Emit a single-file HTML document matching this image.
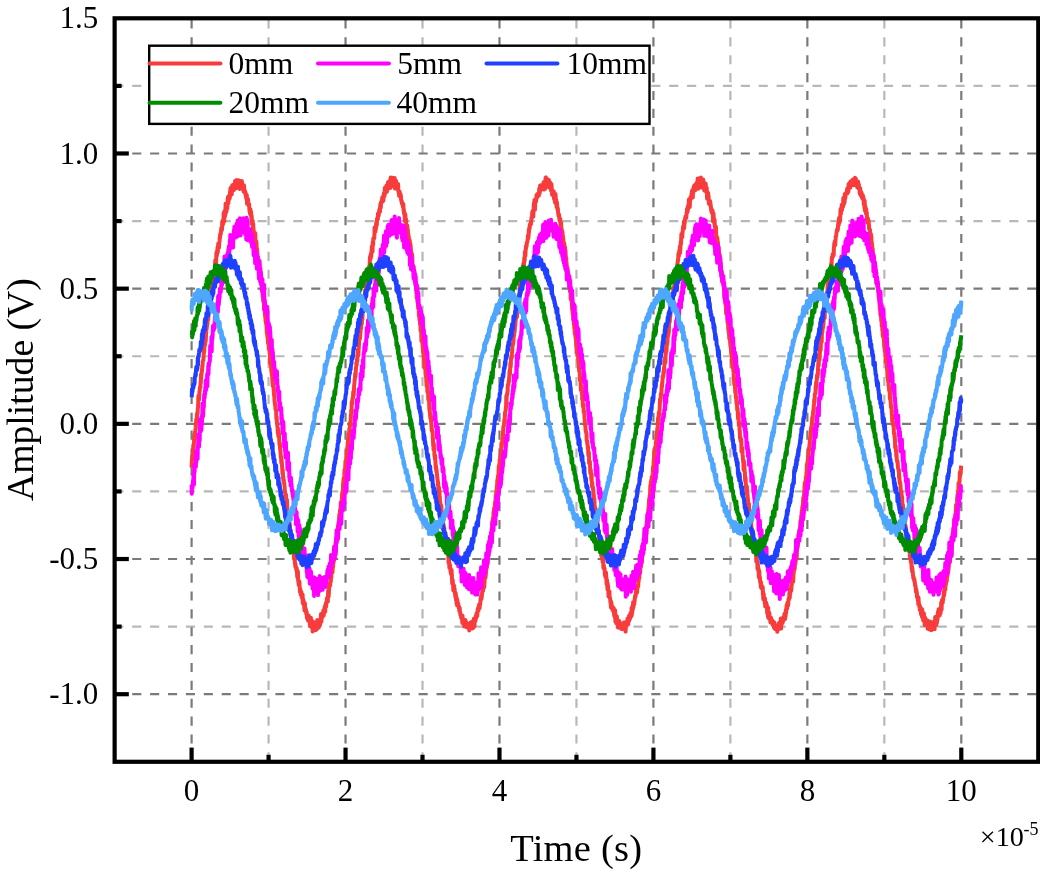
<!DOCTYPE html>
<html lang="en"><head><meta charset="utf-8"><title>Amplitude vs Time</title>
<style>html,body{margin:0;padding:0;background:#fff}body{width:1040px;height:874px;overflow:hidden}svg{display:block}text{font-family:"Liberation Serif",serif;fill:#000}</style>
</head><body>
<svg width="1040" height="874" viewBox="0 0 1040 874">
<rect width="1040" height="874" fill="#fff"/>
<g fill="none" stroke-width="2.2" stroke-dasharray="9.1 8.8">
<path d="M114.30 85.89H1038.27" stroke="#b8b8b8"/>
<path d="M114.30 221.07H1038.27" stroke="#b8b8b8"/>
<path d="M114.30 356.25H1038.27" stroke="#b8b8b8"/>
<path d="M114.30 491.43H1038.27" stroke="#b8b8b8"/>
<path d="M114.30 626.61H1038.27" stroke="#b8b8b8"/>
<path d="M268.57 19.50V761.79" stroke="#b8b8b8" stroke-dasharray="9.1 8.773"/>
<path d="M422.51 19.50V761.79" stroke="#b8b8b8" stroke-dasharray="9.1 8.773"/>
<path d="M576.45 19.50V761.79" stroke="#b8b8b8" stroke-dasharray="9.1 8.773"/>
<path d="M730.39 19.50V761.79" stroke="#b8b8b8" stroke-dasharray="9.1 8.773"/>
<path d="M884.33 19.50V761.79" stroke="#b8b8b8" stroke-dasharray="9.1 8.773"/>
<path d="M114.30 153.48H1038.27" stroke="#7a7a7a"/>
<path d="M114.30 288.66H1038.27" stroke="#7a7a7a"/>
<path d="M114.30 423.84H1038.27" stroke="#7a7a7a"/>
<path d="M114.30 559.02H1038.27" stroke="#7a7a7a"/>
<path d="M114.30 694.20H1038.27" stroke="#7a7a7a"/>
<path d="M191.60 19.50V761.79" stroke="#7a7a7a" stroke-dasharray="9.1 8.773"/>
<path d="M345.54 19.50V761.79" stroke="#7a7a7a" stroke-dasharray="9.1 8.773"/>
<path d="M499.48 19.50V761.79" stroke="#7a7a7a" stroke-dasharray="9.1 8.773"/>
<path d="M653.42 19.50V761.79" stroke="#7a7a7a" stroke-dasharray="9.1 8.773"/>
<path d="M807.36 19.50V761.79" stroke="#7a7a7a" stroke-dasharray="9.1 8.773"/>
<path d="M961.30 19.50V761.79" stroke="#7a7a7a" stroke-dasharray="9.1 8.773"/>
</g>
<g fill="none" stroke-width="4" stroke-linejoin="round" stroke-linecap="butt">
<path stroke="#f83c3c" d="M191.6 467.7L191.8 462.7L192.0 459.4L192.2 456.0L192.5 459.7L192.7 458.0L192.9 451.2L193.1 449.8L193.3 445.3L193.5 444.7L193.7 445.3L194.0 443.8L194.2 435.1L194.4 440.0L194.6 439.2L194.8 438.1L195.0 433.2L195.2 431.1L195.4 430.3L195.7 427.7L195.9 424.9L196.1 421.9L196.3 419.0L196.5 419.2L196.7 422.1L196.9 414.1L197.2 417.3L197.4 412.4L197.6 413.6L197.8 408.0L198.0 408.0L198.2 403.6L198.4 396.1L198.7 400.4L198.9 396.3L199.1 399.6L199.3 395.2L199.5 391.0L199.7 390.9L199.9 387.8L200.2 386.6L200.4 387.4L200.6 381.6L200.8 383.1L201.0 374.6L201.2 378.5L201.4 373.7L201.6 373.5L201.9 369.3L202.1 371.2L202.3 365.4L202.5 366.3L202.7 361.0L202.9 360.7L203.1 360.1L203.4 360.4L203.6 354.8L203.8 353.7L204.0 349.0L204.2 352.1L204.4 348.0L204.6 346.3L204.9 345.0L205.1 343.4L205.3 341.7L205.5 341.8L205.7 341.0L205.9 337.7L206.1 333.5L206.4 329.5L206.6 329.1L206.8 327.1L207.0 326.1L207.2 324.5L207.4 324.0L207.6 320.9L207.8 316.7L208.1 320.1L208.3 319.3L208.5 311.1L208.7 313.6L208.9 310.2L209.1 308.7L209.3 311.9L209.6 301.6L209.8 301.5L210.0 303.8L210.2 300.7L210.4 300.6L210.6 301.5L210.8 298.0L211.1 295.2L211.3 291.8L211.5 291.2L211.7 291.2L211.9 286.5L212.1 290.0L212.3 284.7L212.6 282.4L212.8 284.3L213.0 286.4L213.2 282.7L213.4 278.4L213.6 276.2L213.8 272.2L214.0 277.0L214.3 273.1L214.5 270.0L214.7 270.5L214.9 274.5L215.1 265.3L215.3 260.2L215.5 262.0L215.8 265.2L216.0 262.6L216.2 259.7L216.4 252.8L216.6 256.0L216.8 255.8L217.0 251.0L217.3 253.6L217.5 247.6L217.7 252.5L217.9 250.6L218.1 246.4L218.3 243.4L218.5 244.0L218.8 243.6L219.0 247.6L219.2 243.6L219.4 242.1L219.6 240.7L219.8 236.8L220.0 237.8L220.2 233.9L220.5 234.4L220.7 234.3L220.9 232.0L221.1 230.1L221.3 228.0L221.5 230.1L221.7 228.4L222.0 230.0L222.2 221.7L222.4 221.0L222.6 223.9L222.8 223.6L223.0 224.4L223.2 220.0L223.5 218.9L223.7 213.0L223.9 216.8L224.1 218.3L224.3 221.4L224.5 211.0L224.7 213.1L225.0 216.5L225.2 211.2L225.4 214.7L225.6 203.8L225.8 206.3L226.0 206.7L226.2 207.7L226.5 211.7L226.7 205.9L226.9 208.6L227.1 202.6L227.3 208.4L227.5 204.7L227.7 198.7L227.9 196.9L228.2 203.1L228.4 203.2L228.6 196.6L228.8 196.0L229.0 199.8L229.2 198.4L229.4 197.8L229.7 198.4L229.9 196.5L230.1 191.2L230.3 192.0L230.5 188.1L230.7 192.7L230.9 192.3L231.2 193.8L231.4 191.2L231.6 193.6L231.8 194.3L232.0 187.8L232.2 185.5L232.4 186.5L232.7 184.9L232.9 187.1L233.1 189.1L233.3 186.8L233.5 187.5L233.7 189.0L233.9 190.0L234.1 189.2L234.4 185.3L234.6 184.7L234.8 185.9L235.0 181.0L235.2 183.8L235.4 182.6L235.6 180.9L235.9 185.7L236.1 188.3L236.3 181.5L236.5 184.9L236.7 179.9L236.9 182.2L237.1 180.5L237.4 181.0L237.6 187.8L237.8 181.0L238.0 184.4L238.2 184.6L238.4 183.8L238.6 180.9L238.9 180.7L239.1 180.4L239.3 187.0L239.5 184.5L239.7 189.0L239.9 183.6L240.1 182.0L240.3 185.5L240.6 183.3L240.8 183.5L241.0 181.9L241.2 186.6L241.4 186.8L241.6 187.0L241.8 181.1L242.1 183.1L242.3 186.3L242.5 185.8L242.7 186.5L242.9 186.7L243.1 188.1L243.3 188.8L243.6 191.5L243.8 190.4L244.0 185.3L244.2 188.5L244.4 190.2L244.6 191.4L244.8 191.3L245.1 191.2L245.3 194.2L245.5 192.7L245.7 193.2L245.9 196.3L246.1 197.0L246.3 198.2L246.5 199.1L246.8 195.0L247.0 203.7L247.2 199.3L247.4 200.9L247.6 201.7L247.8 200.8L248.0 199.1L248.3 202.5L248.5 203.8L248.7 205.9L248.9 205.6L249.1 203.9L249.3 208.0L249.5 210.8L249.8 212.0L250.0 212.6L250.2 214.3L250.4 209.2L250.6 212.1L250.8 214.5L251.0 211.5L251.3 217.7L251.5 215.3L251.7 216.3L251.9 223.2L252.1 224.3L252.3 223.9L252.5 220.6L252.7 220.9L253.0 228.2L253.2 223.9L253.4 228.6L253.6 229.9L253.8 231.5L254.0 232.2L254.2 237.2L254.5 236.5L254.7 238.4L254.9 235.5L255.1 233.0L255.3 233.3L255.5 241.6L255.7 246.4L256.0 244.6L256.2 247.3L256.4 241.6L256.6 246.5L256.8 251.1L257.0 248.5L257.2 251.0L257.5 257.7L257.7 256.6L257.9 257.4L258.1 258.3L258.3 259.6L258.5 262.3L258.7 262.6L258.9 266.0L259.2 268.4L259.4 264.1L259.6 268.6L259.8 270.0L260.0 276.6L260.2 274.8L260.4 274.0L260.7 280.8L260.9 276.7L261.1 282.0L261.3 281.8L261.5 284.8L261.7 285.7L261.9 285.0L262.2 290.6L262.4 287.6L262.6 295.1L262.8 297.2L263.0 295.0L263.2 301.1L263.4 301.2L263.7 299.9L263.9 300.9L264.1 310.0L264.3 306.3L264.5 304.7L264.7 308.2L264.9 313.6L265.1 316.3L265.4 317.4L265.6 321.4L265.8 321.1L266.0 322.7L266.2 324.5L266.4 323.2L266.6 328.5L266.9 333.4L267.1 329.2L267.3 336.2L267.5 336.6L267.7 337.7L267.9 340.2L268.1 343.7L268.4 343.8L268.6 339.8L268.8 348.5L269.0 349.3L269.2 348.1L269.4 351.0L269.6 352.9L269.9 354.6L270.1 363.4L270.3 362.7L270.5 362.2L270.7 363.3L270.9 363.3L271.1 367.2L271.3 370.9L271.6 372.2L271.8 374.7L272.0 375.6L272.2 376.5L272.4 380.9L272.6 384.0L272.8 386.1L273.1 383.3L273.3 384.8L273.5 387.4L273.7 389.7L273.9 391.7L274.1 395.7L274.3 396.0L274.6 402.1L274.8 402.0L275.0 405.2L275.2 403.6L275.4 408.7L275.6 409.5L275.8 410.2L276.1 409.8L276.3 417.0L276.5 419.3L276.7 416.9L276.9 423.5L277.1 421.6L277.3 426.0L277.5 426.8L277.8 432.9L278.0 428.6L278.2 433.5L278.4 436.4L278.6 431.0L278.8 436.2L279.0 433.7L279.3 440.7L279.5 444.4L279.7 445.2L279.9 443.4L280.1 449.2L280.3 449.9L280.5 451.6L280.8 456.9L281.0 456.2L281.2 459.6L281.4 463.2L281.6 459.9L281.8 462.2L282.0 465.4L282.3 469.6L282.5 474.1L282.7 469.8L282.9 473.0L283.1 478.7L283.3 476.5L283.5 481.8L283.8 479.9L284.0 481.3L284.2 482.5L284.4 484.6L284.6 486.4L284.8 491.3L285.0 491.2L285.2 493.2L285.5 494.2L285.7 494.7L285.9 495.5L286.1 494.7L286.3 506.5L286.5 501.1L286.7 504.2L287.0 499.8L287.2 504.7L287.4 512.6L287.6 509.3L287.8 513.1L288.0 511.0L288.2 517.6L288.5 516.9L288.7 518.5L288.9 520.0L289.1 522.8L289.3 527.4L289.5 523.3L289.7 523.6L290.0 527.7L290.2 531.5L290.4 530.1L290.6 530.7L290.8 534.0L291.0 535.1L291.2 533.1L291.4 540.7L291.7 540.8L291.9 545.5L292.1 544.0L292.3 545.5L292.5 547.5L292.7 548.2L292.9 543.6L293.2 549.8L293.4 551.0L293.6 546.7L293.8 553.6L294.0 559.0L294.2 555.1L294.4 559.7L294.7 554.8L294.9 563.1L295.1 562.8L295.3 566.6L295.5 563.7L295.7 567.7L295.9 566.6L296.2 568.6L296.4 570.4L296.6 567.8L296.8 569.1L297.0 572.4L297.2 575.9L297.4 577.5L297.6 575.4L297.9 571.4L298.1 579.5L298.3 581.4L298.5 582.3L298.7 584.4L298.9 585.2L299.1 584.4L299.4 581.5L299.6 586.1L299.8 588.4L300.0 592.1L300.2 588.7L300.4 590.3L300.6 594.2L300.9 594.8L301.1 593.3L301.3 591.7L301.5 593.6L301.7 595.5L301.9 597.8L302.1 597.1L302.4 598.8L302.6 594.4L302.8 603.3L303.0 602.3L303.2 599.2L303.4 603.8L303.6 600.5L303.8 604.9L304.1 605.2L304.3 607.2L304.5 610.5L304.7 610.2L304.9 603.2L305.1 607.8L305.3 608.6L305.6 608.5L305.8 610.1L306.0 609.7L306.2 613.4L306.4 614.0L306.6 611.7L306.8 615.6L307.1 618.5L307.3 616.4L307.5 617.8L307.7 615.5L307.9 619.3L308.1 620.7L308.3 619.4L308.6 615.4L308.8 619.7L309.0 619.7L309.2 620.5L309.4 620.3L309.6 619.2L309.8 618.4L310.0 626.2L310.3 619.3L310.5 623.0L310.7 624.1L310.9 617.8L311.1 624.4L311.3 619.5L311.5 622.2L311.8 627.3L312.0 623.9L312.2 623.5L312.4 625.8L312.6 631.4L312.8 626.7L313.0 626.5L313.3 628.9L313.5 621.9L313.7 627.1L313.9 627.5L314.1 627.4L314.3 628.6L314.5 628.7L314.8 626.6L315.0 626.1L315.2 628.1L315.4 627.0L315.6 630.2L315.8 625.5L316.0 628.5L316.2 626.1L316.5 628.7L316.7 627.6L316.9 625.7L317.1 629.0L317.3 619.9L317.5 625.8L317.7 625.7L318.0 627.0L318.2 621.1L318.4 621.4L318.6 623.7L318.8 627.5L319.0 625.1L319.2 622.0L319.5 624.4L319.7 625.7L319.9 625.3L320.1 623.9L320.3 621.5L320.5 622.7L320.7 620.6L321.0 614.1L321.2 615.4L321.4 621.7L321.6 617.8L321.8 617.9L322.0 617.9L322.2 614.4L322.4 617.2L322.7 616.5L322.9 616.0L323.1 614.7L323.3 610.6L323.5 611.2L323.7 615.6L323.9 612.7L324.2 612.8L324.4 608.2L324.6 608.8L324.8 606.4L325.0 607.9L325.2 611.6L325.4 605.0L325.7 604.6L325.9 603.1L326.1 606.6L326.3 602.3L326.5 603.2L326.7 602.3L326.9 598.8L327.2 597.8L327.4 599.8L327.6 600.8L327.8 601.6L328.0 595.9L328.2 590.7L328.4 592.5L328.6 596.8L328.9 592.3L329.1 588.0L329.3 583.8L329.5 583.9L329.7 584.6L329.9 583.8L330.1 585.7L330.4 583.0L330.6 581.5L330.8 581.3L331.0 578.0L331.2 577.8L331.4 574.7L331.6 570.7L331.9 571.1L332.1 570.5L332.3 570.7L332.5 572.5L332.7 567.7L332.9 564.7L333.1 567.0L333.4 560.1L333.6 562.5L333.8 559.3L334.0 559.6L334.2 560.3L334.4 550.7L334.6 557.1L334.8 550.5L335.1 552.6L335.3 549.0L335.5 550.1L335.7 547.5L335.9 542.7L336.1 538.6L336.3 543.8L336.6 540.1L336.8 536.2L337.0 538.4L337.2 533.5L337.4 535.5L337.6 530.4L337.8 529.1L338.1 525.6L338.3 525.9L338.5 528.0L338.7 521.8L338.9 524.3L339.1 518.1L339.3 514.5L339.6 514.9L339.8 516.0L340.0 510.0L340.2 510.7L340.4 512.3L340.6 508.4L340.8 502.2L341.1 504.6L341.3 501.8L341.5 501.1L341.7 502.5L341.9 497.8L342.1 493.9L342.3 492.4L342.5 491.4L342.8 494.3L343.0 484.3L343.2 483.6L343.4 481.0L343.6 478.5L343.8 480.8L344.0 479.3L344.3 475.2L344.5 470.0L344.7 476.2L344.9 470.8L345.1 470.1L345.3 465.0L345.5 460.9L345.8 463.3L346.0 463.6L346.2 458.6L346.4 457.4L346.6 458.6L346.8 450.7L347.0 452.2L347.3 447.3L347.5 450.2L347.7 442.4L347.9 446.7L348.1 438.6L348.3 443.7L348.5 433.9L348.7 436.3L349.0 437.2L349.2 432.0L349.4 428.7L349.6 429.9L349.8 426.8L350.0 423.0L350.2 422.1L350.5 425.8L350.7 418.8L350.9 414.8L351.1 413.2L351.3 409.5L351.5 411.7L351.7 402.0L352.0 404.2L352.2 403.4L352.4 399.6L352.6 398.0L352.8 398.1L353.0 397.9L353.2 392.0L353.5 391.5L353.7 395.3L353.9 391.4L354.1 385.7L354.3 384.6L354.5 382.3L354.7 379.5L354.9 378.8L355.2 373.4L355.4 376.8L355.6 374.5L355.8 370.8L356.0 367.9L356.2 365.9L356.4 362.4L356.7 365.3L356.9 359.4L357.1 359.3L357.3 361.1L357.5 357.0L357.7 349.8L357.9 351.1L358.2 352.3L358.4 355.2L358.6 349.3L358.8 347.4L359.0 343.7L359.2 336.5L359.4 338.5L359.7 337.8L359.9 339.0L360.1 337.9L360.3 333.7L360.5 332.6L360.7 323.6L360.9 328.9L361.1 327.7L361.4 321.7L361.6 322.5L361.8 324.0L362.0 316.2L362.2 318.4L362.4 319.1L362.6 313.4L362.9 311.3L363.1 311.7L363.3 307.5L363.5 305.5L363.7 308.0L363.9 309.2L364.1 308.4L364.4 301.3L364.6 296.3L364.8 295.3L365.0 292.7L365.2 290.0L365.4 292.9L365.6 288.8L365.9 293.5L366.1 286.5L366.3 285.7L366.5 285.3L366.7 284.6L366.9 284.7L367.1 280.2L367.3 275.9L367.6 278.4L367.8 274.7L368.0 276.1L368.2 272.4L368.4 274.0L368.6 269.2L368.8 269.2L369.1 266.5L369.3 267.3L369.5 267.3L369.7 263.8L369.9 259.1L370.1 256.4L370.3 259.6L370.6 255.5L370.8 254.3L371.0 253.8L371.2 257.2L371.4 251.3L371.6 253.2L371.8 246.6L372.1 246.3L372.3 245.4L372.5 251.7L372.7 242.9L372.9 241.4L373.1 245.0L373.3 238.3L373.5 239.2L373.8 238.7L374.0 238.7L374.2 238.3L374.4 235.7L374.6 227.4L374.8 231.8L375.0 230.7L375.3 231.6L375.5 230.4L375.7 229.2L375.9 228.9L376.1 223.5L376.3 225.2L376.5 221.4L376.8 225.3L377.0 219.1L377.2 220.4L377.4 217.7L377.6 218.6L377.8 219.5L378.0 213.4L378.3 216.5L378.5 214.8L378.7 215.7L378.9 212.1L379.1 212.6L379.3 210.1L379.5 209.0L379.7 210.7L380.0 211.6L380.2 206.2L380.4 204.2L380.6 203.9L380.8 207.6L381.0 202.5L381.2 202.3L381.5 201.8L381.7 200.6L381.9 201.7L382.1 199.7L382.3 197.2L382.5 200.0L382.7 201.6L383.0 197.7L383.2 196.3L383.4 200.6L383.6 197.1L383.8 193.4L384.0 194.6L384.2 193.4L384.5 196.2L384.7 190.3L384.9 187.7L385.1 191.9L385.3 192.7L385.5 193.2L385.7 187.8L385.9 189.2L386.2 190.9L386.4 185.6L386.6 186.3L386.8 186.3L387.0 191.6L387.2 187.2L387.4 185.1L387.7 189.2L387.9 183.7L388.1 182.1L388.3 182.8L388.5 186.8L388.7 186.5L388.9 182.2L389.2 181.9L389.4 181.1L389.6 180.9L389.8 183.9L390.0 184.5L390.2 187.9L390.4 181.3L390.7 177.5L390.9 184.1L391.1 184.1L391.3 181.3L391.5 181.9L391.7 186.1L391.9 184.5L392.1 185.4L392.4 177.8L392.6 184.5L392.8 180.8L393.0 178.2L393.2 178.4L393.4 179.6L393.6 179.2L393.9 186.4L394.1 184.3L394.3 185.5L394.5 184.6L394.7 178.0L394.9 188.4L395.1 183.2L395.4 187.8L395.6 181.8L395.8 182.2L396.0 187.0L396.2 181.0L396.4 186.2L396.6 183.6L396.9 186.4L397.1 188.9L397.3 188.9L397.5 188.7L397.7 187.4L397.9 189.1L398.1 184.1L398.3 190.8L398.6 192.0L398.8 193.2L399.0 193.9L399.2 196.1L399.4 195.6L399.6 191.6L399.8 194.3L400.1 195.5L400.3 194.9L400.5 193.9L400.7 195.7L400.9 196.0L401.1 200.0L401.3 200.1L401.6 202.1L401.8 201.2L402.0 203.8L402.2 203.6L402.4 203.9L402.6 204.9L402.8 205.9L403.1 207.3L403.3 203.9L403.5 208.8L403.7 211.4L403.9 209.5L404.1 213.6L404.3 214.5L404.6 212.7L404.8 218.0L405.0 221.1L405.2 215.4L405.4 214.7L405.6 222.3L405.8 221.6L406.0 219.1L406.3 226.5L406.5 225.0L406.7 227.0L406.9 225.7L407.1 231.2L407.3 225.5L407.5 229.3L407.8 229.4L408.0 232.3L408.2 237.9L408.4 234.4L408.6 238.6L408.8 236.7L409.0 240.1L409.3 240.2L409.5 241.3L409.7 240.3L409.9 241.7L410.1 247.4L410.3 246.5L410.5 244.3L410.8 248.1L411.0 252.6L411.2 252.6L411.4 254.6L411.6 253.0L411.8 256.7L412.0 257.4L412.2 254.5L412.5 264.8L412.7 265.5L412.9 268.8L413.1 270.1L413.3 265.7L413.5 268.7L413.7 267.1L414.0 277.5L414.2 276.5L414.4 272.5L414.6 275.2L414.8 277.2L415.0 278.9L415.2 282.7L415.5 284.5L415.7 286.1L415.9 285.9L416.1 290.1L416.3 290.6L416.5 289.6L416.7 297.7L417.0 298.5L417.2 297.1L417.4 300.9L417.6 302.4L417.8 298.8L418.0 304.7L418.2 308.5L418.4 306.7L418.7 305.1L418.9 315.7L419.1 316.5L419.3 316.4L419.5 320.1L419.7 315.1L419.9 321.0L420.2 325.1L420.4 324.8L420.6 329.9L420.8 331.3L421.0 331.5L421.2 327.8L421.4 341.0L421.7 336.4L421.9 336.0L422.1 339.4L422.3 338.5L422.5 344.0L422.7 346.7L422.9 349.3L423.2 353.0L423.4 348.8L423.6 357.6L423.8 357.0L424.0 359.9L424.2 362.5L424.4 367.9L424.6 365.4L424.9 366.1L425.1 368.0L425.3 368.3L425.5 372.7L425.7 375.8L425.9 375.4L426.1 376.5L426.4 382.3L426.6 385.7L426.8 386.5L427.0 383.4L427.2 385.5L427.4 392.0L427.6 391.5L427.9 391.7L428.1 392.4L428.3 399.2L428.5 400.2L428.7 398.1L428.9 397.6L429.1 401.7L429.4 410.1L429.6 408.2L429.8 411.9L430.0 413.3L430.2 416.7L430.4 418.2L430.6 418.9L430.8 416.4L431.1 421.0L431.3 423.6L431.5 426.5L431.7 430.3L431.9 430.9L432.1 429.3L432.3 432.1L432.6 431.3L432.8 437.3L433.0 439.9L433.2 445.6L433.4 442.6L433.6 449.6L433.8 443.6L434.1 450.7L434.3 451.0L434.5 456.1L434.7 455.9L434.9 458.8L435.1 455.6L435.3 459.6L435.6 464.9L435.8 468.5L436.0 465.8L436.2 468.6L436.4 471.9L436.6 469.6L436.8 473.3L437.0 474.3L437.3 477.8L437.5 479.5L437.7 481.0L437.9 485.5L438.1 481.8L438.3 484.1L438.5 491.0L438.8 488.3L439.0 487.5L439.2 491.4L439.4 490.5L439.6 496.0L439.8 497.0L440.0 501.9L440.3 502.6L440.5 506.5L440.7 505.9L440.9 504.8L441.1 505.7L441.3 505.8L441.5 509.9L441.8 514.3L442.0 512.4L442.2 515.4L442.4 512.3L442.6 513.5L442.8 517.5L443.0 524.1L443.2 524.2L443.5 524.0L443.7 527.7L443.9 526.3L444.1 527.4L444.3 528.5L444.5 531.5L444.7 535.7L445.0 537.1L445.2 536.8L445.4 534.7L445.6 535.6L445.8 538.5L446.0 541.4L446.2 542.1L446.5 543.1L446.7 543.4L446.9 545.9L447.1 553.1L447.3 548.4L447.5 551.1L447.7 554.6L448.0 553.5L448.2 555.4L448.4 557.6L448.6 562.9L448.8 559.8L449.0 560.0L449.2 562.8L449.4 567.8L449.7 564.1L449.9 564.7L450.1 567.2L450.3 567.9L450.5 571.0L450.7 572.9L450.9 571.3L451.2 574.6L451.4 574.5L451.6 570.0L451.8 575.5L452.0 578.1L452.2 583.5L452.4 580.4L452.7 579.9L452.9 584.6L453.1 584.5L453.3 590.5L453.5 584.7L453.7 588.6L453.9 586.5L454.2 585.9L454.4 590.6L454.6 588.8L454.8 591.6L455.0 593.7L455.2 594.8L455.4 597.2L455.6 592.9L455.9 594.8L456.1 600.3L456.3 596.7L456.5 601.5L456.7 604.2L456.9 598.5L457.1 605.4L457.4 600.2L457.6 603.5L457.8 602.6L458.0 604.3L458.2 603.5L458.4 606.3L458.6 606.5L458.9 608.0L459.1 606.7L459.3 611.0L459.5 608.3L459.7 607.8L459.9 612.3L460.1 611.7L460.4 614.7L460.6 614.8L460.8 614.1L461.0 616.1L461.2 618.1L461.4 616.5L461.6 616.6L461.9 616.8L462.1 616.4L462.3 622.9L462.5 615.7L462.7 620.0L462.9 622.0L463.1 621.4L463.3 619.9L463.6 619.3L463.8 622.7L464.0 621.8L464.2 626.5L464.4 622.5L464.6 623.6L464.8 624.7L465.1 621.8L465.3 619.9L465.5 622.0L465.7 626.7L465.9 621.3L466.1 626.1L466.3 625.6L466.6 627.1L466.8 624.8L467.0 624.7L467.2 625.9L467.4 626.9L467.6 626.8L467.8 627.5L468.1 624.3L468.3 628.0L468.5 627.1L468.7 627.3L468.9 628.7L469.1 627.4L469.3 630.4L469.5 625.8L469.8 625.4L470.0 627.4L470.2 622.8L470.4 628.5L470.6 625.0L470.8 625.0L471.0 627.4L471.3 626.5L471.5 623.5L471.7 625.3L471.9 624.6L472.1 621.6L472.3 624.2L472.5 628.5L472.8 625.9L473.0 621.8L473.2 623.8L473.4 625.8L473.6 627.6L473.8 621.6L474.0 618.4L474.3 624.6L474.5 626.4L474.7 619.5L474.9 621.5L475.1 620.4L475.3 620.0L475.5 620.8L475.7 617.0L476.0 615.3L476.2 616.1L476.4 617.7L476.6 613.2L476.8 615.4L477.0 613.0L477.2 616.0L477.5 611.5L477.7 610.6L477.9 608.5L478.1 610.8L478.3 609.1L478.5 610.7L478.7 606.4L479.0 605.9L479.2 604.3L479.4 607.0L479.6 608.1L479.8 604.5L480.0 603.9L480.2 604.3L480.5 600.1L480.7 598.3L480.9 598.7L481.1 596.0L481.3 596.7L481.5 599.0L481.7 597.0L481.9 595.4L482.2 591.8L482.4 590.2L482.6 590.9L482.8 587.7L483.0 591.0L483.2 588.1L483.4 583.1L483.7 584.5L483.9 581.8L484.1 587.6L484.3 585.9L484.5 582.7L484.7 577.0L484.9 574.2L485.2 578.3L485.4 577.9L485.6 576.6L485.8 575.0L486.0 570.2L486.2 570.9L486.4 564.3L486.7 565.6L486.9 567.6L487.1 564.0L487.3 563.5L487.5 559.8L487.7 558.0L487.9 559.6L488.1 555.1L488.4 554.4L488.6 554.5L488.8 552.1L489.0 549.6L489.2 550.4L489.4 549.7L489.6 543.5L489.9 544.9L490.1 544.8L490.3 540.6L490.5 543.6L490.7 538.4L490.9 540.1L491.1 536.2L491.4 537.8L491.6 533.6L491.8 528.0L492.0 528.9L492.2 529.7L492.4 520.9L492.6 524.9L492.9 518.1L493.1 521.1L493.3 521.6L493.5 512.0L493.7 515.7L493.9 511.0L494.1 508.2L494.3 512.4L494.6 507.3L494.8 507.1L495.0 502.4L495.2 502.1L495.4 503.2L495.6 498.3L495.8 494.7L496.1 495.4L496.3 491.5L496.5 492.3L496.7 489.3L496.9 486.4L497.1 485.0L497.3 480.5L497.6 479.4L497.8 477.7L498.0 476.1L498.2 475.6L498.4 476.8L498.6 469.6L498.8 466.1L499.1 467.8L499.3 467.0L499.5 464.5L499.7 459.6L499.9 459.9L500.1 461.0L500.3 457.1L500.5 456.6L500.8 453.3L501.0 453.0L501.2 451.1L501.4 443.5L501.6 442.6L501.8 447.0L502.0 443.5L502.3 440.3L502.5 438.2L502.7 438.6L502.9 431.3L503.1 435.3L503.3 427.8L503.5 425.9L503.8 426.4L504.0 425.2L504.2 421.5L504.4 419.4L504.6 422.8L504.8 418.8L505.0 412.6L505.3 412.2L505.5 411.0L505.7 410.4L505.9 407.8L506.1 406.0L506.3 396.1L506.5 403.3L506.7 394.7L507.0 395.3L507.2 394.0L507.4 392.1L507.6 391.5L507.8 384.9L508.0 385.6L508.2 385.0L508.5 383.3L508.7 380.6L508.9 381.9L509.1 378.0L509.3 376.9L509.5 372.0L509.7 370.2L510.0 374.2L510.2 368.4L510.4 363.6L510.6 367.2L510.8 365.1L511.0 358.0L511.2 358.8L511.5 357.8L511.7 357.7L511.9 352.6L512.1 352.5L512.3 348.8L512.5 346.5L512.7 344.0L512.9 344.7L513.2 343.4L513.4 340.2L513.6 338.8L513.8 336.3L514.0 336.2L514.2 333.8L514.4 332.8L514.7 331.1L514.9 327.6L515.1 323.4L515.3 325.7L515.5 321.3L515.7 320.2L515.9 319.0L516.2 316.0L516.4 317.2L516.6 312.8L516.8 311.8L517.0 316.9L517.2 308.3L517.4 306.1L517.7 301.2L517.9 306.7L518.1 302.3L518.3 300.1L518.5 301.6L518.7 294.8L518.9 295.0L519.2 296.4L519.4 295.7L519.6 292.3L519.8 284.1L520.0 283.0L520.2 292.5L520.4 289.4L520.6 282.0L520.9 282.3L521.1 282.0L521.3 277.5L521.5 277.3L521.7 275.3L521.9 273.9L522.1 275.6L522.4 268.4L522.6 271.2L522.8 266.0L523.0 265.6L523.2 265.7L523.4 264.1L523.6 263.1L523.9 266.0L524.1 261.0L524.3 257.8L524.5 261.3L524.7 259.7L524.9 252.2L525.1 251.5L525.4 255.8L525.6 249.7L525.8 249.6L526.0 245.8L526.2 247.7L526.4 246.1L526.6 246.1L526.8 242.7L527.1 242.2L527.3 242.2L527.5 240.2L527.7 240.0L527.9 235.5L528.1 238.3L528.3 238.3L528.6 235.8L528.8 229.7L529.0 232.4L529.2 228.5L529.4 227.2L529.6 229.0L529.8 224.9L530.1 224.4L530.3 224.6L530.5 225.2L530.7 222.6L530.9 224.5L531.1 221.0L531.3 220.7L531.6 217.3L531.8 216.5L532.0 217.9L532.2 213.3L532.4 211.6L532.6 213.4L532.8 214.4L533.0 210.5L533.3 216.6L533.5 211.3L533.7 207.6L533.9 203.3L534.1 209.0L534.3 202.8L534.5 200.0L534.8 200.3L535.0 209.7L535.2 200.6L535.4 202.0L535.6 199.2L535.8 201.4L536.0 201.7L536.3 200.0L536.5 195.2L536.7 196.1L536.9 198.1L537.1 195.8L537.3 194.0L537.5 194.1L537.8 194.9L538.0 195.8L538.2 195.4L538.4 194.1L538.6 193.8L538.8 195.8L539.0 194.8L539.2 188.8L539.5 193.1L539.7 193.1L539.9 189.6L540.1 185.5L540.3 185.5L540.5 189.1L540.7 190.2L541.0 188.6L541.2 189.2L541.4 187.9L541.6 185.1L541.8 188.5L542.0 187.5L542.2 185.9L542.5 185.1L542.7 186.6L542.9 186.4L543.1 187.0L543.3 185.9L543.5 182.6L543.7 184.2L544.0 189.6L544.2 181.8L544.4 183.4L544.6 185.2L544.8 183.6L545.0 189.0L545.2 186.8L545.4 180.0L545.7 177.6L545.9 177.4L546.1 184.5L546.3 182.6L546.5 180.9L546.7 185.8L546.9 178.7L547.2 184.7L547.4 182.2L547.6 186.0L547.8 182.5L548.0 183.5L548.2 181.1L548.4 186.7L548.7 184.1L548.9 179.9L549.1 187.4L549.3 184.0L549.5 184.0L549.7 186.6L549.9 186.4L550.2 182.6L550.4 183.6L550.6 185.4L550.8 186.5L551.0 190.3L551.2 187.8L551.4 184.1L551.6 186.3L551.9 192.7L552.1 194.9L552.3 192.0L552.5 190.5L552.7 192.8L552.9 192.8L553.1 191.8L553.4 191.0L553.6 193.3L553.8 191.4L554.0 198.6L554.2 194.6L554.4 195.4L554.6 200.8L554.9 194.9L555.1 202.5L555.3 202.9L555.5 194.1L555.7 197.8L555.9 200.9L556.1 199.3L556.4 200.7L556.6 207.1L556.8 204.1L557.0 202.7L557.2 207.5L557.4 207.8L557.6 210.1L557.8 208.1L558.1 212.3L558.3 213.3L558.5 215.9L558.7 216.2L558.9 214.5L559.1 214.9L559.3 218.1L559.6 220.8L559.8 218.6L560.0 219.7L560.2 218.6L560.4 224.1L560.6 225.0L560.8 224.0L561.1 222.7L561.3 227.8L561.5 229.1L561.7 232.5L561.9 232.4L562.1 230.4L562.3 232.0L562.6 232.6L562.8 240.7L563.0 236.0L563.2 241.7L563.4 239.3L563.6 248.0L563.8 243.8L564.0 247.2L564.3 243.3L564.5 247.6L564.7 246.1L564.9 251.9L565.1 247.5L565.3 254.9L565.5 250.6L565.8 258.0L566.0 260.8L566.2 257.7L566.4 262.4L566.6 263.2L566.8 267.9L567.0 267.1L567.3 267.5L567.5 271.2L567.7 270.1L567.9 278.3L568.1 272.2L568.3 277.0L568.5 274.1L568.8 280.2L569.0 282.7L569.2 283.9L569.4 283.8L569.6 284.7L569.8 289.1L570.0 291.6L570.2 290.3L570.5 291.1L570.7 299.2L570.9 299.3L571.1 300.1L571.3 296.1L571.5 299.0L571.7 301.9L572.0 304.5L572.2 310.2L572.4 306.6L572.6 312.2L572.8 314.9L573.0 310.1L573.2 320.3L573.5 315.1L573.7 319.9L573.9 324.5L574.1 323.7L574.3 328.1L574.5 327.5L574.7 331.4L575.0 334.6L575.2 327.5L575.4 336.7L575.6 335.0L575.8 339.4L576.0 339.6L576.2 346.3L576.5 347.7L576.7 353.1L576.9 346.5L577.1 349.8L577.3 355.7L577.5 352.7L577.7 355.2L577.9 352.5L578.2 360.0L578.4 360.3L578.6 362.9L578.8 364.5L579.0 368.4L579.2 371.3L579.4 370.5L579.7 371.2L579.9 379.0L580.1 380.9L580.3 380.2L580.5 377.6L580.7 384.5L580.9 390.1L581.2 385.9L581.4 388.0L581.6 387.0L581.8 393.3L582.0 390.8L582.2 399.4L582.4 397.3L582.7 401.2L582.9 406.4L583.1 406.1L583.3 404.0L583.5 406.5L583.7 412.1L583.9 410.4L584.1 412.8L584.4 414.8L584.6 418.2L584.8 420.1L585.0 424.8L585.2 424.8L585.4 426.3L585.6 430.3L585.9 431.1L586.1 431.9L586.3 433.6L586.5 433.4L586.7 440.5L586.9 440.8L587.1 441.0L587.4 444.5L587.6 444.6L587.8 448.4L588.0 446.2L588.2 451.6L588.4 455.6L588.6 452.8L588.9 452.4L589.1 463.1L589.3 460.5L589.5 461.8L589.7 461.3L589.9 461.9L590.1 467.8L590.3 473.1L590.6 469.4L590.8 470.3L591.0 473.4L591.2 476.1L591.4 480.1L591.6 473.9L591.8 484.6L592.1 487.1L592.3 482.7L592.5 486.1L592.7 486.9L592.9 489.4L593.1 487.8L593.3 490.1L593.6 496.7L593.8 494.6L594.0 501.6L594.2 504.6L594.4 499.1L594.6 504.7L594.8 510.6L595.1 507.0L595.3 510.2L595.5 509.0L595.7 512.0L595.9 515.3L596.1 516.8L596.3 514.7L596.5 520.5L596.8 519.5L597.0 523.8L597.2 521.8L597.4 520.1L597.6 524.6L597.8 524.8L598.0 527.9L598.3 532.9L598.5 532.8L598.7 533.4L598.9 533.9L599.1 538.0L599.3 536.4L599.5 541.2L599.8 540.7L600.0 542.3L600.2 546.5L600.4 542.7L600.6 546.4L600.8 547.7L601.0 549.4L601.3 555.9L601.5 555.5L601.7 555.6L601.9 552.3L602.1 557.5L602.3 555.9L602.5 561.3L602.7 562.1L603.0 562.5L603.2 560.0L603.4 568.0L603.6 565.6L603.8 565.4L604.0 567.3L604.2 568.9L604.5 568.2L604.7 570.6L604.9 575.0L605.1 572.2L605.3 576.8L605.5 576.9L605.7 573.7L606.0 572.4L606.2 575.9L606.4 579.6L606.6 583.6L606.8 584.7L607.0 579.8L607.2 584.2L607.5 589.5L607.7 583.2L607.9 586.7L608.1 585.9L608.3 589.2L608.5 596.5L608.7 594.0L608.9 593.5L609.2 594.5L609.4 591.4L609.6 597.7L609.8 597.2L610.0 598.0L610.2 599.0L610.4 602.2L610.7 603.5L610.9 607.5L611.1 601.4L611.3 603.6L611.5 603.4L611.7 607.3L611.9 605.5L612.2 608.7L612.4 609.6L612.6 607.0L612.8 607.0L613.0 607.9L613.2 610.2L613.4 611.7L613.7 608.0L613.9 609.1L614.1 614.3L614.3 616.1L614.5 613.2L614.7 613.9L614.9 617.5L615.1 610.3L615.4 621.6L615.6 619.1L615.8 617.0L616.0 615.7L616.2 623.2L616.4 620.2L616.6 616.1L616.9 616.6L617.1 621.1L617.3 620.9L617.5 623.6L617.7 620.8L617.9 624.8L618.1 627.6L618.4 626.7L618.6 623.2L618.8 626.9L619.0 621.2L619.2 621.1L619.4 622.1L619.6 623.2L619.9 622.3L620.1 624.6L620.3 623.4L620.5 624.5L620.7 624.0L620.9 628.5L621.1 627.8L621.3 628.8L621.6 624.4L621.8 625.3L622.0 628.6L622.2 629.1L622.4 628.2L622.6 624.7L622.8 627.1L623.1 627.4L623.3 628.5L623.5 627.1L623.7 622.8L623.9 628.3L624.1 627.4L624.3 622.3L624.6 624.6L624.8 629.0L625.0 623.4L625.2 629.0L625.4 624.3L625.6 631.6L625.8 627.7L626.1 622.7L626.3 626.2L626.5 626.2L626.7 624.0L626.9 623.8L627.1 624.6L627.3 624.8L627.5 618.4L627.8 618.7L628.0 621.2L628.2 624.4L628.4 622.4L628.6 621.4L628.8 619.0L629.0 615.8L629.3 620.5L629.5 618.3L629.7 619.1L629.9 617.2L630.1 618.6L630.3 615.4L630.5 612.9L630.8 616.1L631.0 615.2L631.2 613.5L631.4 616.3L631.6 607.9L631.8 614.9L632.0 611.8L632.3 612.3L632.5 605.7L632.7 609.7L632.9 609.0L633.1 602.3L633.3 606.3L633.5 607.1L633.7 604.3L634.0 602.9L634.2 604.3L634.4 602.0L634.6 601.1L634.8 597.8L635.0 596.7L635.2 595.6L635.5 596.9L635.7 593.6L635.9 595.0L636.1 590.6L636.3 591.4L636.5 592.3L636.7 587.1L637.0 592.7L637.2 590.2L637.4 588.6L637.6 585.8L637.8 587.3L638.0 586.0L638.2 586.5L638.5 580.3L638.7 581.2L638.9 572.7L639.1 574.9L639.3 578.3L639.5 570.9L639.7 572.6L640.0 568.9L640.2 572.9L640.4 565.9L640.6 564.7L640.8 567.0L641.0 566.6L641.2 564.0L641.4 561.0L641.7 554.3L641.9 554.3L642.1 553.6L642.3 556.3L642.5 555.0L642.7 551.8L642.9 551.9L643.2 550.8L643.4 548.6L643.6 544.4L643.8 545.1L644.0 542.7L644.2 542.4L644.4 540.6L644.7 539.3L644.9 533.7L645.1 534.6L645.3 529.9L645.5 532.3L645.7 527.6L645.9 531.9L646.2 527.8L646.4 525.2L646.6 524.9L646.8 521.9L647.0 522.1L647.2 518.5L647.4 518.0L647.6 514.6L647.9 513.6L648.1 513.5L648.3 510.3L648.5 507.4L648.7 508.8L648.9 503.6L649.1 499.0L649.4 500.8L649.6 497.0L649.8 495.0L650.0 496.7L650.2 489.6L650.4 484.9L650.6 491.6L650.9 482.0L651.1 487.1L651.3 479.9L651.5 486.0L651.7 476.9L651.9 477.5L652.1 479.1L652.4 476.0L652.6 474.7L652.8 472.4L653.0 467.4L653.2 466.8L653.4 470.6L653.6 463.3L653.8 459.5L654.1 458.4L654.3 452.6L654.5 459.3L654.7 452.3L654.9 450.8L655.1 447.2L655.3 450.3L655.6 448.3L655.8 443.5L656.0 441.0L656.2 443.7L656.4 436.4L656.6 435.3L656.8 431.6L657.1 437.5L657.3 428.2L657.5 429.7L657.7 426.7L657.9 421.7L658.1 417.5L658.3 419.3L658.6 418.0L658.8 412.6L659.0 416.1L659.2 412.3L659.4 411.2L659.6 410.4L659.8 405.6L660.0 399.2L660.3 401.6L660.5 399.1L660.7 398.4L660.9 393.6L661.1 394.0L661.3 394.7L661.5 390.4L661.8 385.2L662.0 387.0L662.2 382.0L662.4 383.1L662.6 376.1L662.8 378.5L663.0 375.7L663.3 376.1L663.5 371.4L663.7 372.2L663.9 373.3L664.1 367.1L664.3 368.9L664.5 360.5L664.8 360.3L665.0 360.3L665.2 356.8L665.4 362.8L665.6 351.1L665.8 354.6L666.0 349.5L666.2 343.3L666.5 351.5L666.7 346.7L666.9 343.1L667.1 341.1L667.3 344.4L667.5 340.8L667.7 333.1L668.0 336.4L668.2 331.8L668.4 334.8L668.6 331.9L668.8 332.4L669.0 325.5L669.2 321.6L669.5 322.5L669.7 321.7L669.9 318.7L670.1 316.4L670.3 316.6L670.5 312.8L670.7 307.7L671.0 305.4L671.2 310.6L671.4 310.6L671.6 301.1L671.8 301.8L672.0 299.6L672.2 299.4L672.4 299.9L672.7 295.3L672.9 293.3L673.1 291.6L673.3 295.5L673.5 288.8L673.7 290.6L673.9 289.1L674.2 285.8L674.4 285.9L674.6 277.9L674.8 280.6L675.0 279.8L675.2 279.5L675.4 276.9L675.7 276.6L675.9 273.1L676.1 270.9L676.3 269.5L676.5 273.2L676.7 269.5L676.9 267.0L677.2 268.8L677.4 263.5L677.6 263.3L677.8 261.4L678.0 259.3L678.2 260.4L678.4 253.7L678.6 253.6L678.9 256.1L679.1 252.3L679.3 250.3L679.5 252.6L679.7 250.3L679.9 246.5L680.1 253.0L680.4 248.8L680.6 243.5L680.8 241.6L681.0 244.1L681.2 238.5L681.4 234.0L681.6 237.7L681.9 237.1L682.1 235.6L682.3 237.1L682.5 232.1L682.7 231.9L682.9 229.3L683.1 226.5L683.4 228.8L683.6 227.3L683.8 225.9L684.0 221.3L684.2 228.1L684.4 223.5L684.6 223.9L684.8 221.1L685.1 218.3L685.3 219.2L685.5 216.5L685.7 216.9L685.9 218.1L686.1 217.0L686.3 217.8L686.6 212.9L686.8 213.5L687.0 209.6L687.2 208.4L687.4 212.0L687.6 211.6L687.8 206.6L688.1 209.4L688.3 205.9L688.5 204.1L688.7 205.7L688.9 199.6L689.1 205.1L689.3 201.4L689.6 202.7L689.8 207.0L690.0 200.6L690.2 199.9L690.4 197.3L690.6 198.4L690.8 199.2L691.0 198.0L691.3 196.8L691.5 193.6L691.7 195.5L691.9 191.2L692.1 191.5L692.3 194.9L692.5 190.0L692.8 197.5L693.0 191.4L693.2 193.3L693.4 190.6L693.6 187.1L693.8 189.4L694.0 189.4L694.3 185.4L694.5 190.0L694.7 189.7L694.9 184.9L695.1 185.4L695.3 190.1L695.5 185.9L695.8 184.0L696.0 186.0L696.2 186.3L696.4 184.7L696.6 184.2L696.8 186.2L697.0 182.2L697.3 187.9L697.5 184.0L697.7 178.4L697.9 186.1L698.1 183.4L698.3 188.7L698.5 185.1L698.7 185.8L699.0 182.7L699.2 184.0L699.4 178.3L699.6 185.0L699.8 182.8L700.0 182.2L700.2 181.1L700.5 180.6L700.7 186.6L700.9 177.5L701.1 183.7L701.3 184.8L701.5 187.2L701.7 184.4L702.0 187.8L702.2 183.2L702.4 185.3L702.6 183.3L702.8 186.2L703.0 184.3L703.2 179.4L703.5 182.2L703.7 185.0L703.9 188.1L704.1 182.5L704.3 190.5L704.5 190.2L704.7 184.0L704.9 189.0L705.2 184.7L705.4 187.0L705.6 183.5L705.8 185.0L706.0 188.4L706.2 191.9L706.4 189.4L706.7 188.0L706.9 191.7L707.1 198.7L707.3 194.1L707.5 194.7L707.7 194.6L707.9 196.0L708.2 193.0L708.4 199.6L708.6 196.1L708.8 202.7L709.0 204.0L709.2 201.9L709.4 202.0L709.7 203.2L709.9 203.5L710.1 201.1L710.3 202.1L710.5 204.2L710.7 204.8L710.9 207.8L711.1 209.5L711.4 211.5L711.6 210.0L711.8 212.7L712.0 211.7L712.2 210.1L712.4 211.6L712.6 210.7L712.9 217.3L713.1 221.4L713.3 219.9L713.5 213.4L713.7 217.7L713.9 221.6L714.1 218.5L714.4 223.9L714.6 220.0L714.8 226.2L715.0 227.4L715.2 226.0L715.4 231.7L715.6 230.6L715.9 226.7L716.1 231.7L716.3 236.7L716.5 236.0L716.7 236.8L716.9 239.9L717.1 238.4L717.3 237.7L717.6 242.1L717.8 241.4L718.0 244.3L718.2 246.1L718.4 249.7L718.6 247.0L718.8 247.5L719.1 253.4L719.3 255.9L719.5 254.0L719.7 256.6L719.9 255.6L720.1 258.7L720.3 261.8L720.6 266.4L720.8 263.1L721.0 266.0L721.2 270.9L721.4 273.1L721.6 275.5L721.8 271.2L722.1 275.4L722.3 282.1L722.5 279.8L722.7 280.9L722.9 281.3L723.1 282.7L723.3 285.3L723.5 284.4L723.8 285.4L724.0 290.2L724.2 287.6L724.4 293.5L724.6 297.0L724.8 296.3L725.0 302.0L725.3 301.0L725.5 304.6L725.7 304.9L725.9 305.2L726.1 313.5L726.3 308.4L726.5 310.5L726.8 313.5L727.0 313.1L727.2 315.9L727.4 319.4L727.6 322.9L727.8 320.5L728.0 322.3L728.3 329.6L728.5 329.7L728.7 332.7L728.9 329.7L729.1 335.0L729.3 338.6L729.5 333.8L729.7 338.2L730.0 340.7L730.2 342.6L730.4 345.5L730.6 346.9L730.8 346.8L731.0 349.8L731.2 353.9L731.5 354.5L731.7 352.1L731.9 360.0L732.1 363.8L732.3 362.2L732.5 367.3L732.7 360.3L733.0 366.8L733.2 368.9L733.4 371.4L733.6 369.4L733.8 378.7L734.0 378.3L734.2 384.2L734.5 379.0L734.7 384.2L734.9 381.6L735.1 388.6L735.3 392.4L735.5 393.5L735.7 391.8L735.9 397.7L736.2 397.0L736.4 401.4L736.6 403.3L736.8 404.8L737.0 401.4L737.2 410.0L737.4 408.5L737.7 409.3L737.9 415.0L738.1 418.8L738.3 413.3L738.5 414.7L738.7 421.5L738.9 425.7L739.2 422.5L739.4 426.7L739.6 430.5L739.8 431.3L740.0 438.1L740.2 436.2L740.4 439.1L740.7 441.2L740.9 438.4L741.1 441.1L741.3 439.4L741.5 451.5L741.7 449.0L741.9 451.2L742.1 447.8L742.4 450.3L742.6 454.4L742.8 456.3L743.0 460.2L743.2 461.5L743.4 463.1L743.6 469.9L743.9 461.0L744.1 465.7L744.3 464.2L744.5 468.0L744.7 471.6L744.9 472.6L745.1 480.5L745.4 480.6L745.6 477.8L745.8 482.6L746.0 487.4L746.2 485.2L746.4 490.0L746.6 488.6L746.9 486.5L747.1 494.8L747.3 494.8L747.5 494.0L747.7 497.2L747.9 498.3L748.1 502.5L748.3 502.9L748.6 509.6L748.8 505.8L749.0 503.9L749.2 511.4L749.4 510.7L749.6 510.2L749.8 510.5L750.1 512.2L750.3 518.9L750.5 519.3L750.7 515.5L750.9 522.6L751.1 522.3L751.3 526.6L751.6 527.7L751.8 533.6L752.0 530.4L752.2 536.0L752.4 534.6L752.6 536.0L752.8 531.7L753.1 534.7L753.3 537.0L753.5 540.7L753.7 544.3L753.9 541.2L754.1 545.8L754.3 545.5L754.6 544.3L754.8 548.5L755.0 549.5L755.2 553.2L755.4 549.6L755.6 552.2L755.8 553.1L756.0 552.2L756.3 561.5L756.5 558.8L756.7 558.5L756.9 560.6L757.1 562.0L757.3 562.8L757.5 569.0L757.8 566.7L758.0 564.9L758.2 569.1L758.4 570.7L758.6 569.3L758.8 576.9L759.0 572.8L759.3 571.2L759.5 576.8L759.7 579.3L759.9 577.1L760.1 580.7L760.3 582.7L760.5 581.4L760.8 587.0L761.0 582.3L761.2 588.0L761.4 587.5L761.6 585.4L761.8 588.3L762.0 588.6L762.2 586.9L762.5 587.5L762.7 587.1L762.9 594.6L763.1 591.9L763.3 599.2L763.5 594.1L763.7 593.8L764.0 599.7L764.2 597.7L764.4 597.7L764.6 601.0L764.8 603.1L765.0 598.6L765.2 606.4L765.5 603.6L765.7 602.5L765.9 605.0L766.1 602.5L766.3 603.5L766.5 606.8L766.7 604.3L767.0 607.6L767.2 613.2L767.4 611.6L767.6 610.9L767.8 611.7L768.0 617.0L768.2 607.8L768.4 618.0L768.7 617.6L768.9 614.3L769.1 615.5L769.3 612.7L769.5 616.5L769.7 616.7L769.9 616.4L770.2 620.5L770.4 622.4L770.6 620.8L770.8 617.6L771.0 621.3L771.2 618.0L771.4 622.8L771.7 620.0L771.9 622.2L772.1 620.6L772.3 623.0L772.5 622.9L772.7 624.8L772.9 620.9L773.2 624.4L773.4 623.4L773.6 623.2L773.8 627.3L774.0 627.4L774.2 625.7L774.4 622.6L774.6 628.5L774.9 628.6L775.1 628.7L775.3 627.4L775.5 629.2L775.7 628.6L775.9 625.4L776.1 629.5L776.4 626.9L776.6 629.8L776.8 627.4L777.0 625.6L777.2 631.8L777.4 626.7L777.6 626.2L777.9 626.9L778.1 626.0L778.3 625.5L778.5 629.6L778.7 626.6L778.9 624.5L779.1 622.7L779.4 629.1L779.6 627.0L779.8 628.7L780.0 625.1L780.2 627.4L780.4 626.9L780.6 622.3L780.8 618.4L781.1 628.6L781.3 619.2L781.5 625.1L781.7 620.8L781.9 621.2L782.1 618.6L782.3 621.7L782.6 622.8L782.8 620.4L783.0 617.8L783.2 621.4L783.4 617.7L783.6 618.2L783.8 617.1L784.1 617.0L784.3 614.9L784.5 613.8L784.7 615.9L784.9 615.4L785.1 619.1L785.3 615.3L785.6 616.2L785.8 610.0L786.0 613.6L786.2 611.9L786.4 608.1L786.6 606.2L786.8 604.8L787.0 609.0L787.3 605.5L787.5 602.6L787.7 606.4L787.9 604.0L788.1 605.5L788.3 603.2L788.5 598.9L788.8 599.4L789.0 599.6L789.2 599.1L789.4 592.9L789.6 593.8L789.8 597.6L790.0 588.2L790.3 593.4L790.5 591.7L790.7 591.4L790.9 590.5L791.1 586.3L791.3 590.3L791.5 585.5L791.8 585.2L792.0 578.9L792.2 581.0L792.4 579.6L792.6 578.1L792.8 576.7L793.0 576.5L793.2 581.6L793.5 573.2L793.7 573.7L793.9 569.8L794.1 569.4L794.3 570.1L794.5 569.6L794.7 568.5L795.0 563.9L795.2 563.4L795.4 563.9L795.6 561.1L795.8 557.9L796.0 558.9L796.2 556.1L796.5 555.8L796.7 558.8L796.9 551.0L797.1 549.5L797.3 546.1L797.5 543.4L797.7 546.7L798.0 541.9L798.2 541.1L798.4 540.0L798.6 536.5L798.8 534.7L799.0 538.3L799.2 530.0L799.4 532.3L799.7 531.9L799.9 530.2L800.1 527.4L800.3 527.9L800.5 520.7L800.7 520.6L800.9 522.1L801.2 516.2L801.4 515.8L801.6 514.5L801.8 510.5L802.0 511.3L802.2 510.0L802.4 506.3L802.7 510.2L802.9 506.8L803.1 500.8L803.3 497.6L803.5 502.5L803.7 496.6L803.9 496.4L804.2 493.6L804.4 489.6L804.6 485.5L804.8 483.0L805.0 483.1L805.2 482.0L805.4 481.3L805.6 484.3L805.9 476.9L806.1 478.9L806.3 476.8L806.5 471.9L806.7 474.1L806.9 464.0L807.1 464.9L807.4 463.6L807.6 461.4L807.8 460.0L808.0 458.5L808.2 455.0L808.4 456.5L808.6 452.2L808.9 450.5L809.1 447.1L809.3 449.8L809.5 444.5L809.7 443.5L809.9 439.7L810.1 437.9L810.4 436.9L810.6 434.2L810.8 432.3L811.0 428.1L811.2 428.8L811.4 426.2L811.6 427.9L811.8 424.2L812.1 419.8L812.3 417.2L812.5 420.2L812.7 416.0L812.9 414.6L813.1 411.8L813.3 411.2L813.6 409.1L813.8 406.3L814.0 403.9L814.2 399.8L814.4 402.4L814.6 400.7L814.8 394.5L815.1 393.3L815.3 393.1L815.5 393.5L815.7 386.2L815.9 389.5L816.1 382.2L816.3 382.4L816.6 381.5L816.8 379.6L817.0 375.3L817.2 375.4L817.4 377.8L817.6 373.3L817.8 375.0L818.1 366.9L818.3 363.8L818.5 361.6L818.7 365.6L818.9 355.2L819.1 354.1L819.3 357.0L819.5 359.7L819.8 355.2L820.0 348.7L820.2 344.3L820.4 348.9L820.6 350.3L820.8 346.3L821.0 337.5L821.3 340.4L821.5 342.0L821.7 341.9L821.9 333.5L822.1 331.3L822.3 332.6L822.5 330.2L822.8 327.8L823.0 327.1L823.2 325.8L823.4 324.2L823.6 322.5L823.8 316.3L824.0 316.6L824.3 313.4L824.5 309.7L824.7 318.1L824.9 311.0L825.1 306.9L825.3 308.1L825.5 307.3L825.7 303.3L826.0 303.9L826.2 303.0L826.4 300.1L826.6 297.6L826.8 296.1L827.0 292.3L827.2 292.9L827.5 292.5L827.7 283.7L827.9 288.8L828.1 287.3L828.3 285.5L828.5 285.3L828.7 285.9L829.0 280.1L829.2 275.5L829.4 282.0L829.6 277.9L829.8 273.5L830.0 274.7L830.2 270.3L830.5 270.3L830.7 271.4L830.9 267.8L831.1 267.1L831.3 263.1L831.5 269.1L831.7 260.6L831.9 257.0L832.2 258.5L832.4 256.9L832.6 257.5L832.8 254.0L833.0 253.8L833.2 255.3L833.4 253.7L833.7 255.2L833.9 247.2L834.1 246.5L834.3 243.0L834.5 243.8L834.7 241.5L834.9 245.2L835.2 245.2L835.4 240.8L835.6 239.0L835.8 236.2L836.0 236.2L836.2 235.1L836.4 233.4L836.7 231.7L836.9 230.7L837.1 229.3L837.3 230.2L837.5 228.1L837.7 230.3L837.9 228.4L838.1 225.2L838.4 222.5L838.6 224.3L838.8 224.9L839.0 218.1L839.2 221.4L839.4 222.6L839.6 219.8L839.9 219.3L840.1 221.3L840.3 215.4L840.5 209.4L840.7 214.4L840.9 213.7L841.1 208.0L841.4 209.7L841.6 209.3L841.8 204.8L842.0 210.2L842.2 206.6L842.4 204.4L842.6 204.3L842.9 206.9L843.1 205.5L843.3 198.1L843.5 201.9L843.7 201.6L843.9 197.6L844.1 203.9L844.3 198.9L844.6 202.4L844.8 194.1L845.0 199.2L845.2 195.9L845.4 197.7L845.6 194.6L845.8 193.5L846.1 193.7L846.3 193.9L846.5 191.9L846.7 192.6L846.9 192.7L847.1 189.4L847.3 188.4L847.6 193.3L847.8 191.9L848.0 190.9L848.2 187.9L848.4 191.6L848.6 184.0L848.8 187.3L849.1 186.6L849.3 184.5L849.5 188.1L849.7 185.0L849.9 184.6L850.1 182.2L850.3 187.6L850.5 181.4L850.8 183.1L851.0 183.7L851.2 181.5L851.4 184.5L851.6 184.1L851.8 181.5L852.0 184.2L852.3 180.6L852.5 179.8L852.7 182.5L852.9 182.5L853.1 184.4L853.3 185.0L853.5 179.3L853.8 185.2L854.0 182.5L854.2 182.0L854.4 185.0L854.6 184.5L854.8 184.6L855.0 177.8L855.3 182.2L855.5 179.8L855.7 178.4L855.9 181.0L856.1 180.5L856.3 184.9L856.5 185.8L856.7 180.8L857.0 181.0L857.2 187.3L857.4 182.3L857.6 184.7L857.8 183.8L858.0 183.7L858.2 181.8L858.5 188.3L858.7 187.1L858.9 184.5L859.1 188.6L859.3 187.1L859.5 189.0L859.7 193.5L860.0 191.2L860.2 188.2L860.4 192.2L860.6 195.2L860.8 193.2L861.0 192.3L861.2 192.0L861.5 193.0L861.7 193.1L861.9 197.6L862.1 197.2L862.3 198.3L862.5 198.2L862.7 196.8L862.9 195.4L863.2 199.9L863.4 197.6L863.6 198.3L863.8 204.6L864.0 204.6L864.2 203.1L864.4 207.7L864.7 200.7L864.9 210.7L865.1 210.0L865.3 206.1L865.5 210.7L865.7 208.1L865.9 213.3L866.2 209.3L866.4 214.3L866.6 212.2L866.8 212.5L867.0 219.7L867.2 219.3L867.4 222.5L867.7 222.0L867.9 218.2L868.1 221.7L868.3 220.7L868.5 220.5L868.7 222.7L868.9 224.6L869.1 228.7L869.4 229.8L869.6 229.3L869.8 229.3L870.0 230.0L870.2 233.3L870.4 236.0L870.6 236.8L870.9 233.9L871.1 238.7L871.3 235.9L871.5 243.8L871.7 241.4L871.9 244.4L872.1 244.5L872.4 249.6L872.6 248.4L872.8 250.9L873.0 252.9L873.2 256.6L873.4 258.7L873.6 257.6L873.9 256.9L874.1 259.2L874.3 260.8L874.5 262.2L874.7 267.8L874.9 263.6L875.1 267.6L875.4 271.2L875.6 272.3L875.8 270.2L876.0 273.8L876.2 280.0L876.4 272.5L876.6 282.9L876.8 276.8L877.1 280.6L877.3 286.8L877.5 283.1L877.7 284.8L877.9 287.0L878.1 289.7L878.3 292.3L878.6 294.3L878.8 297.9L879.0 297.7L879.2 297.1L879.4 302.2L879.6 299.0L879.8 309.3L880.1 307.3L880.3 312.8L880.5 315.3L880.7 312.3L880.9 315.5L881.1 317.9L881.3 321.0L881.6 320.9L881.8 326.1L882.0 324.5L882.2 327.2L882.4 330.9L882.6 328.7L882.8 336.1L883.0 332.5L883.3 334.8L883.5 336.0L883.7 338.9L883.9 339.2L884.1 343.7L884.3 347.6L884.5 346.0L884.8 350.8L885.0 351.7L885.2 352.4L885.4 356.9L885.6 354.2L885.8 362.3L886.0 357.5L886.3 362.5L886.5 360.3L886.7 363.6L886.9 366.6L887.1 369.5L887.3 371.9L887.5 377.4L887.8 377.4L888.0 380.3L888.2 381.7L888.4 382.2L888.6 385.8L888.8 385.5L889.0 388.4L889.2 390.9L889.5 390.7L889.7 392.5L889.9 398.8L890.1 398.3L890.3 393.5L890.5 401.4L890.7 402.2L891.0 407.4L891.2 404.9L891.4 405.4L891.6 409.7L891.8 413.4L892.0 414.9L892.2 421.5L892.5 417.4L892.7 421.5L892.9 421.7L893.1 423.7L893.3 426.0L893.5 423.3L893.7 428.0L894.0 433.7L894.2 432.6L894.4 434.4L894.6 437.7L894.8 436.3L895.0 442.5L895.2 447.7L895.4 447.9L895.7 446.3L895.9 451.4L896.1 450.5L896.3 456.4L896.5 453.7L896.7 457.1L896.9 460.5L897.2 461.4L897.4 462.6L897.6 461.5L897.8 465.0L898.0 467.8L898.2 468.7L898.4 468.8L898.7 471.6L898.9 470.2L899.1 478.0L899.3 476.0L899.5 479.5L899.7 483.0L899.9 481.8L900.2 483.0L900.4 484.4L900.6 487.3L900.8 492.3L901.0 491.5L901.2 492.6L901.4 491.2L901.6 496.7L901.9 498.3L902.1 496.5L902.3 501.8L902.5 504.7L902.7 504.6L902.9 505.0L903.1 508.1L903.4 514.2L903.6 512.7L903.8 510.9L904.0 516.7L904.2 514.5L904.4 517.7L904.6 521.6L904.9 519.3L905.1 528.0L905.3 529.4L905.5 529.6L905.7 526.1L905.9 529.6L906.1 528.9L906.4 532.1L906.6 533.1L906.8 536.2L907.0 537.4L907.2 535.5L907.4 537.5L907.6 544.0L907.8 540.8L908.1 538.7L908.3 543.2L908.5 548.7L908.7 546.0L908.9 548.7L909.1 551.4L909.3 549.6L909.6 550.4L909.8 555.9L910.0 555.7L910.2 558.3L910.4 558.6L910.6 556.1L910.8 562.3L911.1 561.2L911.3 563.2L911.5 564.9L911.7 569.0L911.9 566.1L912.1 571.5L912.3 568.3L912.6 571.5L912.8 572.1L913.0 574.7L913.2 576.9L913.4 578.4L913.6 577.1L913.8 578.5L914.0 578.7L914.3 581.2L914.5 579.8L914.7 582.4L914.9 583.5L915.1 585.5L915.3 586.0L915.5 585.5L915.8 589.7L916.0 592.0L916.2 589.2L916.4 590.1L916.6 592.0L916.8 592.5L917.0 597.2L917.3 597.3L917.5 595.9L917.7 596.9L917.9 600.8L918.1 597.6L918.3 604.1L918.5 597.5L918.8 603.8L919.0 603.5L919.2 605.5L919.4 607.1L919.6 605.4L919.8 610.0L920.0 607.1L920.2 606.6L920.5 608.5L920.7 608.6L920.9 612.7L921.1 614.4L921.3 613.9L921.5 608.8L921.7 611.3L922.0 617.0L922.2 609.3L922.4 612.5L922.6 612.0L922.8 612.8L923.0 612.7L923.2 620.4L923.5 616.8L923.7 619.3L923.9 613.4L924.1 616.9L924.3 619.1L924.5 620.1L924.7 625.1L925.0 620.2L925.2 622.9L925.4 618.1L925.6 620.0L925.8 622.3L926.0 623.4L926.2 620.2L926.4 624.5L926.7 620.9L926.9 623.4L927.1 624.9L927.3 623.6L927.5 620.5L927.7 628.8L927.9 623.4L928.2 623.6L928.4 626.2L928.6 622.3L928.8 624.4L929.0 624.8L929.2 628.7L929.4 625.0L929.7 629.6L929.9 625.4L930.1 621.5L930.3 628.8L930.5 623.0L930.7 629.3L930.9 626.6L931.2 625.0L931.4 630.2L931.6 625.9L931.8 628.4L932.0 628.0L932.2 624.4L932.4 626.5L932.7 625.2L932.9 625.9L933.1 624.9L933.3 621.9L933.5 625.1L933.7 625.8L933.9 624.9L934.1 622.9L934.4 623.3L934.6 629.2L934.8 623.9L935.0 622.4L935.2 617.1L935.4 624.1L935.6 623.0L935.9 624.7L936.1 621.7L936.3 625.3L936.5 622.6L936.7 620.3L936.9 623.2L937.1 619.8L937.4 620.2L937.6 615.0L937.8 613.6L938.0 611.8L938.2 615.9L938.4 614.0L938.6 609.3L938.9 615.9L939.1 609.6L939.3 615.2L939.5 609.7L939.7 615.3L939.9 611.8L940.1 610.5L940.3 609.9L940.6 613.2L940.8 607.4L941.0 607.5L941.2 602.4L941.4 603.7L941.6 609.4L941.8 603.0L942.1 599.8L942.3 601.7L942.5 602.2L942.7 602.8L942.9 599.5L943.1 599.8L943.3 597.2L943.6 596.3L943.8 591.4L944.0 595.8L944.2 591.5L944.4 593.8L944.6 589.4L944.8 586.5L945.1 589.2L945.3 589.5L945.5 585.4L945.7 584.2L945.9 584.6L946.1 580.8L946.3 580.4L946.5 577.7L946.8 581.3L947.0 574.9L947.2 572.4L947.4 576.1L947.6 568.0L947.8 570.9L948.0 573.2L948.3 571.3L948.5 569.1L948.7 567.5L948.9 565.1L949.1 562.3L949.3 562.1L949.5 560.9L949.8 561.0L950.0 562.1L950.2 557.4L950.4 557.2L950.6 550.5L950.8 557.0L951.0 546.8L951.3 554.2L951.5 546.9L951.7 544.8L951.9 546.0L952.1 544.0L952.3 537.9L952.5 541.0L952.7 537.0L953.0 535.0L953.2 531.9L953.4 534.9L953.6 526.9L953.8 528.8L954.0 524.3L954.2 528.4L954.5 520.7L954.7 521.8L954.9 517.9L955.1 519.6L955.3 514.2L955.5 514.5L955.7 517.4L956.0 505.0L956.2 510.8L956.4 506.3L956.6 506.1L956.8 504.9L957.0 502.9L957.2 497.9L957.5 496.1L957.7 494.3L957.9 498.6L958.1 490.8L958.3 494.6L958.5 483.5L958.7 486.3L958.9 482.6L959.2 483.5L959.4 481.2L959.6 481.4L959.8 472.9L960.0 476.7L960.2 471.3L960.4 474.0L960.7 470.5L960.9 469.2L961.1 466.6L961.3 465.6"/>
<path stroke="#ff00ff" d="M191.6 484.6L191.8 493.8L192.0 487.7L192.2 487.8L192.5 487.9L192.7 485.4L192.9 482.4L193.1 479.9L193.3 481.4L193.5 473.7L193.7 476.8L194.0 484.6L194.2 465.6L194.4 471.6L194.6 471.8L194.8 465.6L195.0 464.2L195.2 463.6L195.4 466.4L195.7 459.9L195.9 466.6L196.1 451.0L196.3 462.3L196.5 455.8L196.7 453.2L196.9 450.7L197.2 451.4L197.4 446.4L197.6 459.0L197.8 446.7L198.0 445.5L198.2 445.2L198.4 434.4L198.7 444.7L198.9 438.9L199.1 446.6L199.3 434.1L199.5 441.6L199.7 439.8L199.9 419.5L200.2 425.8L200.4 427.6L200.6 425.2L200.8 431.3L201.0 427.9L201.2 419.3L201.4 429.9L201.6 416.9L201.9 424.9L202.1 414.5L202.3 418.8L202.5 403.5L202.7 405.4L202.9 411.2L203.1 416.2L203.4 409.4L203.6 404.3L203.8 407.2L204.0 399.5L204.2 394.5L204.4 398.0L204.6 398.2L204.9 390.8L205.1 394.4L205.3 387.3L205.5 391.4L205.7 380.5L205.9 388.1L206.1 390.2L206.4 383.1L206.6 385.1L206.8 385.0L207.0 379.5L207.2 373.7L207.4 386.2L207.6 374.4L207.8 373.4L208.1 371.8L208.3 365.7L208.5 374.3L208.7 363.3L208.9 366.1L209.1 362.9L209.3 363.0L209.6 362.0L209.8 361.4L210.0 355.3L210.2 345.7L210.4 349.2L210.6 348.7L210.8 348.6L211.1 352.0L211.3 345.3L211.5 336.8L211.7 351.4L211.9 339.8L212.1 337.4L212.3 339.5L212.6 335.5L212.8 331.2L213.0 325.8L213.2 328.7L213.4 325.5L213.6 330.4L213.8 326.6L214.0 328.3L214.3 326.3L214.5 328.5L214.7 321.6L214.9 316.5L215.1 322.8L215.3 319.4L215.5 316.3L215.8 317.8L216.0 312.0L216.2 313.9L216.4 319.4L216.6 317.3L216.8 307.6L217.0 306.7L217.3 303.1L217.5 305.9L217.7 304.8L217.9 312.0L218.1 296.5L218.3 306.2L218.5 295.6L218.8 304.7L219.0 301.2L219.2 296.0L219.4 297.5L219.6 297.6L219.8 288.7L220.0 288.6L220.2 288.7L220.5 291.0L220.7 292.1L220.9 289.3L221.1 288.3L221.3 284.8L221.5 279.8L221.7 283.1L222.0 285.0L222.2 283.0L222.4 272.8L222.6 277.0L222.8 275.6L223.0 274.3L223.2 271.7L223.5 272.8L223.7 266.8L223.9 267.5L224.1 282.1L224.3 269.9L224.5 256.4L224.7 273.3L225.0 265.6L225.2 260.1L225.4 264.3L225.6 256.9L225.8 268.3L226.0 267.3L226.2 261.3L226.5 263.0L226.7 263.7L226.9 255.0L227.1 255.5L227.3 255.9L227.5 257.0L227.7 253.0L227.9 254.0L228.2 256.0L228.4 249.3L228.6 249.2L228.8 249.7L229.0 246.1L229.2 253.8L229.4 248.5L229.7 249.6L229.9 240.0L230.1 243.2L230.3 234.9L230.5 236.8L230.7 245.3L230.9 248.0L231.2 239.9L231.4 242.9L231.6 241.7L231.8 245.3L232.0 236.8L232.2 238.2L232.4 236.6L232.7 236.5L232.9 241.6L233.1 247.4L233.3 237.6L233.5 238.8L233.7 237.8L233.9 230.2L234.1 234.8L234.4 226.7L234.6 232.5L234.8 229.7L235.0 230.1L235.2 228.3L235.4 237.6L235.6 226.1L235.9 230.4L236.1 235.2L236.3 227.3L236.5 228.2L236.7 223.5L236.9 225.8L237.1 227.2L237.4 236.4L237.6 220.5L237.8 221.1L238.0 224.2L238.2 225.5L238.4 221.7L238.6 231.4L238.9 223.8L239.1 226.8L239.3 231.5L239.5 224.9L239.7 224.8L239.9 218.3L240.1 221.8L240.3 233.8L240.6 235.4L240.8 226.4L241.0 227.0L241.2 230.4L241.4 232.8L241.6 226.9L241.8 231.4L242.1 229.2L242.3 221.9L242.5 224.9L242.7 229.7L242.9 231.5L243.1 227.2L243.3 218.2L243.6 228.9L243.8 218.4L244.0 230.5L244.2 227.9L244.4 223.8L244.6 230.9L244.8 227.2L245.1 234.1L245.3 224.8L245.5 222.7L245.7 231.5L245.9 227.8L246.1 230.9L246.3 239.5L246.5 217.7L246.8 226.9L247.0 226.3L247.2 228.7L247.4 230.1L247.6 220.1L247.8 240.3L248.0 233.6L248.3 234.5L248.5 233.9L248.7 230.1L248.9 237.2L249.1 240.6L249.3 240.1L249.5 233.1L249.8 231.3L250.0 232.5L250.2 229.3L250.4 239.8L250.6 233.2L250.8 235.3L251.0 239.9L251.3 243.2L251.5 236.1L251.7 244.1L251.9 242.9L252.1 246.8L252.3 234.6L252.5 243.8L252.7 246.6L253.0 246.1L253.2 246.7L253.4 245.9L253.6 255.2L253.8 253.3L254.0 246.2L254.2 244.2L254.5 254.9L254.7 250.4L254.9 254.5L255.1 263.3L255.3 254.9L255.5 259.4L255.7 251.0L256.0 256.9L256.2 257.0L256.4 264.6L256.6 257.9L256.8 268.7L257.0 259.4L257.2 254.8L257.5 268.0L257.7 259.2L257.9 257.6L258.1 266.2L258.3 260.9L258.5 266.8L258.7 270.5L258.9 278.7L259.2 275.3L259.4 278.3L259.6 261.1L259.8 272.2L260.0 275.3L260.2 281.9L260.4 268.5L260.7 283.2L260.9 271.8L261.1 274.8L261.3 280.7L261.5 285.4L261.7 283.6L261.9 290.8L262.2 282.6L262.4 278.9L262.6 283.8L262.8 284.3L263.0 293.8L263.2 290.2L263.4 297.7L263.7 296.3L263.9 291.9L264.1 284.8L264.3 297.5L264.5 298.9L264.7 309.4L264.9 300.8L265.1 307.3L265.4 310.9L265.6 312.6L265.8 306.2L266.0 310.1L266.2 306.3L266.4 312.0L266.6 312.2L266.9 306.6L267.1 311.1L267.3 312.6L267.5 310.6L267.7 317.9L267.9 325.1L268.1 325.5L268.4 330.6L268.6 322.9L268.8 327.9L269.0 324.9L269.2 324.8L269.4 334.1L269.6 330.8L269.9 327.1L270.1 334.1L270.3 331.5L270.5 338.4L270.7 343.4L270.9 341.4L271.1 350.8L271.3 339.9L271.6 347.2L271.8 339.9L272.0 353.6L272.2 348.6L272.4 349.1L272.6 353.2L272.8 351.9L273.1 358.8L273.3 361.9L273.5 365.0L273.7 362.5L273.9 365.2L274.1 361.7L274.3 366.1L274.6 369.1L274.8 370.9L275.0 378.1L275.2 372.3L275.4 370.1L275.6 380.0L275.8 376.4L276.1 373.5L276.3 381.6L276.5 378.9L276.7 383.4L276.9 371.2L277.1 377.9L277.3 380.4L277.5 390.9L277.8 386.1L278.0 391.6L278.2 390.6L278.4 396.7L278.6 394.8L278.8 400.8L279.0 397.3L279.3 391.8L279.5 408.4L279.7 409.7L279.9 402.6L280.1 402.7L280.3 409.9L280.5 406.9L280.8 409.2L281.0 410.2L281.2 407.8L281.4 419.1L281.6 414.4L281.8 418.2L282.0 424.0L282.3 419.9L282.5 430.1L282.7 432.6L282.9 421.8L283.1 433.9L283.3 422.0L283.5 426.7L283.8 435.7L284.0 439.0L284.2 447.1L284.4 438.3L284.6 447.3L284.8 433.4L285.0 450.7L285.2 443.8L285.5 457.5L285.7 448.9L285.9 442.3L286.1 452.4L286.3 455.7L286.5 455.6L286.7 453.0L287.0 452.0L287.2 459.0L287.4 469.2L287.6 459.4L287.8 457.7L288.0 452.8L288.2 464.5L288.5 466.0L288.7 470.9L288.9 466.2L289.1 462.7L289.3 477.6L289.5 473.8L289.7 480.7L290.0 480.5L290.2 479.5L290.4 477.6L290.6 485.5L290.8 484.3L291.0 477.7L291.2 483.3L291.4 483.8L291.7 486.6L291.9 490.9L292.1 489.3L292.3 490.2L292.5 494.1L292.7 490.5L292.9 496.8L293.2 493.9L293.4 499.5L293.6 497.4L293.8 505.5L294.0 506.3L294.2 510.5L294.4 500.4L294.7 505.1L294.9 507.8L295.1 507.2L295.3 515.5L295.5 512.2L295.7 516.4L295.9 524.3L296.2 517.8L296.4 522.0L296.6 512.1L296.8 523.8L297.0 524.4L297.2 517.9L297.4 523.9L297.6 531.5L297.9 525.1L298.1 531.1L298.3 520.3L298.5 534.9L298.7 534.5L298.9 543.8L299.1 536.4L299.4 525.2L299.6 536.0L299.8 541.1L300.0 536.2L300.2 540.1L300.4 539.9L300.6 528.9L300.9 532.1L301.1 535.1L301.3 535.8L301.5 549.4L301.7 555.4L301.9 543.3L302.1 546.0L302.4 548.7L302.6 550.4L302.8 547.3L303.0 549.0L303.2 551.4L303.4 551.2L303.6 555.5L303.8 557.2L304.1 549.5L304.3 558.4L304.5 548.4L304.7 555.7L304.9 559.4L305.1 555.1L305.3 563.8L305.6 563.1L305.8 564.6L306.0 563.7L306.2 561.2L306.4 555.2L306.6 563.5L306.8 571.9L307.1 571.5L307.3 576.9L307.5 565.3L307.7 565.3L307.9 568.6L308.1 569.1L308.3 569.0L308.6 570.1L308.8 569.7L309.0 572.3L309.2 578.8L309.4 570.0L309.6 568.7L309.8 583.7L310.0 577.4L310.3 582.3L310.5 574.9L310.7 579.2L310.9 571.4L311.1 573.4L311.3 581.5L311.5 582.0L311.8 583.0L312.0 577.8L312.2 585.5L312.4 579.3L312.6 588.6L312.8 577.1L313.0 580.2L313.3 588.5L313.5 587.0L313.7 582.9L313.9 582.5L314.1 595.9L314.3 583.4L314.5 577.4L314.8 587.1L315.0 591.7L315.2 579.5L315.4 584.4L315.6 584.9L315.8 583.0L316.0 592.1L316.2 589.6L316.5 591.9L316.7 592.1L316.9 588.3L317.1 591.9L317.3 579.1L317.5 584.6L317.7 583.0L318.0 595.1L318.2 588.2L318.4 587.9L318.6 586.4L318.8 585.0L319.0 591.0L319.2 591.5L319.5 582.4L319.7 576.1L319.9 576.8L320.1 588.2L320.3 590.5L320.5 585.7L320.7 584.2L321.0 577.8L321.2 587.3L321.4 589.6L321.6 580.8L321.8 589.1L322.0 589.6L322.2 582.6L322.4 585.9L322.7 589.8L322.9 585.7L323.1 586.1L323.3 584.9L323.5 587.1L323.7 580.4L323.9 584.6L324.2 585.4L324.4 577.1L324.6 586.3L324.8 577.8L325.0 578.2L325.2 582.0L325.4 579.1L325.7 586.9L325.9 578.1L326.1 583.8L326.3 582.5L326.5 576.6L326.7 580.9L326.9 576.2L327.2 574.3L327.4 570.7L327.6 573.2L327.8 569.6L328.0 577.6L328.2 575.2L328.4 569.7L328.6 566.5L328.9 569.4L329.1 573.5L329.3 575.4L329.5 574.2L329.7 563.5L329.9 572.9L330.1 568.6L330.4 563.7L330.6 563.9L330.8 568.7L331.0 555.0L331.2 563.0L331.4 561.6L331.6 558.3L331.9 562.9L332.1 557.2L332.3 560.4L332.5 563.1L332.7 562.6L332.9 555.3L333.1 555.8L333.4 556.2L333.6 556.7L333.8 554.8L334.0 548.9L334.2 546.5L334.4 552.0L334.6 548.6L334.8 557.8L335.1 553.4L335.3 550.3L335.5 550.3L335.7 541.6L335.9 553.9L336.1 540.5L336.3 538.6L336.6 530.2L336.8 542.1L337.0 536.5L337.2 530.5L337.4 532.0L337.6 539.8L337.8 535.9L338.1 538.6L338.3 531.7L338.5 527.6L338.7 523.2L338.9 525.9L339.1 523.1L339.3 521.2L339.6 528.9L339.8 520.6L340.0 518.0L340.2 522.3L340.4 524.8L340.6 518.2L340.8 517.0L341.1 513.2L341.3 523.8L341.5 515.7L341.7 503.1L341.9 505.3L342.1 510.8L342.3 510.2L342.5 508.8L342.8 510.8L343.0 507.1L343.2 503.8L343.4 508.0L343.6 501.3L343.8 498.3L344.0 504.3L344.3 499.0L344.5 502.9L344.7 493.9L344.9 491.7L345.1 493.8L345.3 489.6L345.5 485.9L345.8 483.9L346.0 492.1L346.2 485.8L346.4 489.7L346.6 490.4L346.8 475.1L347.0 474.9L347.3 471.1L347.5 472.0L347.7 476.6L347.9 471.7L348.1 473.8L348.3 463.3L348.5 479.5L348.7 464.9L349.0 468.0L349.2 460.4L349.4 456.6L349.6 463.9L349.8 452.9L350.0 452.7L350.2 463.8L350.5 446.1L350.7 458.9L350.9 458.2L351.1 445.7L351.3 452.1L351.5 446.1L351.7 445.8L352.0 448.9L352.2 434.9L352.4 433.9L352.6 439.1L352.8 430.4L353.0 436.4L353.2 433.6L353.5 434.7L353.7 438.0L353.9 431.7L354.1 433.1L354.3 425.0L354.5 424.7L354.7 426.6L354.9 416.2L355.2 418.9L355.4 410.5L355.6 419.4L355.8 417.8L356.0 417.9L356.2 411.7L356.4 412.0L356.7 409.5L356.9 399.8L357.1 402.7L357.3 407.9L357.5 401.5L357.7 403.0L357.9 401.7L358.2 399.7L358.4 396.8L358.6 392.5L358.8 389.1L359.0 392.2L359.2 394.6L359.4 389.2L359.7 388.6L359.9 387.4L360.1 390.3L360.3 383.6L360.5 390.0L360.7 373.8L360.9 374.8L361.1 373.2L361.4 379.6L361.6 372.5L361.8 366.0L362.0 371.5L362.2 374.1L362.4 368.0L362.6 376.6L362.9 359.9L363.1 360.8L363.3 367.8L363.5 356.5L363.7 352.9L363.9 353.7L364.1 352.1L364.4 346.4L364.6 351.2L364.8 344.1L365.0 350.2L365.2 351.0L365.4 347.8L365.6 349.7L365.9 341.4L366.1 345.1L366.3 338.6L366.5 337.4L366.7 329.7L366.9 327.6L367.1 337.1L367.3 333.9L367.6 332.4L367.8 333.1L368.0 320.2L368.2 321.5L368.4 327.0L368.6 331.1L368.8 326.2L369.1 321.6L369.3 312.9L369.5 325.0L369.7 310.7L369.9 323.0L370.1 313.2L370.3 319.0L370.6 314.2L370.8 322.2L371.0 306.7L371.2 308.0L371.4 311.8L371.6 315.6L371.8 304.6L372.1 303.1L372.3 308.5L372.5 298.1L372.7 299.7L372.9 303.3L373.1 300.4L373.3 307.0L373.5 290.7L373.8 288.3L374.0 292.6L374.2 296.5L374.4 294.6L374.6 289.5L374.8 291.1L375.0 284.4L375.3 288.7L375.5 279.1L375.7 276.6L375.9 283.9L376.1 283.9L376.3 290.7L376.5 277.6L376.8 274.9L377.0 280.1L377.2 269.2L377.4 276.6L377.6 278.0L377.8 267.4L378.0 268.1L378.3 279.1L378.5 271.6L378.7 273.3L378.9 267.3L379.1 264.4L379.3 266.5L379.5 262.6L379.7 258.1L380.0 263.0L380.2 266.5L380.4 264.2L380.6 254.7L380.8 249.6L381.0 257.7L381.2 254.2L381.5 259.0L381.7 257.0L381.9 248.9L382.1 255.0L382.3 251.0L382.5 250.4L382.7 244.7L383.0 248.3L383.2 248.9L383.4 249.3L383.6 249.7L383.8 241.6L384.0 235.6L384.2 252.5L384.5 239.4L384.7 248.3L384.9 245.9L385.1 243.7L385.3 243.7L385.5 242.8L385.7 243.2L385.9 231.3L386.2 246.0L386.4 241.7L386.6 241.7L386.8 236.5L387.0 243.0L387.2 236.4L387.4 235.3L387.7 226.1L387.9 231.8L388.1 234.6L388.3 233.4L388.5 224.7L388.7 233.5L388.9 235.8L389.2 235.1L389.4 233.5L389.6 227.2L389.8 235.7L390.0 233.4L390.2 230.4L390.4 234.3L390.7 226.6L390.9 231.2L391.1 226.7L391.3 226.3L391.5 221.5L391.7 220.0L391.9 232.1L392.1 234.0L392.4 233.0L392.6 225.1L392.8 224.7L393.0 227.0L393.2 227.0L393.4 219.5L393.6 222.4L393.9 225.4L394.1 223.4L394.3 233.3L394.5 220.6L394.7 216.4L394.9 225.4L395.1 228.0L395.4 220.1L395.6 228.3L395.8 225.5L396.0 223.1L396.2 226.8L396.4 222.8L396.6 235.3L396.9 237.7L397.1 222.8L397.3 223.9L397.5 225.5L397.7 228.5L397.9 226.6L398.1 224.9L398.3 232.5L398.6 226.1L398.8 231.2L399.0 217.9L399.2 226.2L399.4 226.9L399.6 223.7L399.8 224.3L400.1 224.5L400.3 232.3L400.5 228.9L400.7 225.7L400.9 229.2L401.1 230.0L401.3 233.6L401.6 230.4L401.8 225.2L402.0 237.7L402.2 238.9L402.4 238.6L402.6 240.7L402.8 227.8L403.1 225.4L403.3 232.4L403.5 234.8L403.7 229.3L403.9 231.3L404.1 247.5L404.3 237.7L404.6 226.4L404.8 240.3L405.0 242.4L405.2 242.6L405.4 232.9L405.6 243.0L405.8 239.6L406.0 236.5L406.3 242.0L406.5 243.4L406.7 249.1L406.9 250.7L407.1 240.5L407.3 252.4L407.5 242.0L407.8 242.0L408.0 241.5L408.2 250.2L408.4 254.1L408.6 250.4L408.8 245.6L409.0 250.0L409.3 251.1L409.5 254.8L409.7 250.7L409.9 265.1L410.1 262.3L410.3 250.4L410.5 256.4L410.8 256.2L411.0 269.3L411.2 265.3L411.4 264.3L411.6 263.7L411.8 258.6L412.0 267.8L412.2 265.6L412.5 270.5L412.7 269.2L412.9 267.4L413.1 268.3L413.3 266.6L413.5 278.2L413.7 269.7L414.0 272.3L414.2 279.2L414.4 270.5L414.6 280.8L414.8 280.5L415.0 277.4L415.2 274.4L415.5 284.1L415.7 276.4L415.9 282.6L416.1 289.3L416.3 283.4L416.5 287.7L416.7 292.6L417.0 291.1L417.2 285.8L417.4 291.2L417.6 295.2L417.8 291.5L418.0 303.1L418.2 294.8L418.4 292.9L418.7 305.8L418.9 306.8L419.1 306.9L419.3 305.2L419.5 309.0L419.7 306.9L419.9 312.8L420.2 308.2L420.4 308.1L420.6 310.0L420.8 316.2L421.0 311.0L421.2 323.5L421.4 320.6L421.7 319.3L421.9 314.4L422.1 323.5L422.3 320.3L422.5 316.9L422.7 316.7L422.9 319.2L423.2 332.5L423.4 328.9L423.6 329.3L423.8 329.9L424.0 332.1L424.2 336.5L424.4 337.2L424.6 345.3L424.9 336.9L425.1 340.3L425.3 345.9L425.5 336.3L425.7 346.2L425.9 350.7L426.1 346.4L426.4 348.6L426.6 349.1L426.8 354.1L427.0 351.6L427.2 356.1L427.4 352.6L427.6 358.2L427.9 365.1L428.1 367.6L428.3 361.6L428.5 361.5L428.7 374.2L428.9 366.1L429.1 370.8L429.4 370.7L429.6 377.3L429.8 380.3L430.0 379.4L430.2 382.0L430.4 381.7L430.6 380.9L430.8 382.7L431.1 375.7L431.3 390.4L431.5 389.6L431.7 388.7L431.9 387.9L432.1 397.1L432.3 400.6L432.6 394.3L432.8 395.3L433.0 395.9L433.2 397.2L433.4 408.9L433.6 398.4L433.8 405.5L434.1 396.8L434.3 409.9L434.5 419.7L434.7 411.7L434.9 411.9L435.1 412.9L435.3 415.0L435.6 420.0L435.8 426.8L436.0 421.5L436.2 423.7L436.4 426.9L436.6 425.1L436.8 428.3L437.0 437.9L437.3 433.9L437.5 435.5L437.7 434.4L437.9 427.2L438.1 436.5L438.3 435.3L438.5 449.2L438.8 435.3L439.0 445.0L439.2 441.6L439.4 450.6L439.6 447.3L439.8 444.9L440.0 450.3L440.3 450.7L440.5 456.8L440.7 458.1L440.9 455.0L441.1 458.6L441.3 458.7L441.5 463.9L441.8 464.1L442.0 460.3L442.2 458.8L442.4 468.6L442.6 471.3L442.8 469.2L443.0 466.9L443.2 471.4L443.5 469.1L443.7 476.5L443.9 481.5L444.1 487.3L444.3 476.0L444.5 480.2L444.7 485.8L445.0 482.6L445.2 491.0L445.4 482.3L445.6 483.7L445.8 484.5L446.0 493.3L446.2 486.1L446.5 490.2L446.7 488.1L446.9 504.7L447.1 493.9L447.3 493.4L447.5 502.2L447.7 497.8L448.0 503.0L448.2 498.1L448.4 507.3L448.6 507.2L448.8 514.2L449.0 500.5L449.2 515.2L449.4 517.5L449.7 518.1L449.9 514.8L450.1 516.1L450.3 515.6L450.5 511.7L450.7 515.5L450.9 528.1L451.2 521.7L451.4 524.6L451.6 521.4L451.8 525.6L452.0 521.1L452.2 527.8L452.4 520.5L452.7 535.2L452.9 526.5L453.1 528.8L453.3 537.5L453.5 541.4L453.7 539.4L453.9 535.7L454.2 530.9L454.4 546.4L454.6 542.0L454.8 547.6L455.0 539.1L455.2 543.1L455.4 544.7L455.6 542.4L455.9 545.4L456.1 541.0L456.3 550.1L456.5 552.5L456.7 550.6L456.9 551.8L457.1 546.6L457.4 555.3L457.6 556.8L457.8 558.4L458.0 559.7L458.2 566.2L458.4 557.3L458.6 556.4L458.9 558.9L459.1 564.0L459.3 557.0L459.5 558.8L459.7 561.7L459.9 560.7L460.1 564.9L460.4 563.3L460.6 563.4L460.8 572.3L461.0 569.7L461.2 571.4L461.4 567.0L461.6 581.4L461.9 568.8L462.1 570.9L462.3 572.3L462.5 570.3L462.7 579.6L462.9 572.3L463.1 577.4L463.3 577.4L463.6 568.7L463.8 577.2L464.0 571.3L464.2 576.9L464.4 578.6L464.6 579.5L464.8 584.9L465.1 580.3L465.3 578.5L465.5 573.1L465.7 576.6L465.9 576.7L466.1 585.2L466.3 584.8L466.6 580.0L466.8 579.6L467.0 587.4L467.2 578.0L467.4 586.1L467.6 582.2L467.8 586.0L468.1 580.7L468.3 580.3L468.5 579.9L468.7 589.0L468.9 584.4L469.1 574.9L469.3 585.5L469.5 583.5L469.8 585.3L470.0 588.4L470.2 578.3L470.4 579.1L470.6 589.7L470.8 584.2L471.0 578.1L471.3 584.6L471.5 586.5L471.7 582.4L471.9 583.1L472.1 592.6L472.3 590.8L472.5 579.7L472.8 589.7L473.0 587.2L473.2 590.0L473.4 578.1L473.6 592.6L473.8 586.0L474.0 588.5L474.3 588.0L474.5 592.2L474.7 590.1L474.9 587.2L475.1 584.9L475.3 594.5L475.5 585.3L475.7 589.6L476.0 585.6L476.2 587.2L476.4 585.4L476.6 585.7L476.8 582.2L477.0 584.0L477.2 591.6L477.5 594.6L477.7 589.9L477.9 581.5L478.1 590.3L478.3 586.8L478.5 573.2L478.7 583.0L479.0 581.9L479.2 579.0L479.4 577.1L479.6 582.1L479.8 578.7L480.0 588.2L480.2 576.8L480.5 575.1L480.7 585.4L480.9 572.5L481.1 567.3L481.3 587.5L481.5 576.1L481.7 568.0L481.9 570.8L482.2 576.7L482.4 575.7L482.6 573.9L482.8 568.3L483.0 574.9L483.2 577.1L483.4 568.9L483.7 572.5L483.9 560.3L484.1 572.3L484.3 565.5L484.5 567.1L484.7 572.2L484.9 566.9L485.2 573.1L485.4 561.2L485.6 566.7L485.8 567.2L486.0 567.9L486.2 553.2L486.4 556.5L486.7 562.7L486.9 558.0L487.1 553.4L487.3 552.7L487.5 554.5L487.7 563.4L487.9 544.7L488.1 552.4L488.4 544.3L488.6 555.9L488.8 545.2L489.0 541.6L489.2 541.5L489.4 551.7L489.6 546.1L489.9 536.6L490.1 546.7L490.3 538.6L490.5 541.6L490.7 546.7L490.9 534.2L491.1 532.4L491.4 533.5L491.6 534.2L491.8 529.5L492.0 542.4L492.2 532.2L492.4 522.8L492.6 527.4L492.9 523.5L493.1 528.5L493.3 524.6L493.5 530.5L493.7 521.4L493.9 521.3L494.1 523.2L494.3 520.3L494.6 518.5L494.8 516.8L495.0 512.9L495.2 510.5L495.4 524.1L495.6 511.5L495.8 506.1L496.1 515.6L496.3 509.6L496.5 496.3L496.7 509.2L496.9 500.2L497.1 502.4L497.3 509.0L497.6 502.1L497.8 508.2L498.0 499.9L498.2 492.6L498.4 492.4L498.6 492.7L498.8 495.2L499.1 488.3L499.3 484.1L499.5 484.9L499.7 482.4L499.9 483.5L500.1 482.1L500.3 487.0L500.5 474.3L500.8 485.0L501.0 482.7L501.2 480.4L501.4 479.1L501.6 467.9L501.8 473.7L502.0 472.5L502.3 471.1L502.5 468.3L502.7 460.5L502.9 458.2L503.1 465.9L503.3 454.2L503.5 458.0L503.8 457.8L504.0 451.6L504.2 455.7L504.4 453.2L504.6 452.5L504.8 457.2L505.0 456.1L505.3 453.2L505.5 451.2L505.7 448.4L505.9 446.6L506.1 437.3L506.3 440.9L506.5 435.8L506.7 436.3L507.0 440.4L507.2 436.1L507.4 440.3L507.6 439.8L507.8 428.3L508.0 428.7L508.2 426.6L508.5 420.8L508.7 430.3L508.9 423.1L509.1 431.3L509.3 423.3L509.5 414.8L509.7 423.3L510.0 420.7L510.2 414.4L510.4 403.4L510.6 406.2L510.8 409.1L511.0 403.7L511.2 404.7L511.5 405.4L511.7 404.4L511.9 398.3L512.1 399.3L512.3 393.6L512.5 398.2L512.7 390.2L512.9 394.4L513.2 385.4L513.4 384.7L513.6 391.1L513.8 375.4L514.0 382.9L514.2 386.2L514.4 387.4L514.7 379.5L514.9 377.8L515.1 380.4L515.3 380.4L515.5 375.9L515.7 377.2L515.9 373.7L516.2 373.3L516.4 365.5L516.6 377.7L516.8 355.0L517.0 365.1L517.2 361.6L517.4 366.1L517.7 353.3L517.9 357.6L518.1 357.0L518.3 358.2L518.5 349.5L518.7 348.6L518.9 352.3L519.2 340.2L519.4 350.6L519.6 339.3L519.8 342.6L520.0 348.4L520.2 341.7L520.4 336.5L520.6 339.5L520.9 335.7L521.1 335.1L521.3 331.2L521.5 334.8L521.7 321.7L521.9 327.4L522.1 320.6L522.4 327.2L522.6 323.7L522.8 327.8L523.0 321.7L523.2 313.4L523.4 317.6L523.6 321.1L523.9 318.9L524.1 312.2L524.3 314.4L524.5 302.7L524.7 309.8L524.9 309.5L525.1 304.8L525.4 299.3L525.6 312.7L525.8 307.6L526.0 306.3L526.2 311.0L526.4 301.2L526.6 299.6L526.8 293.9L527.1 293.7L527.3 292.3L527.5 291.3L527.7 295.0L527.9 279.8L528.1 283.5L528.3 290.8L528.6 292.3L528.8 284.5L529.0 281.0L529.2 282.3L529.4 279.7L529.6 277.6L529.8 279.1L530.1 284.3L530.3 281.2L530.5 286.1L530.7 272.3L530.9 278.1L531.1 273.6L531.3 263.5L531.6 276.1L531.8 271.3L532.0 274.1L532.2 277.8L532.4 263.6L532.6 267.7L532.8 266.5L533.0 261.6L533.3 265.2L533.5 260.1L533.7 256.4L533.9 264.6L534.1 258.4L534.3 258.9L534.5 253.7L534.8 246.3L535.0 261.5L535.2 248.8L535.4 254.6L535.6 251.1L535.8 251.6L536.0 253.2L536.3 257.5L536.5 251.0L536.7 254.3L536.9 242.6L537.1 246.5L537.3 250.5L537.5 248.8L537.8 241.2L538.0 252.3L538.2 244.1L538.4 243.6L538.6 247.8L538.8 238.0L539.0 244.1L539.2 236.7L539.5 240.0L539.7 243.2L539.9 240.2L540.1 234.5L540.3 242.9L540.5 241.8L540.7 237.9L541.0 234.3L541.2 233.5L541.4 240.3L541.6 240.8L541.8 235.3L542.0 235.4L542.2 232.6L542.5 240.6L542.7 235.3L542.9 237.7L543.1 224.7L543.3 241.3L543.5 235.7L543.7 233.4L544.0 238.8L544.2 232.4L544.4 233.5L544.6 236.9L544.8 231.6L545.0 223.0L545.2 228.1L545.4 222.2L545.7 222.3L545.9 227.4L546.1 229.2L546.3 237.8L546.5 236.8L546.7 226.2L546.9 226.7L547.2 226.1L547.4 230.7L547.6 227.9L547.8 231.4L548.0 222.4L548.2 225.8L548.4 235.5L548.7 228.8L548.9 220.4L549.1 230.9L549.3 231.2L549.5 230.5L549.7 228.6L549.9 225.6L550.2 226.9L550.4 225.4L550.6 228.9L550.8 223.3L551.0 219.8L551.2 230.5L551.4 225.3L551.6 225.3L551.9 226.0L552.1 227.2L552.3 225.0L552.5 228.3L552.7 230.5L552.9 231.3L553.1 224.5L553.4 230.6L553.6 236.8L553.8 230.9L554.0 231.4L554.2 225.3L554.4 225.0L554.6 235.0L554.9 224.6L555.1 229.0L555.3 223.8L555.5 233.7L555.7 228.7L555.9 228.7L556.1 225.3L556.4 238.9L556.6 233.5L556.8 233.3L557.0 235.3L557.2 238.8L557.4 236.5L557.6 235.4L557.8 227.4L558.1 236.6L558.3 232.5L558.5 240.3L558.7 237.5L558.9 239.2L559.1 239.3L559.3 246.9L559.6 240.9L559.8 229.7L560.0 242.2L560.2 248.8L560.4 232.9L560.6 242.1L560.8 243.3L561.1 252.7L561.3 247.7L561.5 248.1L561.7 248.5L561.9 253.2L562.1 246.3L562.3 256.2L562.6 245.7L562.8 251.8L563.0 254.6L563.2 260.5L563.4 252.6L563.6 253.4L563.8 262.7L564.0 249.1L564.3 258.8L564.5 265.6L564.7 253.9L564.9 265.3L565.1 265.5L565.3 268.9L565.5 267.6L565.8 265.6L566.0 270.3L566.2 265.0L566.4 272.0L566.6 268.8L566.8 279.7L567.0 272.9L567.3 271.8L567.5 269.6L567.7 275.2L567.9 274.1L568.1 274.1L568.3 280.8L568.5 275.4L568.8 277.6L569.0 282.6L569.2 286.9L569.4 276.6L569.6 278.5L569.8 283.8L570.0 280.9L570.2 280.3L570.5 288.8L570.7 286.8L570.9 288.0L571.1 289.6L571.3 293.6L571.5 296.4L571.7 292.0L572.0 295.7L572.2 290.4L572.4 297.1L572.6 300.1L572.8 307.5L573.0 303.6L573.2 303.1L573.5 306.3L573.7 310.3L573.9 320.0L574.1 313.8L574.3 310.4L574.5 305.0L574.7 318.9L575.0 312.7L575.2 322.3L575.4 313.5L575.6 320.2L575.8 320.5L576.0 320.3L576.2 326.3L576.5 327.7L576.7 321.6L576.9 334.0L577.1 333.2L577.3 326.8L577.5 328.5L577.7 336.9L577.9 338.2L578.2 335.6L578.4 329.0L578.6 332.3L578.8 341.9L579.0 344.5L579.2 343.9L579.4 353.0L579.7 345.1L579.9 349.8L580.1 344.6L580.3 354.6L580.5 350.9L580.7 356.7L580.9 357.9L581.2 348.8L581.4 362.5L581.6 360.4L581.8 359.7L582.0 354.3L582.2 363.1L582.4 368.0L582.7 366.3L582.9 361.1L583.1 368.1L583.3 369.2L583.5 363.4L583.7 379.3L583.9 371.5L584.1 382.2L584.4 374.2L584.6 379.0L584.8 380.1L585.0 383.3L585.2 384.9L585.4 399.5L585.6 394.9L585.9 381.1L586.1 392.0L586.3 394.6L586.5 392.8L586.7 392.8L586.9 397.8L587.1 395.5L587.4 399.0L587.6 406.2L587.8 404.2L588.0 401.9L588.2 412.3L588.4 409.5L588.6 414.8L588.9 414.1L589.1 421.6L589.3 415.5L589.5 420.6L589.7 414.2L589.9 422.3L590.1 412.9L590.3 418.7L590.6 428.9L590.8 417.5L591.0 428.1L591.2 428.3L591.4 437.6L591.6 433.7L591.8 437.9L592.1 442.4L592.3 443.1L592.5 433.3L592.7 443.6L592.9 442.8L593.1 447.9L593.3 447.8L593.6 449.8L593.8 449.5L594.0 450.3L594.2 448.0L594.4 453.8L594.6 455.7L594.8 460.5L595.1 455.4L595.3 457.6L595.5 462.6L595.7 470.9L595.9 464.6L596.1 475.2L596.3 460.4L596.5 468.4L596.8 464.3L597.0 472.6L597.2 469.1L597.4 466.8L597.6 472.1L597.8 482.2L598.0 486.0L598.3 483.0L598.5 481.0L598.7 488.8L598.9 493.6L599.1 489.2L599.3 488.4L599.5 497.7L599.8 491.3L600.0 488.5L600.2 498.7L600.4 494.2L600.6 496.7L600.8 496.4L601.0 497.7L601.3 504.8L601.5 499.2L601.7 493.5L601.9 502.6L602.1 512.2L602.3 508.5L602.5 499.7L602.7 510.5L603.0 510.3L603.2 518.2L603.4 520.7L603.6 515.2L603.8 514.4L604.0 520.4L604.2 516.8L604.5 521.5L604.7 530.6L604.9 523.6L605.1 520.7L605.3 514.1L605.5 532.6L605.7 525.4L606.0 526.5L606.2 527.3L606.4 529.7L606.6 524.5L606.8 527.2L607.0 536.9L607.2 538.8L607.5 536.0L607.7 543.9L607.9 537.6L608.1 535.7L608.3 542.9L608.5 542.8L608.7 545.7L608.9 542.9L609.2 542.3L609.4 550.2L609.6 542.2L609.8 552.0L610.0 548.2L610.2 548.2L610.4 555.0L610.7 553.0L610.9 557.3L611.1 548.6L611.3 554.9L611.5 562.0L611.7 552.5L611.9 558.7L612.2 549.1L612.4 559.2L612.6 556.4L612.8 565.5L613.0 562.3L613.2 562.6L613.4 558.6L613.7 557.3L613.9 563.8L614.1 565.7L614.3 570.0L614.5 569.7L614.7 567.9L614.9 563.1L615.1 560.3L615.4 570.5L615.6 573.2L615.8 575.3L616.0 567.5L616.2 565.5L616.4 569.6L616.6 565.6L616.9 573.6L617.1 576.3L617.3 574.1L617.5 581.2L617.7 577.2L617.9 579.4L618.1 586.0L618.4 577.6L618.6 575.6L618.8 572.6L619.0 579.9L619.2 574.3L619.4 583.9L619.6 574.9L619.9 584.3L620.1 582.0L620.3 588.0L620.5 574.2L620.7 584.4L620.9 577.7L621.1 583.7L621.3 582.3L621.6 580.5L621.8 589.6L622.0 582.5L622.2 586.4L622.4 589.6L622.6 580.2L622.8 586.2L623.1 579.6L623.3 585.3L623.5 587.7L623.7 588.9L623.9 586.3L624.1 589.4L624.3 582.2L624.6 589.5L624.8 580.5L625.0 588.7L625.2 587.4L625.4 590.1L625.6 576.5L625.8 596.8L626.1 583.4L626.3 582.1L626.5 581.9L626.7 578.9L626.9 580.2L627.1 594.9L627.3 586.5L627.5 591.6L627.8 588.0L628.0 588.0L628.2 582.0L628.4 582.9L628.6 586.7L628.8 590.2L629.0 584.7L629.3 585.9L629.5 588.0L629.7 581.6L629.9 579.4L630.1 589.2L630.3 579.1L630.5 590.0L630.8 586.8L631.0 591.8L631.2 582.4L631.4 575.7L631.6 589.1L631.8 586.2L632.0 587.7L632.3 582.0L632.5 577.1L632.7 588.4L632.9 577.7L633.1 571.8L633.3 581.8L633.5 580.1L633.7 576.8L634.0 588.2L634.2 582.9L634.4 575.8L634.6 577.7L634.8 573.7L635.0 581.2L635.2 576.8L635.5 579.1L635.7 580.3L635.9 571.2L636.1 565.8L636.3 577.4L636.5 570.7L636.7 568.9L637.0 564.9L637.2 573.7L637.4 577.0L637.6 567.0L637.8 572.1L638.0 573.7L638.2 568.6L638.5 566.5L638.7 564.8L638.9 565.8L639.1 573.8L639.3 573.5L639.5 560.4L639.7 555.4L640.0 558.5L640.2 565.1L640.4 554.8L640.6 562.8L640.8 551.3L641.0 555.1L641.2 551.7L641.4 558.7L641.7 551.0L641.9 562.4L642.1 546.0L642.3 556.8L642.5 550.3L642.7 544.8L642.9 543.7L643.2 546.4L643.4 553.2L643.6 538.7L643.8 545.6L644.0 549.5L644.2 534.9L644.4 528.9L644.7 541.3L644.9 533.3L645.1 532.9L645.3 534.4L645.5 532.2L645.7 532.6L645.9 542.6L646.2 535.5L646.4 533.1L646.6 533.8L646.8 528.2L647.0 527.7L647.2 523.0L647.4 514.6L647.6 527.3L647.9 519.0L648.1 513.0L648.3 520.3L648.5 526.6L648.7 517.9L648.9 510.7L649.1 512.3L649.4 520.7L649.6 511.2L649.8 512.1L650.0 512.3L650.2 504.9L650.4 519.4L650.6 499.2L650.9 496.1L651.1 505.4L651.3 506.7L651.5 507.7L651.7 497.6L651.9 500.9L652.1 506.3L652.4 505.2L652.6 491.5L652.8 488.3L653.0 497.6L653.2 483.1L653.4 491.0L653.6 486.5L653.8 490.5L654.1 479.4L654.3 483.9L654.5 481.7L654.7 478.4L654.9 482.1L655.1 470.6L655.3 474.2L655.6 477.3L655.8 478.4L656.0 470.4L656.2 469.3L656.4 469.2L656.6 472.4L656.8 459.3L657.1 463.4L657.3 457.7L657.5 458.2L657.7 460.2L657.9 461.1L658.1 462.6L658.3 450.6L658.6 454.3L658.8 445.3L659.0 443.3L659.2 446.1L659.4 446.7L659.6 440.6L659.8 435.9L660.0 442.8L660.3 437.6L660.5 431.7L660.7 442.3L660.9 433.0L661.1 435.3L661.3 430.4L661.5 427.0L661.8 430.5L662.0 426.2L662.2 418.8L662.4 421.6L662.6 420.9L662.8 421.3L663.0 419.9L663.3 413.7L663.5 418.1L663.7 417.5L663.9 416.6L664.1 413.9L664.3 410.0L664.5 409.4L664.8 408.6L665.0 395.3L665.2 409.4L665.4 402.1L665.6 398.1L665.8 399.8L666.0 397.7L666.2 402.8L666.5 394.6L666.7 389.9L666.9 396.0L667.1 388.5L667.3 384.8L667.5 387.0L667.7 385.0L668.0 391.3L668.2 377.2L668.4 370.3L668.6 373.6L668.8 370.1L669.0 388.6L669.2 378.5L669.5 375.9L669.7 371.7L669.9 373.2L670.1 377.8L670.3 368.7L670.5 373.7L670.7 366.2L671.0 358.8L671.2 352.8L671.4 357.3L671.6 354.8L671.8 365.6L672.0 361.1L672.2 350.9L672.4 349.6L672.7 350.2L672.9 352.8L673.1 350.1L673.3 344.4L673.5 336.5L673.7 343.8L673.9 352.9L674.2 329.8L674.4 335.7L674.6 340.2L674.8 329.3L675.0 331.1L675.2 335.5L675.4 334.4L675.7 326.3L675.9 328.6L676.1 320.8L676.3 328.9L676.5 328.1L676.7 329.5L676.9 323.0L677.2 310.7L677.4 329.6L677.6 315.7L677.8 321.7L678.0 319.5L678.2 304.3L678.4 321.8L678.6 313.4L678.9 320.6L679.1 311.7L679.3 304.7L679.5 305.8L679.7 299.7L679.9 299.6L680.1 304.2L680.4 300.3L680.6 297.0L680.8 299.9L681.0 307.4L681.2 297.8L681.4 292.9L681.6 292.1L681.9 300.8L682.1 294.9L682.3 286.3L682.5 292.2L682.7 282.7L682.9 291.4L683.1 293.6L683.4 289.5L683.6 271.7L683.8 285.1L684.0 283.4L684.2 276.9L684.4 280.6L684.6 286.6L684.8 278.6L685.1 269.7L685.3 281.5L685.5 279.0L685.7 272.5L685.9 269.6L686.1 272.7L686.3 259.9L686.6 269.0L686.8 272.6L687.0 264.7L687.2 263.5L687.4 263.5L687.6 263.7L687.8 251.8L688.1 253.4L688.3 257.4L688.5 259.6L688.7 254.3L688.9 253.1L689.1 254.7L689.3 259.7L689.6 249.1L689.8 250.9L690.0 258.5L690.2 248.4L690.4 246.2L690.6 247.0L690.8 250.9L691.0 249.7L691.3 251.0L691.5 249.0L691.7 240.7L691.9 242.7L692.1 250.0L692.3 242.0L692.5 237.8L692.8 235.6L693.0 239.7L693.2 245.5L693.4 242.4L693.6 243.4L693.8 242.9L694.0 245.4L694.3 238.2L694.5 237.0L694.7 240.3L694.9 227.9L695.1 238.4L695.3 231.9L695.5 225.6L695.8 235.8L696.0 225.2L696.2 231.7L696.4 224.2L696.6 228.9L696.8 237.1L697.0 235.5L697.3 238.9L697.5 234.1L697.7 234.1L697.9 229.3L698.1 240.4L698.3 239.0L698.5 231.7L698.7 232.6L699.0 225.0L699.2 230.4L699.4 232.2L699.6 226.1L699.8 236.1L700.0 226.4L700.2 222.9L700.5 223.1L700.7 231.0L700.9 218.5L701.1 224.8L701.3 224.4L701.5 221.6L701.7 219.8L702.0 230.9L702.2 226.2L702.4 227.0L702.6 226.0L702.8 223.7L703.0 222.7L703.2 226.3L703.5 222.0L703.7 219.6L703.9 224.5L704.1 233.4L704.3 235.8L704.5 228.1L704.7 227.2L704.9 227.0L705.2 226.1L705.4 227.0L705.6 220.4L705.8 227.0L706.0 229.4L706.2 229.6L706.4 224.4L706.7 230.9L706.9 229.2L707.1 228.7L707.3 232.4L707.5 236.5L707.7 235.1L707.9 234.7L708.2 234.7L708.4 232.1L708.6 228.4L708.8 232.8L709.0 237.2L709.2 225.6L709.4 232.0L709.7 242.1L709.9 233.0L710.1 239.5L710.3 235.1L710.5 235.9L710.7 232.5L710.9 242.9L711.1 234.3L711.4 230.7L711.6 242.8L711.8 233.1L712.0 234.7L712.2 236.3L712.4 230.8L712.6 242.2L712.9 241.5L713.1 238.1L713.3 237.6L713.5 240.8L713.7 240.0L713.9 243.5L714.1 241.1L714.4 245.9L714.6 243.1L714.8 248.1L715.0 247.9L715.2 254.1L715.4 250.6L715.6 248.2L715.9 252.1L716.1 249.3L716.3 245.0L716.5 251.9L716.7 255.5L716.9 254.4L717.1 262.7L717.3 250.2L717.6 248.3L717.8 261.7L718.0 245.0L718.2 262.4L718.4 254.7L718.6 259.1L718.8 252.8L719.1 256.5L719.3 257.2L719.5 256.6L719.7 263.1L719.9 262.2L720.1 270.7L720.3 258.2L720.6 268.2L720.8 266.1L721.0 269.5L721.2 274.9L721.4 277.1L721.6 276.0L721.8 275.9L722.1 280.9L722.3 276.3L722.5 275.3L722.7 277.0L722.9 282.8L723.1 281.2L723.3 276.0L723.5 279.1L723.8 286.0L724.0 287.6L724.2 283.0L724.4 298.2L724.6 286.4L724.8 295.7L725.0 294.5L725.3 294.6L725.5 290.1L725.7 303.5L725.9 294.1L726.1 290.7L726.3 304.1L726.5 298.1L726.8 290.9L727.0 304.3L727.2 300.3L727.4 307.7L727.6 306.5L727.8 319.6L728.0 310.7L728.3 301.7L728.5 303.8L728.7 316.5L728.9 312.9L729.1 318.3L729.3 318.1L729.5 323.0L729.7 313.4L730.0 324.1L730.2 315.7L730.4 326.2L730.6 318.2L730.8 328.6L731.0 334.9L731.2 333.5L731.5 330.8L731.7 328.6L731.9 331.1L732.1 341.1L732.3 329.9L732.5 337.4L732.7 339.0L733.0 344.8L733.2 338.1L733.4 345.3L733.6 352.9L733.8 347.8L734.0 347.3L734.2 351.9L734.5 354.3L734.7 352.3L734.9 361.7L735.1 352.6L735.3 361.2L735.5 366.3L735.7 359.6L735.9 355.6L736.2 358.7L736.4 371.9L736.6 371.5L736.8 365.5L737.0 368.9L737.2 369.6L737.4 370.2L737.7 383.3L737.9 369.4L738.1 384.3L738.3 378.7L738.5 385.7L738.7 380.6L738.9 378.1L739.2 383.1L739.4 390.9L739.6 389.0L739.8 390.8L740.0 393.3L740.2 389.5L740.4 399.4L740.7 394.2L740.9 403.4L741.1 396.6L741.3 397.8L741.5 402.1L741.7 399.1L741.9 399.3L742.1 407.7L742.4 408.0L742.6 417.1L742.8 417.0L743.0 408.7L743.2 425.7L743.4 409.9L743.6 415.0L743.9 423.6L744.1 421.1L744.3 427.2L744.5 419.1L744.7 430.0L744.9 421.8L745.1 430.1L745.4 436.6L745.6 428.5L745.8 431.5L746.0 433.4L746.2 432.2L746.4 441.7L746.6 448.1L746.9 442.9L747.1 442.2L747.3 443.9L747.5 450.8L747.7 446.2L747.9 456.1L748.1 450.6L748.3 449.9L748.6 452.9L748.8 453.2L749.0 465.0L749.2 460.4L749.4 462.0L749.6 463.5L749.8 465.6L750.1 464.4L750.3 463.3L750.5 463.9L750.7 470.1L750.9 472.1L751.1 470.7L751.3 481.5L751.6 471.6L751.8 479.8L752.0 474.4L752.2 477.9L752.4 479.6L752.6 476.0L752.8 478.6L753.1 482.6L753.3 491.4L753.5 492.8L753.7 492.0L753.9 492.6L754.1 495.8L754.3 498.5L754.6 489.3L754.8 505.5L755.0 486.4L755.2 499.6L755.4 500.9L755.6 511.7L755.8 502.7L756.0 502.7L756.3 501.6L756.5 516.7L756.7 512.3L756.9 502.6L757.1 510.7L757.3 506.2L757.5 510.3L757.8 509.0L758.0 519.0L758.2 514.0L758.4 518.4L758.6 530.1L758.8 519.7L759.0 525.9L759.3 522.4L759.5 525.2L759.7 533.9L759.9 520.8L760.1 529.2L760.3 528.6L760.5 540.5L760.8 531.5L761.0 531.9L761.2 531.4L761.4 541.3L761.6 530.2L761.8 544.2L762.0 535.9L762.2 537.1L762.5 537.2L762.7 546.7L762.9 540.5L763.1 553.9L763.3 541.3L763.5 545.6L763.7 543.9L764.0 546.4L764.2 556.9L764.4 543.0L764.6 549.7L764.8 546.3L765.0 563.1L765.2 548.3L765.5 556.6L765.7 559.7L765.9 553.1L766.1 555.2L766.3 547.5L766.5 548.5L766.7 560.5L767.0 557.7L767.2 558.7L767.4 561.6L767.6 567.5L767.8 566.9L768.0 571.1L768.2 569.0L768.4 563.7L768.7 560.8L768.9 578.6L769.1 575.0L769.3 571.7L769.5 567.9L769.7 569.1L769.9 563.5L770.2 570.2L770.4 575.9L770.6 567.8L770.8 583.2L771.0 575.5L771.2 573.1L771.4 571.9L771.7 577.4L771.9 571.5L772.1 577.1L772.3 582.5L772.5 577.8L772.7 574.3L772.9 576.8L773.2 574.6L773.4 576.8L773.6 575.2L773.8 576.3L774.0 591.3L774.2 583.9L774.4 579.0L774.6 588.1L774.9 581.2L775.1 587.4L775.3 580.7L775.5 589.6L775.7 579.2L775.9 592.6L776.1 589.3L776.4 593.6L776.6 573.9L776.8 584.2L777.0 591.0L777.2 585.1L777.4 585.4L777.6 581.9L777.9 590.3L778.1 587.9L778.3 582.1L778.5 586.4L778.7 578.8L778.9 575.0L779.1 580.5L779.4 582.9L779.6 585.6L779.8 598.9L780.0 587.9L780.2 594.7L780.4 594.5L780.6 594.0L780.8 584.0L781.1 591.8L781.3 581.0L781.5 588.3L781.7 590.2L781.9 584.7L782.1 591.0L782.3 590.8L782.6 588.5L782.8 581.3L783.0 594.5L783.2 581.2L783.4 584.5L783.6 584.3L783.8 591.3L784.1 585.3L784.3 579.9L784.5 583.7L784.7 582.3L784.9 581.9L785.1 583.7L785.3 584.4L785.6 581.7L785.8 577.6L786.0 578.9L786.2 589.6L786.4 587.4L786.6 581.9L786.8 578.8L787.0 586.1L787.3 579.1L787.5 584.7L787.7 571.7L787.9 571.3L788.1 576.9L788.3 571.8L788.5 579.8L788.8 581.7L789.0 577.3L789.2 574.4L789.4 576.9L789.6 573.9L789.8 579.0L790.0 574.6L790.3 568.7L790.5 570.2L790.7 575.1L790.9 569.6L791.1 566.4L791.3 570.7L791.5 567.7L791.8 567.6L792.0 562.8L792.2 564.8L792.4 560.9L792.6 564.4L792.8 561.2L793.0 565.4L793.2 564.6L793.5 567.8L793.7 559.0L793.9 556.0L794.1 554.7L794.3 558.3L794.5 556.1L794.7 555.7L795.0 560.7L795.2 554.2L795.4 553.4L795.6 551.0L795.8 555.1L796.0 539.9L796.2 546.8L796.5 550.7L796.7 543.5L796.9 547.0L797.1 544.2L797.3 548.2L797.5 540.0L797.7 544.2L798.0 543.1L798.2 539.9L798.4 542.0L798.6 534.0L798.8 539.8L799.0 533.0L799.2 537.4L799.4 540.8L799.7 532.5L799.9 532.1L800.1 530.1L800.3 533.1L800.5 535.4L800.7 524.1L800.9 521.7L801.2 527.1L801.4 525.1L801.6 530.4L801.8 521.0L802.0 526.5L802.2 519.0L802.4 513.2L802.7 519.7L802.9 518.4L803.1 519.6L803.3 516.8L803.5 516.7L803.7 507.7L803.9 513.1L804.2 505.5L804.4 503.4L804.6 506.6L804.8 505.3L805.0 503.5L805.2 504.5L805.4 492.6L805.6 506.7L805.9 498.4L806.1 490.6L806.3 499.2L806.5 485.1L806.7 495.7L806.9 489.5L807.1 483.5L807.4 481.9L807.6 486.2L807.8 479.5L808.0 488.7L808.2 478.2L808.4 485.5L808.6 479.4L808.9 482.0L809.1 477.5L809.3 473.7L809.5 468.6L809.7 466.7L809.9 464.8L810.1 464.8L810.4 469.2L810.6 457.7L810.8 464.0L811.0 464.1L811.2 468.6L811.4 464.1L811.6 460.3L811.8 457.6L812.1 463.7L812.3 454.8L812.5 456.0L812.7 452.1L812.9 451.3L813.1 449.0L813.3 445.3L813.6 441.8L813.8 448.6L814.0 442.0L814.2 441.6L814.4 428.4L814.6 435.6L814.8 434.7L815.1 434.9L815.3 437.4L815.5 425.8L815.7 437.1L815.9 435.3L816.1 427.2L816.3 431.2L816.6 418.5L816.8 415.7L817.0 421.9L817.2 426.3L817.4 409.8L817.6 408.1L817.8 414.1L818.1 409.6L818.3 412.3L818.5 411.2L818.7 409.8L818.9 415.5L819.1 398.1L819.3 400.8L819.5 400.2L819.8 398.7L820.0 396.4L820.2 395.2L820.4 383.8L820.6 398.3L820.8 396.0L821.0 388.4L821.3 395.7L821.5 383.4L821.7 386.8L821.9 394.6L822.1 385.0L822.3 385.3L822.5 369.9L822.8 382.1L823.0 373.1L823.2 377.1L823.4 372.2L823.6 376.5L823.8 364.6L824.0 365.4L824.3 372.4L824.5 360.0L824.7 362.1L824.9 366.7L825.1 366.7L825.3 359.9L825.5 356.6L825.7 360.3L826.0 355.9L826.2 349.5L826.4 360.5L826.6 343.4L826.8 346.0L827.0 352.5L827.2 344.7L827.5 353.9L827.7 340.8L827.9 332.4L828.1 334.1L828.3 334.5L828.5 339.9L828.7 327.6L829.0 335.8L829.2 335.5L829.4 337.0L829.6 331.5L829.8 334.8L830.0 326.5L830.2 329.3L830.5 327.9L830.7 321.4L830.9 314.3L831.1 320.3L831.3 321.7L831.5 319.8L831.7 313.3L831.9 321.9L832.2 313.0L832.4 318.4L832.6 313.2L832.8 303.0L833.0 308.4L833.2 301.0L833.4 303.4L833.7 309.4L833.9 297.2L834.1 308.4L834.3 305.0L834.5 298.0L834.7 298.7L834.9 291.4L835.2 287.7L835.4 289.5L835.6 292.8L835.8 289.8L836.0 287.6L836.2 285.9L836.4 291.3L836.7 281.1L836.9 287.4L837.1 281.7L837.3 288.9L837.5 281.4L837.7 285.7L837.9 280.3L838.1 290.7L838.4 281.6L838.6 281.3L838.8 269.8L839.0 281.2L839.2 270.3L839.4 279.1L839.6 266.1L839.9 262.8L840.1 269.6L840.3 268.2L840.5 268.7L840.7 269.1L840.9 271.9L841.1 259.8L841.4 256.5L841.6 257.7L841.8 270.9L842.0 263.0L842.2 257.9L842.4 258.4L842.6 257.0L842.9 268.6L843.1 256.2L843.3 259.0L843.5 250.0L843.7 247.9L843.9 246.6L844.1 254.1L844.3 247.9L844.6 247.3L844.8 256.1L845.0 255.3L845.2 251.2L845.4 242.2L845.6 240.8L845.8 251.5L846.1 247.8L846.3 246.6L846.5 238.9L846.7 238.5L846.9 239.3L847.1 247.6L847.3 240.0L847.6 246.8L847.8 239.4L848.0 250.9L848.2 243.3L848.4 234.2L848.6 231.6L848.8 237.1L849.1 244.6L849.3 234.1L849.5 232.0L849.7 236.6L849.9 240.7L850.1 237.7L850.3 225.6L850.5 236.4L850.8 231.2L851.0 235.3L851.2 231.0L851.4 231.6L851.6 242.8L851.8 231.6L852.0 236.3L852.3 220.5L852.5 223.0L852.7 223.1L852.9 235.4L853.1 229.0L853.3 230.3L853.5 230.4L853.8 222.9L854.0 230.3L854.2 229.4L854.4 223.2L854.6 230.8L854.8 228.5L855.0 236.5L855.3 226.7L855.5 223.4L855.7 228.5L855.9 227.4L856.1 224.9L856.3 225.9L856.5 224.2L856.7 234.9L857.0 229.9L857.2 222.4L857.4 229.6L857.6 227.7L857.8 228.4L858.0 222.0L858.2 226.5L858.5 218.8L858.7 228.4L858.9 227.1L859.1 220.0L859.3 222.0L859.5 235.9L859.7 225.8L860.0 228.1L860.2 233.3L860.4 227.5L860.6 221.0L860.8 235.4L861.0 226.4L861.2 228.6L861.5 216.6L861.7 216.9L861.9 233.2L862.1 231.6L862.3 227.5L862.5 237.5L862.7 227.6L862.9 231.0L863.2 231.6L863.4 229.4L863.6 219.9L863.8 233.8L864.0 232.9L864.2 240.3L864.4 236.9L864.7 231.9L864.9 235.6L865.1 235.3L865.3 237.5L865.5 239.6L865.7 240.8L865.9 233.9L866.2 237.0L866.4 244.4L866.6 234.9L866.8 235.3L867.0 240.0L867.2 241.5L867.4 233.8L867.7 247.7L867.9 240.4L868.1 238.2L868.3 249.9L868.5 248.3L868.7 243.0L868.9 247.9L869.1 252.3L869.4 249.9L869.6 252.5L869.8 249.0L870.0 252.8L870.2 248.3L870.4 255.4L870.6 253.1L870.9 251.8L871.1 250.5L871.3 259.6L871.5 257.9L871.7 259.1L871.9 251.4L872.1 255.5L872.4 261.7L872.6 259.7L872.8 259.9L873.0 262.5L873.2 255.8L873.4 271.5L873.6 254.9L873.9 258.3L874.1 262.1L874.3 268.8L874.5 276.2L874.7 265.7L874.9 262.2L875.1 268.0L875.4 265.7L875.6 272.9L875.8 269.5L876.0 274.0L876.2 278.1L876.4 283.4L876.6 281.2L876.8 277.1L877.1 277.9L877.3 280.1L877.5 282.6L877.7 281.2L877.9 283.4L878.1 284.8L878.3 289.9L878.6 288.0L878.8 291.1L879.0 295.6L879.2 291.9L879.4 300.1L879.6 296.9L879.8 304.2L880.1 302.3L880.3 293.5L880.5 291.4L880.7 299.5L880.9 305.0L881.1 314.8L881.3 307.2L881.6 304.6L881.8 308.5L882.0 312.5L882.2 307.8L882.4 315.1L882.6 312.3L882.8 316.3L883.0 318.3L883.3 309.3L883.5 312.2L883.7 316.9L883.9 326.5L884.1 319.4L884.3 323.0L884.5 322.8L884.8 321.9L885.0 334.1L885.2 328.7L885.4 330.4L885.6 330.6L885.8 332.6L886.0 337.2L886.3 331.8L886.5 343.1L886.7 329.9L886.9 336.9L887.1 340.6L887.3 350.6L887.5 352.3L887.8 354.3L888.0 348.3L888.2 348.5L888.4 349.1L888.6 353.1L888.8 356.1L889.0 367.0L889.2 361.0L889.5 357.1L889.7 362.8L889.9 357.5L890.1 364.5L890.3 360.0L890.5 361.1L890.7 380.8L891.0 373.3L891.2 365.6L891.4 367.2L891.6 375.7L891.8 375.5L892.0 373.9L892.2 373.0L892.5 374.9L892.7 386.9L892.9 387.2L893.1 390.3L893.3 389.2L893.5 384.9L893.7 388.5L894.0 391.2L894.2 393.6L894.4 385.1L894.6 393.8L894.8 400.7L895.0 397.7L895.2 402.6L895.4 404.6L895.7 406.9L895.9 418.4L896.1 414.3L896.3 410.3L896.5 418.4L896.7 417.6L896.9 422.0L897.2 426.0L897.4 417.2L897.6 420.4L897.8 428.1L898.0 421.6L898.2 415.5L898.4 423.8L898.7 427.5L898.9 435.4L899.1 427.7L899.3 428.6L899.5 441.3L899.7 437.0L899.9 431.5L900.2 438.3L900.4 451.3L900.6 440.4L900.8 442.0L901.0 443.3L901.2 446.6L901.4 443.3L901.6 446.4L901.9 439.6L902.1 451.1L902.3 451.4L902.5 454.5L902.7 461.0L902.9 457.8L903.1 459.3L903.4 470.3L903.6 451.2L903.8 462.4L904.0 461.2L904.2 464.9L904.4 468.2L904.6 466.9L904.9 463.8L905.1 468.7L905.3 476.1L905.5 471.8L905.7 473.4L905.9 481.5L906.1 478.5L906.4 479.4L906.6 483.9L906.8 483.0L907.0 488.1L907.2 491.0L907.4 490.7L907.6 494.5L907.8 479.5L908.1 487.4L908.3 494.1L908.5 501.7L908.7 492.4L908.9 493.0L909.1 506.8L909.3 502.4L909.6 495.7L909.8 501.0L910.0 496.8L910.2 508.9L910.4 509.2L910.6 511.5L910.8 515.1L911.1 516.6L911.3 512.4L911.5 503.7L911.7 515.6L911.9 514.8L912.1 527.9L912.3 517.2L912.6 521.3L912.8 524.9L913.0 530.7L913.2 517.9L913.4 520.2L913.6 528.2L913.8 531.2L914.0 528.2L914.3 534.3L914.5 539.7L914.7 536.6L914.9 525.6L915.1 541.5L915.3 535.3L915.5 537.3L915.8 544.2L916.0 533.0L916.2 528.8L916.4 537.7L916.6 540.8L916.8 537.4L917.0 539.3L917.3 556.7L917.5 542.5L917.7 545.9L917.9 546.1L918.1 544.8L918.3 549.5L918.5 549.1L918.8 555.8L919.0 556.6L919.2 554.0L919.4 556.1L919.6 547.9L919.8 550.2L920.0 557.1L920.2 554.2L920.5 560.3L920.7 566.5L920.9 560.1L921.1 562.1L921.3 559.1L921.5 562.7L921.7 564.0L922.0 563.9L922.2 559.9L922.4 564.7L922.6 566.2L922.8 561.6L923.0 574.3L923.2 580.5L923.5 571.5L923.7 566.8L923.9 577.8L924.1 576.6L924.3 566.5L924.5 575.2L924.7 569.8L925.0 573.9L925.2 574.4L925.4 572.8L925.6 583.5L925.8 573.6L926.0 580.9L926.2 579.2L926.4 583.9L926.7 579.0L926.9 573.7L927.1 572.5L927.3 574.1L927.5 580.5L927.7 581.9L927.9 583.1L928.2 588.5L928.4 569.9L928.6 577.4L928.8 577.0L929.0 583.2L929.2 583.5L929.4 583.2L929.7 583.1L929.9 591.7L930.1 584.0L930.3 582.9L930.5 591.8L930.7 580.3L930.9 588.1L931.2 579.9L931.4 587.0L931.6 588.7L931.8 588.5L932.0 587.6L932.2 584.7L932.4 591.7L932.7 582.7L932.9 589.8L933.1 591.0L933.3 584.0L933.5 594.7L933.7 584.1L933.9 587.4L934.1 586.3L934.4 588.7L934.6 589.3L934.8 584.6L935.0 583.5L935.2 590.4L935.4 586.4L935.6 583.4L935.9 588.9L936.1 583.4L936.3 588.5L936.5 577.4L936.7 585.5L936.9 587.2L937.1 585.2L937.4 591.9L937.6 591.2L937.8 591.2L938.0 581.0L938.2 581.1L938.4 584.8L938.6 594.6L938.9 593.8L939.1 586.2L939.3 574.9L939.5 577.3L939.7 578.9L939.9 590.2L940.1 583.8L940.3 589.1L940.6 582.3L940.8 573.5L941.0 574.8L941.2 587.3L941.4 581.0L941.6 578.9L941.8 584.4L942.1 573.3L942.3 583.5L942.5 577.4L942.7 574.7L942.9 577.8L943.1 585.7L943.3 577.3L943.6 571.0L943.8 579.2L944.0 583.8L944.2 574.2L944.4 573.4L944.6 577.0L944.8 570.8L945.1 568.2L945.3 563.1L945.5 573.4L945.7 570.2L945.9 569.3L946.1 568.2L946.3 562.3L946.5 567.6L946.8 569.6L947.0 555.3L947.2 574.8L947.4 569.1L947.6 559.6L947.8 568.1L948.0 552.6L948.3 560.5L948.5 552.4L948.7 554.8L948.9 562.1L949.1 554.7L949.3 542.6L949.5 555.3L949.8 554.3L950.0 560.4L950.2 545.6L950.4 549.7L950.6 552.3L950.8 547.1L951.0 545.9L951.3 546.4L951.5 537.2L951.7 555.7L951.9 543.4L952.1 540.9L952.3 542.8L952.5 538.8L952.7 533.1L953.0 539.3L953.2 533.6L953.4 528.4L953.6 540.2L953.8 533.7L954.0 529.2L954.2 519.0L954.5 522.7L954.7 535.5L954.9 522.3L955.1 536.1L955.3 524.2L955.5 515.7L955.7 525.2L956.0 519.6L956.2 521.5L956.4 524.5L956.6 517.8L956.8 510.7L957.0 520.4L957.2 510.4L957.5 512.0L957.7 519.4L957.9 511.0L958.1 504.5L958.3 505.9L958.5 494.7L958.7 501.5L958.9 504.0L959.2 506.1L959.4 496.7L959.6 494.4L959.8 493.8L960.0 498.7L960.2 498.1L960.4 495.9L960.7 485.9L960.9 489.0L961.1 490.8L961.3 490.2"/>
<path stroke="#2040ff" d="M191.6 397.2L191.8 395.9L192.0 389.1L192.2 392.3L192.5 391.5L192.7 388.3L192.9 386.0L193.1 387.7L193.3 384.8L193.5 387.6L193.7 384.7L194.0 383.7L194.2 384.7L194.4 383.9L194.6 383.0L194.8 378.2L195.0 376.8L195.2 375.9L195.4 373.7L195.7 376.0L195.9 371.6L196.1 369.6L196.3 367.0L196.5 369.9L196.7 367.6L196.9 370.5L197.2 365.4L197.4 368.6L197.6 365.4L197.8 357.7L198.0 365.0L198.2 356.2L198.4 356.2L198.7 356.7L198.9 353.5L199.1 352.2L199.3 349.7L199.5 351.8L199.7 351.6L199.9 350.5L200.2 350.4L200.4 346.8L200.6 347.6L200.8 341.7L201.0 348.2L201.2 345.1L201.4 343.6L201.6 345.4L201.9 334.1L202.1 344.1L202.3 337.5L202.5 337.1L202.7 330.4L202.9 338.7L203.1 329.8L203.4 333.4L203.6 330.9L203.8 331.2L204.0 326.8L204.2 330.3L204.4 326.6L204.6 324.4L204.9 319.6L205.1 329.5L205.3 318.4L205.5 318.9L205.7 321.6L205.9 318.6L206.1 319.6L206.4 313.2L206.6 316.0L206.8 316.1L207.0 315.2L207.2 314.2L207.4 313.2L207.6 314.1L207.8 305.6L208.1 314.9L208.3 315.5L208.5 308.5L208.7 307.7L208.9 305.5L209.1 306.1L209.3 305.1L209.6 303.0L209.8 300.5L210.0 303.3L210.2 302.3L210.4 295.5L210.6 298.3L210.8 301.4L211.1 292.1L211.3 295.2L211.5 297.9L211.7 298.7L211.9 294.1L212.1 296.2L212.3 296.0L212.6 295.9L212.8 293.1L213.0 288.2L213.2 291.5L213.4 293.4L213.6 287.2L213.8 288.0L214.0 285.3L214.3 283.7L214.5 286.6L214.7 285.8L214.9 284.9L215.1 287.0L215.3 281.8L215.5 279.3L215.8 281.7L216.0 282.2L216.2 281.6L216.4 282.3L216.6 281.8L216.8 280.2L217.0 280.7L217.3 279.1L217.5 281.5L217.7 276.0L217.9 276.2L218.1 278.7L218.3 281.2L218.5 274.7L218.8 271.4L219.0 275.6L219.2 274.5L219.4 274.2L219.6 270.6L219.8 274.1L220.0 268.8L220.2 271.7L220.5 268.1L220.7 269.9L220.9 270.2L221.1 273.0L221.3 270.6L221.5 269.1L221.7 266.4L222.0 267.0L222.2 269.1L222.4 265.9L222.6 264.1L222.8 266.7L223.0 267.1L223.2 266.7L223.5 263.3L223.7 263.7L223.9 267.2L224.1 263.6L224.3 265.5L224.5 266.0L224.7 260.6L225.0 261.5L225.2 265.3L225.4 263.0L225.6 261.7L225.8 264.5L226.0 263.0L226.2 260.8L226.5 266.9L226.7 261.4L226.9 260.2L227.1 260.7L227.3 265.3L227.5 261.0L227.7 263.9L227.9 260.2L228.2 260.0L228.4 261.0L228.6 263.5L228.8 263.0L229.0 259.3L229.2 263.8L229.4 260.2L229.7 260.2L229.9 262.3L230.1 255.4L230.3 261.5L230.5 256.2L230.7 267.0L230.9 267.7L231.2 259.5L231.4 260.5L231.6 263.1L231.8 262.5L232.0 267.4L232.2 264.3L232.4 265.6L232.7 263.7L232.9 261.0L233.1 263.4L233.3 262.8L233.5 265.8L233.7 265.3L233.9 264.2L234.1 265.5L234.4 261.8L234.6 267.6L234.8 260.8L235.0 268.5L235.2 263.6L235.4 268.7L235.6 262.8L235.9 267.1L236.1 266.8L236.3 266.3L236.5 270.2L236.7 271.7L236.9 274.7L237.1 266.8L237.4 272.1L237.6 272.3L237.8 271.4L238.0 266.7L238.2 276.7L238.4 272.2L238.6 274.4L238.9 272.5L239.1 279.0L239.3 276.0L239.5 273.4L239.7 272.1L239.9 272.7L240.1 279.6L240.3 277.8L240.6 278.9L240.8 282.8L241.0 283.6L241.2 278.6L241.4 280.6L241.6 282.3L241.8 279.5L242.1 285.9L242.3 282.7L242.5 284.8L242.7 285.7L242.9 285.1L243.1 286.6L243.3 287.2L243.6 288.0L243.8 284.5L244.0 291.1L244.2 288.5L244.4 290.4L244.6 293.7L244.8 291.6L245.1 296.7L245.3 292.4L245.5 298.3L245.7 298.4L245.9 297.2L246.1 296.8L246.3 297.5L246.5 298.5L246.8 302.3L247.0 305.1L247.2 302.2L247.4 303.8L247.6 308.0L247.8 304.1L248.0 307.0L248.3 311.0L248.5 308.4L248.7 314.0L248.9 313.9L249.1 311.6L249.3 317.7L249.5 314.7L249.8 319.3L250.0 315.0L250.2 319.8L250.4 318.6L250.6 324.0L250.8 322.1L251.0 319.9L251.3 322.3L251.5 329.3L251.7 323.4L251.9 324.6L252.1 329.0L252.3 325.5L252.5 333.0L252.7 331.7L253.0 329.8L253.2 330.4L253.4 331.7L253.6 339.0L253.8 341.9L254.0 337.6L254.2 343.5L254.5 341.3L254.7 345.5L254.9 340.7L255.1 342.6L255.3 344.4L255.5 347.1L255.7 348.2L256.0 350.3L256.2 349.8L256.4 351.4L256.6 352.2L256.8 355.7L257.0 351.0L257.2 356.4L257.5 354.8L257.7 356.2L257.9 363.2L258.1 366.6L258.3 360.3L258.5 365.8L258.7 365.9L258.9 368.0L259.2 368.3L259.4 373.0L259.6 371.5L259.8 373.7L260.0 373.9L260.2 381.2L260.4 374.4L260.7 376.9L260.9 383.5L261.1 382.3L261.3 381.6L261.5 381.4L261.7 384.3L261.9 382.1L262.2 386.9L262.4 390.9L262.6 391.3L262.8 389.0L263.0 393.8L263.2 391.4L263.4 392.3L263.7 394.7L263.9 394.9L264.1 399.3L264.3 400.2L264.5 403.0L264.7 404.4L264.9 408.1L265.1 406.8L265.4 409.5L265.6 411.7L265.8 409.0L266.0 409.5L266.2 412.9L266.4 409.8L266.6 412.2L266.9 413.2L267.1 418.8L267.3 422.3L267.5 418.4L267.7 420.3L267.9 420.5L268.1 422.6L268.4 421.7L268.6 427.0L268.8 425.8L269.0 431.1L269.2 436.0L269.4 432.5L269.6 428.8L269.9 438.3L270.1 432.6L270.3 438.2L270.5 438.8L270.7 438.9L270.9 439.7L271.1 444.0L271.3 442.4L271.6 442.9L271.8 443.1L272.0 448.4L272.2 443.7L272.4 444.1L272.6 444.0L272.8 454.9L273.1 452.2L273.3 458.6L273.5 454.1L273.7 454.8L273.9 460.4L274.1 462.7L274.3 459.4L274.6 459.4L274.8 464.3L275.0 464.1L275.2 471.0L275.4 467.6L275.6 466.6L275.8 467.7L276.1 465.2L276.3 473.3L276.5 477.3L276.7 471.5L276.9 475.4L277.1 474.2L277.3 474.2L277.5 475.7L277.8 474.6L278.0 476.0L278.2 484.8L278.4 481.8L278.6 477.6L278.8 484.9L279.0 482.4L279.3 486.1L279.5 488.1L279.7 484.1L279.9 486.5L280.1 490.9L280.3 489.0L280.5 495.7L280.8 495.2L281.0 492.1L281.2 495.3L281.4 499.2L281.6 496.3L281.8 497.6L282.0 496.2L282.3 498.0L282.5 502.2L282.7 503.7L282.9 503.8L283.1 505.0L283.3 501.6L283.5 502.2L283.8 503.8L284.0 507.2L284.2 509.7L284.4 507.7L284.6 511.9L284.8 511.3L285.0 517.1L285.2 514.8L285.5 510.9L285.7 518.1L285.9 520.2L286.1 517.7L286.3 513.8L286.5 515.2L286.7 520.7L287.0 521.9L287.2 521.8L287.4 524.7L287.6 523.1L287.8 524.7L288.0 528.6L288.2 527.1L288.5 527.0L288.7 529.4L288.9 530.8L289.1 526.4L289.3 524.6L289.5 531.0L289.7 532.1L290.0 530.4L290.2 533.0L290.4 535.2L290.6 530.3L290.8 537.3L291.0 537.2L291.2 537.7L291.4 539.0L291.7 538.0L291.9 536.5L292.1 535.0L292.3 537.6L292.5 539.9L292.7 543.8L292.9 541.4L293.2 544.3L293.4 542.7L293.6 540.6L293.8 543.1L294.0 544.8L294.2 546.8L294.4 545.4L294.7 545.7L294.9 548.9L295.1 548.3L295.3 545.3L295.5 552.3L295.7 549.7L295.9 552.1L296.2 545.6L296.4 548.5L296.6 549.2L296.8 550.0L297.0 550.7L297.2 551.2L297.4 556.4L297.6 552.1L297.9 551.7L298.1 557.3L298.3 551.9L298.5 552.7L298.7 558.7L298.9 556.3L299.1 556.3L299.4 557.2L299.6 555.2L299.8 559.8L300.0 557.4L300.2 556.5L300.4 555.6L300.6 557.6L300.9 558.6L301.1 556.5L301.3 563.6L301.5 556.3L301.7 559.8L301.9 562.4L302.1 560.5L302.4 564.3L302.6 565.1L302.8 560.8L303.0 562.1L303.2 558.4L303.4 562.7L303.6 563.9L303.8 563.2L304.1 556.4L304.3 560.9L304.5 562.6L304.7 563.6L304.9 564.0L305.1 561.6L305.3 560.2L305.6 558.3L305.8 558.4L306.0 560.6L306.2 563.0L306.4 563.5L306.6 567.2L306.8 563.9L307.1 560.1L307.3 562.0L307.5 560.1L307.7 564.5L307.9 558.6L308.1 560.0L308.3 560.6L308.6 559.5L308.8 566.1L309.0 561.7L309.2 562.4L309.4 555.2L309.6 560.2L309.8 560.8L310.0 557.1L310.3 561.8L310.5 555.2L310.7 560.4L310.9 558.5L311.1 560.4L311.3 555.7L311.5 563.0L311.8 555.4L312.0 558.9L312.2 556.4L312.4 559.1L312.6 555.2L312.8 554.9L313.0 553.5L313.3 553.8L313.5 552.6L313.7 551.2L313.9 554.4L314.1 555.9L314.3 555.7L314.5 550.2L314.8 552.5L315.0 548.3L315.2 550.4L315.4 552.6L315.6 547.1L315.8 543.9L316.0 548.8L316.2 550.2L316.5 549.4L316.7 544.4L316.9 547.6L317.1 546.5L317.3 543.1L317.5 544.2L317.7 543.2L318.0 544.3L318.2 543.9L318.4 541.1L318.6 540.5L318.8 538.6L319.0 540.7L319.2 537.8L319.5 536.8L319.7 537.0L319.9 535.0L320.1 533.1L320.3 534.4L320.5 533.9L320.7 535.8L321.0 531.7L321.2 532.0L321.4 531.7L321.6 532.2L321.8 527.7L322.0 521.9L322.2 526.3L322.4 526.4L322.7 524.6L322.9 526.3L323.1 523.6L323.3 524.7L323.5 523.7L323.7 520.5L323.9 519.5L324.2 519.5L324.4 520.2L324.6 516.6L324.8 519.0L325.0 513.3L325.2 515.1L325.4 513.2L325.7 510.2L325.9 509.8L326.1 513.5L326.3 509.7L326.5 507.1L326.7 509.8L326.9 512.1L327.2 505.0L327.4 503.9L327.6 501.6L327.8 501.3L328.0 500.1L328.2 498.7L328.4 494.7L328.6 495.8L328.9 494.6L329.1 495.8L329.3 490.8L329.5 493.0L329.7 489.4L329.9 495.6L330.1 488.4L330.4 488.1L330.6 487.8L330.8 482.1L331.0 483.2L331.2 483.4L331.4 483.2L331.6 475.8L331.9 477.5L332.1 476.5L332.3 478.9L332.5 472.4L332.7 473.0L332.9 473.9L333.1 472.2L333.4 474.9L333.6 467.8L333.8 471.0L334.0 464.8L334.2 466.8L334.4 466.0L334.6 462.2L334.8 461.3L335.1 463.5L335.3 459.5L335.5 456.5L335.7 457.4L335.9 458.9L336.1 454.8L336.3 455.3L336.6 453.0L336.8 450.1L337.0 449.1L337.2 448.2L337.4 450.6L337.6 444.1L337.8 444.2L338.1 443.4L338.3 440.7L338.5 434.8L338.7 441.8L338.9 441.3L339.1 433.9L339.3 436.5L339.6 429.9L339.8 434.4L340.0 431.8L340.2 427.1L340.4 425.6L340.6 425.5L340.8 424.1L341.1 424.3L341.3 423.8L341.5 421.9L341.7 416.8L341.9 416.9L342.1 417.3L342.3 415.3L342.5 412.6L342.8 410.4L343.0 412.5L343.2 411.0L343.4 408.7L343.6 401.8L343.8 406.3L344.0 402.4L344.3 408.2L344.5 400.8L344.7 405.3L344.9 403.2L345.1 400.7L345.3 398.2L345.5 396.1L345.8 394.3L346.0 393.4L346.2 393.8L346.4 385.0L346.6 389.1L346.8 387.2L347.0 382.4L347.3 383.9L347.5 383.6L347.7 383.0L347.9 377.8L348.1 384.0L348.3 382.5L348.5 378.4L348.7 382.7L349.0 378.3L349.2 372.2L349.4 375.0L349.6 372.2L349.8 369.6L350.0 373.1L350.2 368.3L350.5 369.3L350.7 369.3L350.9 366.0L351.1 364.3L351.3 364.0L351.5 363.4L351.7 358.1L352.0 356.4L352.2 356.8L352.4 357.3L352.6 358.5L352.8 356.8L353.0 356.4L353.2 351.9L353.5 348.9L353.7 347.8L353.9 349.0L354.1 348.8L354.3 346.3L354.5 345.3L354.7 343.0L354.9 339.6L355.2 344.0L355.4 335.8L355.6 345.4L355.8 343.5L356.0 341.7L356.2 339.4L356.4 336.3L356.7 329.4L356.9 335.4L357.1 329.8L357.3 332.4L357.5 330.1L357.7 332.0L357.9 322.6L358.2 327.5L358.4 327.9L358.6 319.6L358.8 323.9L359.0 322.3L359.2 322.7L359.4 323.5L359.7 324.0L359.9 319.8L360.1 314.3L360.3 316.4L360.5 317.0L360.7 312.9L360.9 317.0L361.1 310.2L361.4 312.8L361.6 314.0L361.8 309.2L362.0 308.7L362.2 310.0L362.4 307.7L362.6 304.8L362.9 302.9L363.1 307.7L363.3 311.1L363.5 298.6L363.7 303.7L363.9 303.2L364.1 300.2L364.4 301.6L364.6 297.0L364.8 302.0L365.0 298.6L365.2 300.4L365.4 292.6L365.6 296.3L365.9 292.1L366.1 290.6L366.3 296.4L366.5 293.1L366.7 290.0L366.9 291.0L367.1 290.7L367.3 287.5L367.6 286.6L367.8 289.7L368.0 287.8L368.2 285.2L368.4 285.6L368.6 285.1L368.8 287.6L369.1 279.7L369.3 284.1L369.5 282.1L369.7 282.3L369.9 281.4L370.1 280.6L370.3 282.5L370.6 278.8L370.8 276.1L371.0 277.5L371.2 276.1L371.4 276.2L371.6 276.8L371.8 271.7L372.1 277.5L372.3 274.3L372.5 272.1L372.7 273.5L372.9 276.4L373.1 276.0L373.3 268.8L373.5 274.7L373.8 271.8L374.0 270.0L374.2 270.7L374.4 275.0L374.6 274.9L374.8 269.9L375.0 271.2L375.3 269.5L375.5 268.2L375.7 267.6L375.9 271.1L376.1 271.6L376.3 264.6L376.5 268.2L376.8 269.3L377.0 271.1L377.2 264.3L377.4 268.6L377.6 267.8L377.8 263.2L378.0 263.8L378.3 262.9L378.5 267.3L378.7 270.2L378.9 266.1L379.1 264.2L379.3 264.9L379.5 260.7L379.7 261.9L380.0 265.3L380.2 261.1L380.4 262.7L380.6 263.5L380.8 259.2L381.0 266.2L381.2 259.2L381.5 259.0L381.7 267.0L381.9 262.1L382.1 262.0L382.3 264.4L382.5 263.0L382.7 263.6L383.0 261.3L383.2 262.9L383.4 267.0L383.6 258.5L383.8 259.3L384.0 263.7L384.2 259.4L384.5 256.6L384.7 265.8L384.9 263.0L385.1 263.3L385.3 260.7L385.5 263.0L385.7 266.0L385.9 259.3L386.2 263.6L386.4 261.0L386.6 257.2L386.8 265.2L387.0 264.6L387.2 261.4L387.4 264.3L387.7 262.9L387.9 264.5L388.1 258.3L388.3 263.4L388.5 264.5L388.7 265.3L388.9 265.0L389.2 270.5L389.4 267.4L389.6 265.1L389.8 270.5L390.0 267.7L390.2 268.4L390.4 269.9L390.7 262.6L390.9 267.6L391.1 269.0L391.3 272.4L391.5 270.6L391.7 272.1L391.9 272.0L392.1 271.7L392.4 266.4L392.6 269.9L392.8 269.5L393.0 270.9L393.2 268.6L393.4 277.3L393.6 279.5L393.9 276.2L394.1 276.7L394.3 277.9L394.5 280.2L394.7 277.5L394.9 275.5L395.1 280.0L395.4 281.8L395.6 278.9L395.8 283.4L396.0 284.3L396.2 283.3L396.4 290.7L396.6 280.7L396.9 286.6L397.1 285.8L397.3 287.1L397.5 287.6L397.7 292.9L397.9 285.7L398.1 289.6L398.3 291.1L398.6 286.3L398.8 296.9L399.0 292.6L399.2 295.6L399.4 300.1L399.6 292.1L399.8 302.0L400.1 298.6L400.3 300.1L400.5 300.3L400.7 304.1L400.9 299.2L401.1 303.0L401.3 307.9L401.6 308.7L401.8 305.9L402.0 310.5L402.2 307.4L402.4 308.7L402.6 312.1L402.8 316.6L403.1 316.0L403.3 312.8L403.5 316.1L403.7 311.0L403.9 318.0L404.1 317.0L404.3 317.3L404.6 319.9L404.8 320.4L405.0 319.7L405.2 323.8L405.4 323.7L405.6 326.6L405.8 321.7L406.0 327.6L406.3 327.0L406.5 336.7L406.7 332.7L406.9 335.5L407.1 333.7L407.3 336.1L407.5 338.9L407.8 338.1L408.0 336.5L408.2 337.0L408.4 342.3L408.6 339.5L408.8 345.0L409.0 343.0L409.3 348.1L409.5 344.4L409.7 342.4L409.9 350.3L410.1 347.7L410.3 355.8L410.5 354.9L410.8 348.2L411.0 356.0L411.2 355.8L411.4 362.6L411.6 359.7L411.8 362.9L412.0 359.1L412.2 364.9L412.5 358.4L412.7 368.9L412.9 366.5L413.1 373.8L413.3 371.0L413.5 368.1L413.7 372.8L414.0 377.2L414.2 373.9L414.4 374.0L414.6 376.6L414.8 376.5L415.0 384.0L415.2 377.0L415.5 381.2L415.7 389.7L415.9 380.8L416.1 388.2L416.3 387.0L416.5 394.7L416.7 392.5L417.0 396.9L417.2 391.4L417.4 395.5L417.6 398.6L417.8 398.5L418.0 395.9L418.2 402.1L418.4 400.0L418.7 405.8L418.9 408.4L419.1 406.7L419.3 407.5L419.5 407.6L419.7 406.9L419.9 411.7L420.2 412.9L420.4 411.3L420.6 413.5L420.8 416.0L421.0 416.6L421.2 424.1L421.4 421.2L421.7 425.2L421.9 423.3L422.1 421.4L422.3 429.3L422.5 423.9L422.7 429.0L422.9 429.4L423.2 431.3L423.4 429.6L423.6 434.4L423.8 439.3L424.0 434.4L424.2 436.9L424.4 436.1L424.6 437.5L424.9 443.4L425.1 441.0L425.3 442.5L425.5 444.2L425.7 445.0L425.9 445.7L426.1 449.2L426.4 449.3L426.6 447.7L426.8 454.1L427.0 452.8L427.2 456.5L427.4 457.8L427.6 457.3L427.9 457.0L428.1 454.8L428.3 460.4L428.5 458.7L428.7 460.9L428.9 463.2L429.1 471.0L429.4 465.4L429.6 466.8L429.8 470.8L430.0 468.9L430.2 466.6L430.4 474.5L430.6 474.0L430.8 471.5L431.1 479.6L431.3 478.7L431.5 476.5L431.7 475.9L431.9 476.3L432.1 478.6L432.3 475.7L432.6 481.7L432.8 487.1L433.0 485.4L433.2 484.4L433.4 486.1L433.6 493.1L433.8 488.2L434.1 492.3L434.3 491.8L434.5 488.6L434.7 493.8L434.9 496.1L435.1 495.7L435.3 498.1L435.6 492.2L435.8 496.3L436.0 497.1L436.2 502.2L436.4 503.1L436.6 501.8L436.8 509.0L437.0 501.7L437.3 508.6L437.5 506.0L437.7 506.4L437.9 510.2L438.1 508.2L438.3 508.3L438.5 506.1L438.8 510.9L439.0 508.1L439.2 512.5L439.4 515.1L439.6 513.3L439.8 517.7L440.0 516.8L440.3 516.5L440.5 516.0L440.7 519.1L440.9 524.4L441.1 518.2L441.3 521.9L441.5 523.9L441.8 526.0L442.0 523.3L442.2 524.7L442.4 524.6L442.6 527.5L442.8 524.0L443.0 529.4L443.2 528.4L443.5 529.7L443.7 528.3L443.9 533.5L444.1 533.2L444.3 533.7L444.5 535.6L444.7 536.3L445.0 538.4L445.2 534.1L445.4 532.9L445.6 539.9L445.8 536.1L446.0 541.6L446.2 541.4L446.5 540.8L446.7 540.3L446.9 540.1L447.1 546.8L447.3 545.8L447.5 542.9L447.7 544.3L448.0 538.8L448.2 545.5L448.4 547.1L448.6 542.9L448.8 552.9L449.0 551.8L449.2 541.1L449.4 549.7L449.7 548.4L449.9 549.6L450.1 551.9L450.3 550.4L450.5 553.9L450.7 548.6L450.9 549.5L451.2 550.2L451.4 554.7L451.6 557.7L451.8 554.4L452.0 556.4L452.2 553.0L452.4 558.5L452.7 557.1L452.9 554.8L453.1 554.4L453.3 555.6L453.5 559.4L453.7 558.3L453.9 551.7L454.2 554.7L454.4 559.5L454.6 552.8L454.8 558.3L455.0 558.3L455.2 560.6L455.4 554.9L455.6 558.7L455.9 559.4L456.1 561.8L456.3 562.9L456.5 559.4L456.7 560.0L456.9 556.2L457.1 562.7L457.4 561.4L457.6 558.1L457.8 558.6L458.0 562.6L458.2 557.2L458.4 559.8L458.6 558.8L458.9 560.3L459.1 558.7L459.3 562.4L459.5 561.9L459.7 558.5L459.9 560.3L460.1 560.4L460.4 558.4L460.6 560.7L460.8 560.2L461.0 566.9L461.2 562.5L461.4 559.0L461.6 563.3L461.9 561.7L462.1 560.2L462.3 561.0L462.5 558.3L462.7 559.2L462.9 560.7L463.1 557.3L463.3 560.8L463.6 561.5L463.8 558.7L464.0 557.7L464.2 559.5L464.4 561.6L464.6 559.9L464.8 557.7L465.1 556.3L465.3 553.2L465.5 557.9L465.7 557.7L465.9 562.3L466.1 553.2L466.3 553.8L466.6 555.8L466.8 557.2L467.0 561.4L467.2 552.8L467.4 556.2L467.6 549.9L467.8 551.4L468.1 549.6L468.3 552.8L468.5 549.0L468.7 555.1L468.9 547.3L469.1 550.6L469.3 553.0L469.5 550.5L469.8 551.4L470.0 547.7L470.2 549.7L470.4 550.5L470.6 547.6L470.8 546.7L471.0 544.9L471.3 543.1L471.5 541.0L471.7 542.5L471.9 538.7L472.1 548.6L472.3 541.7L472.5 538.5L472.8 543.5L473.0 540.0L473.2 538.2L473.4 542.0L473.6 538.7L473.8 535.0L474.0 536.5L474.3 531.0L474.5 528.1L474.7 533.5L474.9 535.5L475.1 531.8L475.3 532.3L475.5 533.7L475.7 530.2L476.0 529.5L476.2 528.4L476.4 524.2L476.6 523.0L476.8 523.7L477.0 524.8L477.2 521.9L477.5 522.0L477.7 520.5L477.9 522.6L478.1 525.6L478.3 516.0L478.5 518.8L478.7 517.5L479.0 515.3L479.2 514.4L479.4 514.0L479.6 508.3L479.8 510.9L480.0 509.6L480.2 511.4L480.5 508.3L480.7 505.8L480.9 506.1L481.1 504.0L481.3 506.2L481.5 501.7L481.7 504.2L481.9 501.6L482.2 501.3L482.4 497.8L482.6 494.3L482.8 495.2L483.0 497.1L483.2 493.3L483.4 489.9L483.7 489.5L483.9 488.9L484.1 491.9L484.3 489.2L484.5 488.4L484.7 486.7L484.9 483.6L485.2 482.9L485.4 482.7L485.6 479.2L485.8 481.2L486.0 479.0L486.2 476.7L486.4 479.2L486.7 476.7L486.9 476.8L487.1 474.7L487.3 471.1L487.5 469.8L487.7 467.4L487.9 466.1L488.1 468.6L488.4 459.7L488.6 459.7L488.8 465.0L489.0 462.4L489.2 460.5L489.4 457.5L489.6 455.2L489.9 455.4L490.1 460.6L490.3 446.4L490.5 449.4L490.7 448.2L490.9 450.9L491.1 447.4L491.4 444.0L491.6 446.2L491.8 440.8L492.0 442.2L492.2 437.1L492.4 439.7L492.6 434.7L492.9 441.2L493.1 432.2L493.3 433.4L493.5 434.2L493.7 429.1L493.9 431.2L494.1 427.2L494.3 425.5L494.6 423.9L494.8 419.7L495.0 420.5L495.2 416.3L495.4 419.5L495.6 419.6L495.8 417.7L496.1 417.5L496.3 419.2L496.5 414.4L496.7 416.5L496.9 412.9L497.1 411.6L497.3 410.9L497.6 410.9L497.8 406.6L498.0 405.7L498.2 400.8L498.4 401.4L498.6 399.3L498.8 401.6L499.1 399.9L499.3 401.0L499.5 398.8L499.7 393.4L499.9 394.5L500.1 393.1L500.3 392.8L500.5 386.2L500.8 389.0L501.0 384.7L501.2 386.4L501.4 382.6L501.6 386.3L501.8 386.0L502.0 378.5L502.3 380.8L502.5 378.1L502.7 375.3L502.9 374.5L503.1 374.4L503.3 376.9L503.5 374.4L503.8 371.3L504.0 368.5L504.2 367.6L504.4 366.8L504.6 368.5L504.8 365.3L505.0 361.7L505.3 365.2L505.5 363.2L505.7 358.3L505.9 355.3L506.1 357.2L506.3 357.0L506.5 358.3L506.7 355.0L507.0 355.6L507.2 352.0L507.4 349.4L507.6 349.0L507.8 345.7L508.0 350.4L508.2 349.9L508.5 342.1L508.7 341.8L508.9 345.8L509.1 341.9L509.3 343.9L509.5 340.1L509.7 338.2L510.0 335.4L510.2 339.3L510.4 339.0L510.6 333.2L510.8 334.5L511.0 329.0L511.2 334.4L511.5 332.1L511.7 335.9L511.9 325.5L512.1 324.0L512.3 325.3L512.5 326.1L512.7 329.5L512.9 326.8L513.2 323.7L513.4 316.5L513.6 318.1L513.8 320.9L514.0 317.3L514.2 316.1L514.4 315.2L514.7 317.9L514.9 315.7L515.1 311.1L515.3 311.0L515.5 312.7L515.7 304.7L515.9 309.3L516.2 310.1L516.4 305.9L516.6 305.3L516.8 306.8L517.0 301.0L517.2 302.0L517.4 303.8L517.7 301.2L517.9 300.4L518.1 302.0L518.3 298.6L518.5 301.0L518.7 299.4L518.9 296.3L519.2 300.4L519.4 297.3L519.6 298.1L519.8 293.0L520.0 295.6L520.2 288.7L520.4 288.6L520.6 293.6L520.9 290.7L521.1 291.2L521.3 289.6L521.5 287.2L521.7 284.4L521.9 281.9L522.1 282.1L522.4 289.3L522.6 286.6L522.8 285.2L523.0 284.9L523.2 283.1L523.4 281.2L523.6 283.3L523.9 283.0L524.1 274.9L524.3 278.6L524.5 274.2L524.7 280.6L524.9 275.0L525.1 273.7L525.4 274.0L525.6 278.8L525.8 274.9L526.0 277.7L526.2 278.1L526.4 274.7L526.6 272.9L526.8 274.2L527.1 273.5L527.3 271.1L527.5 274.0L527.7 270.7L527.9 269.3L528.1 269.2L528.3 269.0L528.6 272.6L528.8 270.3L529.0 270.3L529.2 267.0L529.4 272.9L529.6 267.7L529.8 271.7L530.1 265.6L530.3 268.3L530.5 266.5L530.7 263.9L530.9 261.6L531.1 268.2L531.3 265.1L531.6 270.0L531.8 265.3L532.0 266.3L532.2 262.6L532.4 264.3L532.6 263.5L532.8 266.4L533.0 264.2L533.3 266.0L533.5 262.9L533.7 266.8L533.9 262.0L534.1 259.7L534.3 255.9L534.5 258.3L534.8 258.7L535.0 259.9L535.2 257.8L535.4 261.9L535.6 260.7L535.8 266.4L536.0 262.8L536.3 258.6L536.5 265.8L536.7 260.6L536.9 261.6L537.1 262.4L537.3 260.6L537.5 261.4L537.8 264.4L538.0 261.8L538.2 266.2L538.4 257.9L538.6 261.8L538.8 259.6L539.0 264.3L539.2 257.4L539.5 259.6L539.7 261.5L539.9 262.0L540.1 261.7L540.3 264.7L540.5 263.4L540.7 263.8L541.0 262.5L541.2 259.8L541.4 261.0L541.6 263.5L541.8 262.8L542.0 265.5L542.2 266.2L542.5 269.4L542.7 268.9L542.9 269.0L543.1 266.5L543.3 267.1L543.5 265.9L543.7 264.4L544.0 266.0L544.2 268.5L544.4 269.7L544.6 269.7L544.8 267.9L545.0 272.2L545.2 274.1L545.4 271.3L545.7 268.6L545.9 268.7L546.1 270.7L546.3 277.7L546.5 273.7L546.7 272.0L546.9 271.6L547.2 270.3L547.4 277.9L547.6 275.2L547.8 280.7L548.0 277.9L548.2 278.9L548.4 276.5L548.7 278.8L548.9 284.3L549.1 280.9L549.3 280.3L549.5 278.2L549.7 284.5L549.9 285.5L550.2 285.6L550.4 282.2L550.6 286.3L550.8 286.1L551.0 285.9L551.2 289.9L551.4 285.9L551.6 293.6L551.9 285.6L552.1 292.8L552.3 294.2L552.5 294.6L552.7 296.6L552.9 296.7L553.1 297.4L553.4 299.2L553.6 297.6L553.8 297.2L554.0 300.4L554.2 299.4L554.4 302.9L554.6 301.1L554.9 303.5L555.1 306.4L555.3 304.3L555.5 306.0L555.7 308.2L555.9 307.7L556.1 307.2L556.4 312.7L556.6 311.9L556.8 310.0L557.0 312.7L557.2 311.7L557.4 308.6L557.6 319.0L557.8 316.0L558.1 318.9L558.3 315.4L558.5 318.7L558.7 324.8L558.9 319.6L559.1 323.4L559.3 325.4L559.6 325.7L559.8 326.3L560.0 330.2L560.2 330.1L560.4 326.8L560.6 334.1L560.8 334.2L561.1 331.8L561.3 337.4L561.5 336.7L561.7 336.6L561.9 340.9L562.1 340.6L562.3 343.3L562.6 342.7L562.8 342.7L563.0 344.6L563.2 345.2L563.4 346.1L563.6 346.3L563.8 352.3L564.0 350.5L564.3 348.0L564.5 353.9L564.7 355.3L564.9 355.8L565.1 359.0L565.3 357.0L565.5 359.7L565.8 361.4L566.0 360.3L566.2 360.4L566.4 368.4L566.6 367.4L566.8 368.1L567.0 372.3L567.3 368.2L567.5 365.9L567.7 370.5L567.9 370.6L568.1 380.2L568.3 377.6L568.5 381.2L568.8 377.1L569.0 380.7L569.2 382.2L569.4 381.8L569.6 382.4L569.8 381.5L570.0 383.5L570.2 385.9L570.5 393.8L570.7 387.7L570.9 392.0L571.1 397.5L571.3 394.5L571.5 396.8L571.7 397.8L572.0 396.4L572.2 403.6L572.4 399.8L572.6 399.7L572.8 407.0L573.0 401.8L573.2 408.4L573.5 409.9L573.7 407.0L573.9 410.7L574.1 416.7L574.3 414.9L574.5 412.8L574.7 417.3L575.0 418.4L575.2 418.5L575.4 419.8L575.6 422.9L575.8 424.8L576.0 422.6L576.2 421.8L576.5 432.7L576.7 426.5L576.9 426.3L577.1 432.4L577.3 427.7L577.5 436.5L577.7 431.5L577.9 431.1L578.2 432.5L578.4 444.2L578.6 438.9L578.8 442.8L579.0 440.5L579.2 439.2L579.4 443.0L579.7 441.1L579.9 450.8L580.1 449.9L580.3 450.3L580.5 448.5L580.7 448.3L580.9 454.8L581.2 456.2L581.4 452.8L581.6 459.7L581.8 456.0L582.0 460.8L582.2 460.1L582.4 455.8L582.7 462.9L582.9 463.3L583.1 466.7L583.3 464.3L583.5 463.0L583.7 466.5L583.9 472.6L584.1 469.5L584.4 467.6L584.6 475.2L584.8 474.2L585.0 477.3L585.2 477.6L585.4 479.8L585.6 481.8L585.9 478.2L586.1 480.7L586.3 487.2L586.5 485.4L586.7 485.7L586.9 487.7L587.1 485.6L587.4 487.6L587.6 487.2L587.8 492.7L588.0 492.2L588.2 492.4L588.4 493.3L588.6 494.3L588.9 496.4L589.1 495.7L589.3 492.2L589.5 499.4L589.7 502.7L589.9 498.7L590.1 502.8L590.3 499.4L590.6 499.8L590.8 499.1L591.0 504.0L591.2 509.7L591.4 502.2L591.6 504.9L591.8 504.9L592.1 508.9L592.3 510.9L592.5 510.9L592.7 516.6L592.9 510.3L593.1 515.3L593.3 516.2L593.6 514.5L593.8 518.6L594.0 515.2L594.2 519.7L594.4 512.9L594.6 516.6L594.8 518.9L595.1 520.6L595.3 522.2L595.5 524.4L595.7 528.9L595.9 526.2L596.1 527.6L596.3 527.6L596.5 526.9L596.8 532.7L597.0 531.9L597.2 531.2L597.4 531.4L597.6 528.6L597.8 525.3L598.0 532.8L598.3 531.5L598.5 533.9L598.7 533.9L598.9 530.8L599.1 535.5L599.3 535.2L599.5 537.2L599.8 539.6L600.0 535.9L600.2 539.7L600.4 536.2L600.6 543.4L600.8 540.0L601.0 537.5L601.3 544.0L601.5 542.1L601.7 539.8L601.9 543.1L602.1 546.8L602.3 546.2L602.5 545.1L602.7 548.0L603.0 548.1L603.2 547.2L603.4 551.2L603.6 544.3L603.8 550.6L604.0 549.6L604.2 549.8L604.5 546.9L604.7 551.9L604.9 546.2L605.1 547.1L605.3 550.4L605.5 556.2L605.7 556.5L606.0 554.2L606.2 553.2L606.4 552.7L606.6 551.6L606.8 553.9L607.0 555.3L607.2 554.8L607.5 561.3L607.7 553.5L607.9 560.7L608.1 562.1L608.3 559.2L608.5 558.8L608.7 561.1L608.9 558.8L609.2 558.2L609.4 557.1L609.6 557.9L609.8 560.5L610.0 559.1L610.2 556.3L610.4 560.4L610.7 560.3L610.9 565.6L611.1 559.5L611.3 555.2L611.5 558.6L611.7 561.2L611.9 557.6L612.2 557.7L612.4 557.5L612.6 564.0L612.8 564.1L613.0 559.3L613.2 559.8L613.4 560.1L613.7 565.0L613.9 559.3L614.1 556.3L614.3 558.2L614.5 554.9L614.7 560.0L614.9 560.8L615.1 556.4L615.4 558.4L615.6 566.8L615.8 564.8L616.0 560.1L616.2 561.9L616.4 555.9L616.6 556.3L616.9 556.9L617.1 560.8L617.3 560.4L617.5 557.6L617.7 560.3L617.9 557.5L618.1 558.2L618.4 556.8L618.6 558.2L618.8 560.2L619.0 564.5L619.2 561.2L619.4 561.2L619.6 555.4L619.9 560.5L620.1 557.9L620.3 554.8L620.5 554.0L620.7 552.7L620.9 553.8L621.1 550.6L621.3 555.7L621.6 550.7L621.8 556.8L622.0 554.0L622.2 551.4L622.4 550.4L622.6 552.2L622.8 552.7L623.1 553.7L623.3 555.9L623.5 554.5L623.7 544.7L623.9 553.0L624.1 551.9L624.3 551.5L624.6 547.4L624.8 546.8L625.0 547.0L625.2 548.2L625.4 544.6L625.6 547.2L625.8 542.0L626.1 538.4L626.3 544.0L626.5 540.3L626.7 541.5L626.9 540.5L627.1 542.2L627.3 537.8L627.5 537.3L627.8 533.2L628.0 529.5L628.2 537.7L628.4 531.3L628.6 535.5L628.8 533.9L629.0 534.8L629.3 529.6L629.5 526.9L629.7 529.5L629.9 527.8L630.1 529.6L630.3 527.4L630.5 529.1L630.8 525.0L631.0 529.2L631.2 517.1L631.4 518.8L631.6 522.6L631.8 521.4L632.0 520.3L632.3 517.9L632.5 516.6L632.7 511.4L632.9 516.5L633.1 519.2L633.3 512.6L633.5 511.2L633.7 513.4L634.0 508.1L634.2 509.6L634.4 510.1L634.6 507.3L634.8 509.3L635.0 505.9L635.2 499.4L635.5 499.6L635.7 500.0L635.9 500.2L636.1 498.6L636.3 501.3L636.5 496.7L636.7 497.8L637.0 496.4L637.2 489.6L637.4 494.4L637.6 491.2L637.8 490.0L638.0 486.4L638.2 488.5L638.5 485.4L638.7 484.5L638.9 484.7L639.1 484.6L639.3 484.5L639.5 477.8L639.7 481.6L640.0 475.2L640.2 472.6L640.4 477.2L640.6 477.0L640.8 475.8L641.0 473.3L641.2 467.3L641.4 471.5L641.7 471.0L641.9 471.2L642.1 465.4L642.3 463.3L642.5 459.2L642.7 461.2L642.9 460.7L643.2 459.4L643.4 451.6L643.6 452.6L643.8 453.1L644.0 455.0L644.2 453.3L644.4 451.8L644.7 450.5L644.9 447.7L645.1 449.4L645.3 441.5L645.5 447.5L645.7 442.0L645.9 440.4L646.2 438.6L646.4 436.2L646.6 437.6L646.8 436.6L647.0 432.0L647.2 431.1L647.4 433.2L647.6 429.6L647.9 433.6L648.1 428.2L648.3 433.3L648.5 423.4L648.7 426.9L648.9 421.5L649.1 421.4L649.4 422.8L649.6 417.8L649.8 414.4L650.0 419.6L650.2 411.1L650.4 413.7L650.6 415.7L650.9 412.7L651.1 409.8L651.3 407.6L651.5 410.2L651.7 407.8L651.9 404.3L652.1 403.5L652.4 397.8L652.6 399.5L652.8 398.0L653.0 401.3L653.2 400.0L653.4 399.1L653.6 395.3L653.8 392.3L654.1 388.2L654.3 388.8L654.5 392.1L654.7 388.9L654.9 381.9L655.1 385.9L655.3 383.6L655.6 387.2L655.8 386.0L656.0 382.4L656.2 380.6L656.4 377.3L656.6 377.7L656.8 380.6L657.1 368.7L657.3 372.7L657.5 376.8L657.7 366.9L657.9 367.9L658.1 369.3L658.3 367.5L658.6 365.1L658.8 371.1L659.0 361.4L659.2 362.1L659.4 359.9L659.6 361.9L659.8 360.8L660.0 354.0L660.3 363.5L660.5 352.6L660.7 351.6L660.9 357.5L661.1 352.8L661.3 352.9L661.5 351.4L661.8 352.1L662.0 351.1L662.2 346.4L662.4 346.2L662.6 342.9L662.8 341.3L663.0 343.5L663.3 335.6L663.5 335.7L663.7 342.8L663.9 338.2L664.1 337.6L664.3 334.5L664.5 337.1L664.8 329.4L665.0 333.4L665.2 325.9L665.4 332.3L665.6 324.3L665.8 327.2L666.0 324.9L666.2 325.4L666.5 324.3L666.7 326.8L666.9 323.7L667.1 324.1L667.3 321.8L667.5 321.2L667.7 317.3L668.0 317.6L668.2 318.1L668.4 320.9L668.6 313.0L668.8 316.4L669.0 314.6L669.2 311.5L669.5 311.9L669.7 310.6L669.9 309.7L670.1 313.8L670.3 306.3L670.5 307.8L670.7 304.4L671.0 305.3L671.2 305.7L671.4 300.1L671.6 302.6L671.8 299.5L672.0 299.7L672.2 298.3L672.4 296.9L672.7 297.2L672.9 300.3L673.1 297.8L673.3 292.9L673.5 295.9L673.7 295.7L673.9 293.9L674.2 290.8L674.4 294.6L674.6 291.9L674.8 292.2L675.0 292.0L675.2 287.7L675.4 290.3L675.7 288.0L675.9 286.5L676.1 285.6L676.3 284.8L676.5 283.5L676.7 286.6L676.9 290.2L677.2 281.2L677.4 278.5L677.6 283.1L677.8 281.4L678.0 278.7L678.2 282.3L678.4 279.8L678.6 280.2L678.9 277.1L679.1 277.7L679.3 273.2L679.5 279.1L679.7 278.0L679.9 279.3L680.1 274.6L680.4 274.9L680.6 274.7L680.8 272.1L681.0 275.6L681.2 276.3L681.4 266.8L681.6 271.7L681.9 273.7L682.1 268.2L682.3 270.0L682.5 272.3L682.7 268.7L682.9 266.5L683.1 266.9L683.4 268.6L683.6 263.7L683.8 269.8L684.0 267.7L684.2 265.7L684.4 269.1L684.6 264.5L684.8 264.9L685.1 263.1L685.3 264.5L685.5 260.0L685.7 268.1L685.9 265.4L686.1 265.5L686.3 263.9L686.6 262.1L686.8 266.2L687.0 260.8L687.2 260.2L687.4 262.6L687.6 266.2L687.8 261.0L688.1 261.3L688.3 264.6L688.5 263.9L688.7 263.3L688.9 265.5L689.1 260.8L689.3 258.9L689.6 260.7L689.8 263.3L690.0 261.6L690.2 261.5L690.4 256.7L690.6 262.5L690.8 260.1L691.0 262.1L691.3 258.4L691.5 263.4L691.7 260.1L691.9 262.4L692.1 260.0L692.3 265.2L692.5 261.9L692.8 259.0L693.0 260.2L693.2 264.7L693.4 255.8L693.6 261.1L693.8 263.1L694.0 263.5L694.3 265.1L694.5 259.1L694.7 259.9L694.9 259.7L695.1 266.2L695.3 268.6L695.5 269.6L695.8 268.1L696.0 266.1L696.2 268.0L696.4 269.5L696.6 264.3L696.8 267.7L697.0 265.5L697.3 263.6L697.5 269.1L697.7 268.7L697.9 264.6L698.1 272.0L698.3 269.8L698.5 271.9L698.7 270.0L699.0 271.5L699.2 269.9L699.4 272.1L699.6 268.3L699.8 273.8L700.0 272.6L700.2 271.2L700.5 275.7L700.7 275.6L700.9 274.8L701.1 276.1L701.3 273.6L701.5 278.1L701.7 280.7L702.0 275.8L702.2 280.2L702.4 280.3L702.6 280.0L702.8 277.1L703.0 278.6L703.2 280.9L703.5 281.4L703.7 283.8L703.9 279.1L704.1 281.5L704.3 287.0L704.5 283.3L704.7 289.8L704.9 289.2L705.2 289.7L705.4 284.7L705.6 284.5L705.8 290.3L706.0 292.4L706.2 288.6L706.4 294.2L706.7 289.6L706.9 297.0L707.1 292.9L707.3 298.3L707.5 292.7L707.7 297.7L707.9 300.6L708.2 299.6L708.4 306.9L708.6 301.6L708.8 301.0L709.0 297.7L709.2 307.4L709.4 302.5L709.7 303.3L709.9 305.7L710.1 309.4L710.3 309.2L710.5 312.7L710.7 310.9L710.9 315.6L711.1 315.0L711.4 314.5L711.6 318.1L711.8 320.2L712.0 318.2L712.2 318.3L712.4 318.5L712.6 320.2L712.9 318.1L713.1 323.6L713.3 321.2L713.5 328.3L713.7 325.2L713.9 326.1L714.1 324.4L714.4 331.9L714.6 326.7L714.8 332.9L715.0 334.9L715.2 339.2L715.4 333.8L715.6 338.8L715.9 336.4L716.1 339.3L716.3 338.9L716.5 342.0L716.7 345.2L716.9 345.7L717.1 345.9L717.3 346.0L717.6 350.3L717.8 347.2L718.0 356.0L718.2 355.4L718.4 351.6L718.6 353.7L718.8 350.6L719.1 354.4L719.3 360.9L719.5 362.4L719.7 360.9L719.9 362.4L720.1 361.6L720.3 366.1L720.6 367.9L720.8 369.3L721.0 368.7L721.2 372.1L721.4 371.6L721.6 370.6L721.8 374.3L722.1 378.0L722.3 375.1L722.5 375.8L722.7 381.3L722.9 381.4L723.1 385.8L723.3 385.7L723.5 387.3L723.8 389.2L724.0 388.7L724.2 383.4L724.4 386.7L724.6 392.1L724.8 391.2L725.0 393.4L725.3 394.6L725.5 401.4L725.7 398.0L725.9 401.9L726.1 401.4L726.3 401.8L726.5 409.2L726.8 410.5L727.0 404.4L727.2 403.3L727.4 405.8L727.6 412.4L727.8 411.8L728.0 410.4L728.3 413.9L728.5 420.4L728.7 414.0L728.9 419.0L729.1 418.7L729.3 424.5L729.5 424.2L729.7 419.4L730.0 425.0L730.2 423.8L730.4 422.1L730.6 427.5L730.8 428.8L731.0 430.9L731.2 429.3L731.5 431.8L731.7 432.9L731.9 431.2L732.1 435.2L732.3 434.6L732.5 441.3L732.7 441.0L733.0 439.8L733.2 444.9L733.4 447.8L733.6 445.5L733.8 447.9L734.0 446.8L734.2 444.9L734.5 451.4L734.7 454.3L734.9 453.5L735.1 455.4L735.3 456.5L735.5 453.4L735.7 456.1L735.9 457.7L736.2 460.6L736.4 458.6L736.6 462.5L736.8 459.0L737.0 464.6L737.2 466.0L737.4 465.2L737.7 462.6L737.9 473.9L738.1 469.3L738.3 474.8L738.5 477.0L738.7 475.0L738.9 472.8L739.2 480.5L739.4 478.4L739.6 473.7L739.8 476.2L740.0 481.5L740.2 480.0L740.4 482.6L740.7 485.4L740.9 487.1L741.1 482.8L741.3 488.9L741.5 488.6L741.7 490.6L741.9 494.2L742.1 491.9L742.4 487.5L742.6 496.1L742.8 494.7L743.0 492.4L743.2 495.3L743.4 497.6L743.6 497.0L743.9 498.8L744.1 500.7L744.3 503.7L744.5 503.7L744.7 508.0L744.9 504.1L745.1 506.0L745.4 508.0L745.6 511.5L745.8 509.7L746.0 514.0L746.2 508.6L746.4 514.2L746.6 509.7L746.9 515.2L747.1 512.1L747.3 513.3L747.5 513.4L747.7 517.3L747.9 522.4L748.1 517.2L748.3 520.8L748.6 524.0L748.8 523.7L749.0 520.9L749.2 520.8L749.4 522.4L749.6 522.2L749.8 522.1L750.1 526.6L750.3 526.5L750.5 527.9L750.7 528.8L750.9 529.2L751.1 529.1L751.3 531.6L751.6 530.8L751.8 529.5L752.0 533.3L752.2 531.9L752.4 536.3L752.6 536.9L752.8 531.0L753.1 536.5L753.3 533.6L753.5 542.6L753.7 544.3L753.9 538.9L754.1 540.1L754.3 546.1L754.6 538.9L754.8 539.7L755.0 543.8L755.2 541.1L755.4 541.6L755.6 543.6L755.8 545.9L756.0 543.3L756.3 546.7L756.5 547.4L756.7 550.2L756.9 546.9L757.1 544.5L757.3 549.5L757.5 550.1L757.8 552.6L758.0 550.3L758.2 548.0L758.4 551.1L758.6 549.6L758.8 548.8L759.0 554.3L759.3 554.0L759.5 551.3L759.7 554.1L759.9 556.5L760.1 554.1L760.3 553.5L760.5 552.1L760.8 557.5L761.0 554.8L761.2 554.7L761.4 562.6L761.6 554.7L761.8 557.2L762.0 561.5L762.2 552.9L762.5 556.7L762.7 557.4L762.9 552.3L763.1 555.9L763.3 561.5L763.5 559.1L763.7 554.9L764.0 556.3L764.2 555.7L764.4 560.0L764.6 557.1L764.8 561.9L765.0 560.9L765.2 559.0L765.5 561.1L765.7 559.3L765.9 561.4L766.1 560.3L766.3 555.7L766.5 559.7L766.7 558.4L767.0 565.1L767.2 562.9L767.4 559.0L767.6 565.7L767.8 562.5L768.0 562.3L768.2 558.4L768.4 566.0L768.7 562.8L768.9 561.3L769.1 561.0L769.3 565.5L769.5 558.0L769.7 559.3L769.9 557.6L770.2 559.3L770.4 559.0L770.6 561.2L770.8 561.1L771.0 563.4L771.2 558.9L771.4 563.0L771.7 556.7L771.9 558.1L772.1 560.8L772.3 558.5L772.5 562.9L772.7 561.1L772.9 560.0L773.2 561.6L773.4 559.2L773.6 557.9L773.8 558.7L774.0 558.9L774.2 559.4L774.4 561.1L774.6 554.1L774.9 556.3L775.1 551.6L775.3 557.4L775.5 555.3L775.7 551.8L775.9 549.4L776.1 550.1L776.4 549.9L776.6 555.3L776.8 549.8L777.0 545.9L777.2 555.8L777.4 548.8L777.6 543.3L777.9 551.4L778.1 547.3L778.3 542.3L778.5 545.4L778.7 545.8L778.9 543.4L779.1 545.5L779.4 542.4L779.6 544.1L779.8 540.8L780.0 544.6L780.2 542.0L780.4 540.6L780.6 546.1L780.8 537.2L781.1 539.8L781.3 539.7L781.5 541.0L781.7 536.9L781.9 538.3L782.1 533.4L782.3 530.1L782.6 534.7L782.8 534.5L783.0 532.2L783.2 531.7L783.4 528.9L783.6 534.6L783.8 527.1L784.1 527.7L784.3 528.2L784.5 529.9L784.7 522.6L784.9 521.1L785.1 522.3L785.3 520.3L785.6 519.0L785.8 519.8L786.0 517.2L786.2 521.0L786.4 515.2L786.6 522.7L786.8 512.4L787.0 510.2L787.3 510.3L787.5 514.5L787.7 512.0L787.9 508.8L788.1 511.4L788.3 507.1L788.5 507.2L788.8 502.1L789.0 506.1L789.2 505.2L789.4 501.2L789.6 498.9L789.8 501.4L790.0 503.0L790.3 501.7L790.5 501.3L790.7 495.8L790.9 497.6L791.1 493.8L791.3 496.3L791.5 492.2L791.8 488.9L792.0 491.9L792.2 485.0L792.4 486.6L792.6 487.6L792.8 485.2L793.0 483.3L793.2 484.1L793.5 482.2L793.7 478.8L793.9 483.2L794.1 470.6L794.3 473.5L794.5 471.3L794.7 467.4L795.0 470.2L795.2 470.9L795.4 469.8L795.6 466.8L795.8 463.3L796.0 468.0L796.2 459.9L796.5 464.1L796.7 464.7L796.9 457.2L797.1 460.7L797.3 456.2L797.5 460.3L797.7 453.6L798.0 455.5L798.2 449.8L798.4 455.7L798.6 452.1L798.8 451.6L799.0 447.1L799.2 449.0L799.4 446.0L799.7 443.9L799.9 443.6L800.1 440.8L800.3 439.1L800.5 442.7L800.7 434.6L800.9 438.8L801.2 436.7L801.4 428.8L801.6 433.8L801.8 431.1L802.0 427.5L802.2 429.7L802.4 427.0L802.7 426.2L802.9 424.6L803.1 425.8L803.3 418.7L803.5 420.1L803.7 417.2L803.9 417.4L804.2 417.8L804.4 411.9L804.6 415.5L804.8 409.7L805.0 412.9L805.2 411.5L805.4 408.1L805.6 401.0L805.9 403.3L806.1 404.1L806.3 402.0L806.5 398.8L806.7 401.7L806.9 404.1L807.1 400.6L807.4 396.8L807.6 397.2L807.8 394.7L808.0 389.0L808.2 392.2L808.4 391.8L808.6 388.9L808.9 384.5L809.1 382.0L809.3 383.4L809.5 384.6L809.7 383.8L809.9 384.3L810.1 381.7L810.4 376.5L810.6 376.1L810.8 375.6L811.0 377.8L811.2 374.1L811.4 374.5L811.6 367.6L811.8 370.2L812.1 369.3L812.3 367.9L812.5 366.6L812.7 365.2L812.9 365.6L813.1 362.3L813.3 361.7L813.6 358.4L813.8 358.1L814.0 356.6L814.2 358.4L814.4 355.9L814.6 360.5L814.8 355.9L815.1 353.5L815.3 357.5L815.5 347.2L815.7 346.6L815.9 347.5L816.1 340.7L816.3 349.7L816.6 344.4L816.8 343.1L817.0 343.6L817.2 337.4L817.4 337.3L817.6 337.8L817.8 340.4L818.1 336.3L818.3 335.7L818.5 333.4L818.7 337.4L818.9 335.3L819.1 328.8L819.3 330.4L819.5 329.7L819.8 328.6L820.0 333.8L820.2 322.7L820.4 329.3L820.6 327.6L820.8 322.0L821.0 318.9L821.3 318.4L821.5 321.8L821.7 321.6L821.9 316.9L822.1 317.0L822.3 321.2L822.5 312.2L822.8 319.7L823.0 312.8L823.2 312.0L823.4 310.0L823.6 310.7L823.8 307.9L824.0 308.4L824.3 310.6L824.5 309.0L824.7 302.9L824.9 310.6L825.1 303.0L825.3 305.5L825.5 307.6L825.7 304.5L826.0 300.2L826.2 306.9L826.4 297.4L826.6 295.7L826.8 299.2L827.0 298.2L827.2 296.4L827.5 293.4L827.7 297.6L827.9 295.4L828.1 292.5L828.3 296.5L828.5 291.1L828.7 291.3L829.0 288.4L829.2 292.6L829.4 289.1L829.6 287.3L829.8 287.5L830.0 289.6L830.2 283.3L830.5 285.8L830.7 284.5L830.9 284.1L831.1 281.8L831.3 282.7L831.5 284.0L831.7 279.5L831.9 281.2L832.2 280.1L832.4 279.3L832.6 282.2L832.8 278.4L833.0 277.2L833.2 281.2L833.4 277.7L833.7 276.5L833.9 274.0L834.1 276.1L834.3 274.6L834.5 272.6L834.7 276.9L834.9 275.2L835.2 273.5L835.4 270.4L835.6 268.4L835.8 271.1L836.0 271.2L836.2 271.7L836.4 269.8L836.7 265.3L836.9 269.6L837.1 270.2L837.3 264.4L837.5 268.4L837.7 268.2L837.9 269.5L838.1 264.3L838.4 267.2L838.6 271.1L838.8 271.5L839.0 264.9L839.2 266.8L839.4 263.9L839.6 263.5L839.9 260.7L840.1 260.7L840.3 266.9L840.5 264.6L840.7 265.7L840.9 261.2L841.1 267.0L841.4 261.4L841.6 267.3L841.8 260.0L842.0 259.6L842.2 266.6L842.4 262.2L842.6 263.7L842.9 266.3L843.1 259.5L843.3 263.9L843.5 259.1L843.7 260.5L843.9 256.9L844.1 262.8L844.3 259.4L844.6 261.0L844.8 262.5L845.0 258.8L845.2 261.4L845.4 262.7L845.6 261.1L845.8 265.0L846.1 258.9L846.3 257.4L846.5 265.7L846.7 261.6L846.9 263.0L847.1 264.0L847.3 260.2L847.6 258.0L847.8 261.8L848.0 263.5L848.2 258.5L848.4 264.0L848.6 265.1L848.8 265.1L849.1 261.4L849.3 263.8L849.5 263.9L849.7 266.1L849.9 263.9L850.1 265.2L850.3 260.8L850.5 265.8L850.8 268.6L851.0 262.0L851.2 266.0L851.4 267.1L851.6 266.2L851.8 267.7L852.0 273.8L852.3 268.7L852.5 265.8L852.7 267.1L852.9 271.9L853.1 271.2L853.3 269.6L853.5 266.0L853.8 270.9L854.0 271.7L854.2 274.3L854.4 274.4L854.6 275.2L854.8 274.5L855.0 277.5L855.3 276.6L855.5 279.1L855.7 273.9L855.9 275.7L856.1 278.4L856.3 279.3L856.5 277.3L856.7 279.5L857.0 281.8L857.2 287.7L857.4 286.8L857.6 281.0L857.8 283.9L858.0 286.1L858.2 289.5L858.5 283.9L858.7 289.4L858.9 286.8L859.1 288.1L859.3 290.1L859.5 292.5L859.7 289.5L860.0 294.7L860.2 293.5L860.4 293.1L860.6 290.7L860.8 295.6L861.0 295.1L861.2 294.7L861.5 303.4L861.7 300.5L861.9 299.9L862.1 301.8L862.3 298.7L862.5 303.1L862.7 301.2L862.9 301.3L863.2 305.4L863.4 304.7L863.6 302.9L863.8 305.2L864.0 308.5L864.2 314.0L864.4 312.4L864.7 311.9L864.9 311.9L865.1 313.3L865.3 314.8L865.5 318.5L865.7 315.4L865.9 315.6L866.2 319.2L866.4 320.0L866.6 319.2L866.8 323.4L867.0 322.5L867.2 322.1L867.4 327.5L867.7 327.1L867.9 330.1L868.1 332.0L868.3 335.2L868.5 330.7L868.7 326.3L868.9 334.7L869.1 331.0L869.4 333.5L869.6 338.4L869.8 336.2L870.0 340.9L870.2 346.4L870.4 339.9L870.6 344.1L870.9 345.1L871.1 344.0L871.3 344.5L871.5 348.8L871.7 348.8L871.9 349.9L872.1 354.2L872.4 351.3L872.6 356.0L872.8 354.8L873.0 354.7L873.2 355.8L873.4 364.6L873.6 362.7L873.9 363.0L874.1 365.5L874.3 365.1L874.5 366.3L874.7 367.1L874.9 362.7L875.1 369.3L875.4 371.1L875.6 374.5L875.8 374.4L876.0 375.7L876.2 374.8L876.4 380.9L876.6 379.6L876.8 383.1L877.1 386.0L877.3 381.1L877.5 384.8L877.7 384.7L877.9 382.7L878.1 384.5L878.3 389.8L878.6 390.0L878.8 393.5L879.0 394.1L879.2 398.8L879.4 394.2L879.6 397.2L879.8 396.2L880.1 395.4L880.3 403.6L880.5 402.3L880.7 404.6L880.9 402.2L881.1 407.3L881.3 403.6L881.6 403.3L881.8 405.3L882.0 406.8L882.2 412.3L882.4 414.4L882.6 419.4L882.8 416.6L883.0 422.6L883.3 422.2L883.5 417.9L883.7 419.8L883.9 426.4L884.1 419.2L884.3 429.0L884.5 430.3L884.8 425.0L885.0 425.9L885.2 431.8L885.4 431.0L885.6 437.9L885.8 433.1L886.0 437.8L886.3 435.1L886.5 440.5L886.7 441.4L886.9 439.6L887.1 441.0L887.3 444.9L887.5 449.0L887.8 445.6L888.0 444.1L888.2 446.9L888.4 453.6L888.6 451.1L888.8 451.9L889.0 449.8L889.2 455.4L889.5 456.9L889.7 453.3L889.9 461.8L890.1 461.6L890.3 463.5L890.5 459.3L890.7 465.3L891.0 462.9L891.2 467.7L891.4 463.2L891.6 466.7L891.8 470.9L892.0 468.7L892.2 470.7L892.5 472.6L892.7 476.2L892.9 470.0L893.1 475.8L893.3 478.1L893.5 477.9L893.7 479.5L894.0 483.6L894.2 478.8L894.4 486.7L894.6 481.5L894.8 489.7L895.0 489.5L895.2 484.0L895.4 491.9L895.7 489.1L895.9 489.5L896.1 487.8L896.3 487.8L896.5 491.1L896.7 493.0L896.9 492.4L897.2 493.8L897.4 501.5L897.6 496.8L897.8 501.6L898.0 494.0L898.2 498.3L898.4 504.2L898.7 498.6L898.9 506.7L899.1 503.8L899.3 509.4L899.5 508.1L899.7 507.5L899.9 512.5L900.2 508.5L900.4 508.2L900.6 507.7L900.8 510.0L901.0 512.6L901.2 512.4L901.4 517.5L901.6 517.6L901.9 513.6L902.1 520.9L902.3 520.3L902.5 517.5L902.7 520.9L902.9 524.6L903.1 523.9L903.4 524.9L903.6 527.1L903.8 526.2L904.0 523.6L904.2 527.8L904.4 526.6L904.6 529.6L904.9 529.2L905.1 527.7L905.3 529.2L905.5 531.5L905.7 532.4L905.9 529.6L906.1 534.1L906.4 537.6L906.6 532.8L906.8 533.5L907.0 536.3L907.2 538.1L907.4 533.9L907.6 534.7L907.8 537.6L908.1 539.3L908.3 538.1L908.5 536.1L908.7 542.8L908.9 539.6L909.1 547.7L909.3 544.4L909.6 542.0L909.8 543.8L910.0 547.8L910.2 543.3L910.4 544.1L910.6 544.5L910.8 547.9L911.1 548.0L911.3 548.5L911.5 547.8L911.7 548.8L911.9 549.8L912.1 548.2L912.3 547.6L912.6 550.6L912.8 548.1L913.0 556.2L913.2 545.9L913.4 555.0L913.6 554.2L913.8 552.4L914.0 551.3L914.3 553.8L914.5 558.8L914.7 556.0L914.9 558.5L915.1 553.5L915.3 557.2L915.5 562.6L915.8 558.7L916.0 556.4L916.2 560.2L916.4 556.5L916.6 562.2L916.8 558.9L917.0 556.0L917.3 558.6L917.5 561.5L917.7 561.1L917.9 556.8L918.1 557.8L918.3 558.9L918.5 558.0L918.8 560.3L919.0 560.2L919.2 560.7L919.4 561.7L919.6 557.8L919.8 563.2L920.0 555.2L920.2 558.9L920.5 561.7L920.7 557.4L920.9 556.8L921.1 560.4L921.3 564.3L921.5 561.0L921.7 561.2L922.0 562.8L922.2 564.9L922.4 563.6L922.6 560.8L922.8 561.6L923.0 558.7L923.2 564.2L923.5 559.3L923.7 562.9L923.9 559.6L924.1 560.1L924.3 556.8L924.5 558.9L924.7 560.9L925.0 559.6L925.2 563.6L925.4 559.6L925.6 558.1L925.8 558.5L926.0 560.3L926.2 558.0L926.4 557.8L926.7 557.3L926.9 560.3L927.1 555.7L927.3 557.4L927.5 560.0L927.7 557.2L927.9 553.5L928.2 552.1L928.4 556.5L928.6 557.3L928.8 555.8L929.0 552.8L929.2 550.7L929.4 553.3L929.7 553.9L929.9 549.2L930.1 551.3L930.3 553.9L930.5 552.1L930.7 548.6L930.9 551.3L931.2 549.9L931.4 551.2L931.6 547.5L931.8 544.6L932.0 544.7L932.2 548.2L932.4 549.5L932.7 542.3L932.9 543.6L933.1 548.7L933.3 540.5L933.5 544.7L933.7 544.4L933.9 542.2L934.1 545.0L934.4 543.6L934.6 536.5L934.8 540.1L935.0 537.5L935.2 534.6L935.4 536.3L935.6 536.7L935.9 534.2L936.1 530.7L936.3 532.8L936.5 534.3L936.7 527.5L936.9 528.0L937.1 533.8L937.4 529.1L937.6 523.1L937.8 531.9L938.0 530.9L938.2 524.7L938.4 526.9L938.6 528.7L938.9 520.0L939.1 523.2L939.3 520.9L939.5 517.9L939.7 519.4L939.9 521.4L940.1 512.4L940.3 514.6L940.6 516.1L940.8 516.1L941.0 517.7L941.2 511.4L941.4 515.4L941.6 506.5L941.8 515.0L942.1 506.8L942.3 510.7L942.5 509.5L942.7 504.0L942.9 504.5L943.1 501.8L943.3 505.4L943.6 501.9L943.8 501.3L944.0 498.6L944.2 495.9L944.4 497.4L944.6 498.3L944.8 494.5L945.1 497.9L945.3 494.0L945.5 488.1L945.7 491.5L945.9 486.7L946.1 488.8L946.3 488.9L946.5 485.0L946.8 482.9L947.0 483.3L947.2 481.1L947.4 476.3L947.6 479.3L947.8 477.2L948.0 478.9L948.3 473.6L948.5 476.3L948.7 472.7L948.9 473.2L949.1 469.0L949.3 468.1L949.5 465.5L949.8 466.7L950.0 464.0L950.2 459.6L950.4 465.4L950.6 464.2L950.8 458.4L951.0 458.9L951.3 457.7L951.5 462.9L951.7 455.9L951.9 451.7L952.1 451.5L952.3 451.4L952.5 450.6L952.7 450.7L953.0 448.7L953.2 446.2L953.4 449.8L953.6 440.4L953.8 445.4L954.0 437.9L954.2 437.8L954.5 440.5L954.7 437.9L954.9 435.0L955.1 431.8L955.3 435.5L955.5 430.7L955.7 428.8L956.0 429.8L956.2 427.0L956.4 427.7L956.6 426.3L956.8 426.6L957.0 425.0L957.2 419.5L957.5 418.8L957.7 417.4L957.9 418.8L958.1 415.2L958.3 412.5L958.5 416.7L958.7 414.9L958.9 413.7L959.2 409.3L959.4 407.9L959.6 402.2L959.8 403.1L960.0 410.7L960.2 402.5L960.4 402.8L960.7 398.1L960.9 402.1L961.1 401.8L961.3 399.2"/>
<path stroke="#008c00" d="M191.6 335.2L191.8 335.7L192.0 331.5L192.2 337.4L192.5 333.8L192.7 335.0L192.9 334.3L193.1 331.7L193.3 329.6L193.5 328.1L193.7 326.9L194.0 321.1L194.2 324.1L194.4 330.1L194.6 324.1L194.8 325.6L195.0 324.4L195.2 318.4L195.4 321.8L195.7 325.9L195.9 318.6L196.1 319.4L196.3 321.1L196.5 319.5L196.7 317.8L196.9 315.3L197.2 315.6L197.4 313.4L197.6 307.6L197.8 314.3L198.0 313.5L198.2 311.1L198.4 306.5L198.7 310.8L198.9 304.0L199.1 311.0L199.3 309.5L199.5 305.9L199.7 307.5L199.9 306.0L200.2 302.3L200.4 300.8L200.6 301.8L200.8 302.2L201.0 296.9L201.2 298.9L201.4 300.0L201.6 295.2L201.9 300.5L202.1 296.8L202.3 294.8L202.5 296.0L202.7 297.0L202.9 293.7L203.1 295.6L203.4 295.1L203.6 295.7L203.8 288.5L204.0 293.2L204.2 287.8L204.4 289.4L204.6 290.6L204.9 287.4L205.1 288.0L205.3 287.8L205.5 291.6L205.7 286.9L205.9 284.0L206.1 284.7L206.4 282.7L206.6 280.8L206.8 283.4L207.0 278.5L207.2 287.9L207.4 283.8L207.6 289.8L207.8 279.9L208.1 281.5L208.3 276.5L208.5 281.9L208.7 286.2L208.9 276.4L209.1 283.5L209.3 282.9L209.6 279.4L209.8 276.7L210.0 279.6L210.2 277.3L210.4 282.8L210.6 272.2L210.8 277.0L211.1 276.1L211.3 274.5L211.5 275.4L211.7 275.0L211.9 277.9L212.1 275.3L212.3 273.5L212.6 271.6L212.8 274.6L213.0 273.8L213.2 272.9L213.4 272.0L213.6 272.8L213.8 273.9L214.0 274.5L214.3 269.7L214.5 271.9L214.7 272.5L214.9 265.3L215.1 269.8L215.3 269.7L215.5 271.6L215.8 274.8L216.0 268.6L216.2 272.0L216.4 271.5L216.6 268.7L216.8 268.7L217.0 270.9L217.3 271.5L217.5 265.5L217.7 269.9L217.9 274.4L218.1 269.4L218.3 271.1L218.5 271.5L218.8 269.7L219.0 271.0L219.2 266.1L219.4 271.2L219.6 271.2L219.8 268.7L220.0 273.7L220.2 269.4L220.5 272.6L220.7 269.2L220.9 275.1L221.1 271.7L221.3 277.6L221.5 274.5L221.7 273.4L222.0 272.2L222.2 268.3L222.4 268.9L222.6 278.1L222.8 276.8L223.0 271.3L223.2 273.9L223.5 279.3L223.7 274.4L223.9 279.3L224.1 278.8L224.3 280.3L224.5 277.8L224.7 271.0L225.0 276.7L225.2 278.5L225.4 271.5L225.6 280.3L225.8 279.8L226.0 280.5L226.2 279.0L226.5 281.6L226.7 277.0L226.9 282.4L227.1 280.5L227.3 281.9L227.5 285.5L227.7 286.4L227.9 284.3L228.2 291.2L228.4 285.2L228.6 285.5L228.8 285.9L229.0 287.1L229.2 286.5L229.4 289.1L229.7 286.9L229.9 293.9L230.1 287.4L230.3 293.1L230.5 289.8L230.7 293.2L230.9 293.8L231.2 295.5L231.4 290.1L231.6 297.7L231.8 298.8L232.0 295.4L232.2 296.1L232.4 297.4L232.7 301.0L232.9 300.9L233.1 297.3L233.3 303.5L233.5 299.7L233.7 300.1L233.9 302.6L234.1 307.2L234.4 299.2L234.6 305.1L234.8 305.8L235.0 308.2L235.2 310.7L235.4 309.6L235.6 309.2L235.9 313.0L236.1 311.2L236.3 309.2L236.5 312.1L236.7 314.6L236.9 312.3L237.1 313.6L237.4 314.6L237.6 320.3L237.8 324.2L238.0 317.7L238.2 320.8L238.4 323.0L238.6 321.6L238.9 325.2L239.1 326.7L239.3 320.8L239.5 331.5L239.7 325.6L239.9 326.2L240.1 325.0L240.3 330.4L240.6 330.7L240.8 335.8L241.0 334.2L241.2 341.3L241.4 338.0L241.6 337.6L241.8 338.9L242.1 341.0L242.3 337.5L242.5 346.4L242.7 342.6L242.9 345.2L243.1 345.1L243.3 346.2L243.6 342.0L243.8 351.6L244.0 345.9L244.2 346.9L244.4 352.4L244.6 354.9L244.8 357.8L245.1 357.9L245.3 350.8L245.5 363.9L245.7 357.7L245.9 362.1L246.1 355.9L246.3 361.6L246.5 367.5L246.8 366.3L247.0 365.5L247.2 366.9L247.4 371.1L247.6 370.4L247.8 372.1L248.0 370.6L248.3 372.4L248.5 373.7L248.7 377.2L248.9 374.6L249.1 379.6L249.3 381.6L249.5 381.6L249.8 382.5L250.0 383.7L250.2 389.5L250.4 381.4L250.6 384.7L250.8 384.0L251.0 390.0L251.3 388.0L251.5 390.8L251.7 392.5L251.9 388.7L252.1 396.7L252.3 394.6L252.5 402.3L252.7 397.1L253.0 400.3L253.2 403.9L253.4 404.0L253.6 409.5L253.8 407.7L254.0 405.5L254.2 414.3L254.5 405.3L254.7 406.8L254.9 412.9L255.1 416.2L255.3 417.1L255.5 418.0L255.7 417.7L256.0 410.7L256.2 421.2L256.4 417.1L256.6 416.9L256.8 424.3L257.0 423.5L257.2 422.1L257.5 427.0L257.7 422.8L257.9 421.4L258.1 428.8L258.3 432.2L258.5 429.4L258.7 431.3L258.9 435.5L259.2 435.0L259.4 435.5L259.6 435.5L259.8 434.8L260.0 440.6L260.2 444.0L260.4 446.1L260.7 437.4L260.9 445.0L261.1 446.1L261.3 439.1L261.5 444.0L261.7 441.9L261.9 449.9L262.2 452.5L262.4 453.1L262.6 450.9L262.8 452.7L263.0 453.8L263.2 449.7L263.4 453.3L263.7 461.3L263.9 458.1L264.1 458.7L264.3 463.6L264.5 456.0L264.7 461.0L264.9 460.4L265.1 467.3L265.4 470.0L265.6 465.7L265.8 469.5L266.0 471.6L266.2 471.2L266.4 471.4L266.6 472.6L266.9 474.6L267.1 473.7L267.3 469.0L267.5 473.7L267.7 479.5L267.9 473.3L268.1 481.4L268.4 485.4L268.6 485.9L268.8 488.8L269.0 480.7L269.2 488.0L269.4 489.9L269.6 488.4L269.9 488.4L270.1 492.2L270.3 491.3L270.5 490.6L270.7 489.7L270.9 495.1L271.1 491.7L271.3 493.5L271.6 493.6L271.8 497.5L272.0 500.2L272.2 495.1L272.4 497.0L272.6 501.4L272.8 502.6L273.1 499.3L273.3 496.4L273.5 501.9L273.7 496.7L273.9 503.7L274.1 504.5L274.3 504.9L274.6 504.0L274.8 512.2L275.0 508.2L275.2 505.9L275.4 514.7L275.6 510.3L275.8 509.7L276.1 507.7L276.3 508.9L276.5 514.2L276.7 508.9L276.9 518.7L277.1 520.3L277.3 513.2L277.5 515.8L277.8 521.7L278.0 516.0L278.2 517.4L278.4 518.5L278.6 522.5L278.8 525.5L279.0 527.4L279.3 523.8L279.5 524.3L279.7 526.0L279.9 526.7L280.1 523.1L280.3 529.6L280.5 529.1L280.8 522.0L281.0 530.0L281.2 530.6L281.4 526.4L281.6 535.1L281.8 525.9L282.0 534.7L282.3 534.0L282.5 535.9L282.7 535.5L282.9 535.4L283.1 531.1L283.3 534.5L283.5 530.9L283.8 533.1L284.0 539.3L284.2 536.2L284.4 538.5L284.6 538.4L284.8 537.3L285.0 537.0L285.2 537.3L285.5 545.0L285.7 539.8L285.9 541.1L286.1 534.9L286.3 541.3L286.5 541.1L286.7 541.3L287.0 539.5L287.2 545.3L287.4 542.8L287.6 543.1L287.8 543.1L288.0 544.1L288.2 545.2L288.5 543.7L288.7 548.1L288.9 539.9L289.1 544.9L289.3 550.3L289.5 546.2L289.7 542.9L290.0 546.4L290.2 546.5L290.4 552.8L290.6 542.4L290.8 546.5L291.0 552.5L291.2 548.3L291.4 543.0L291.7 546.2L291.9 551.7L292.1 549.2L292.3 547.0L292.5 541.9L292.7 547.2L292.9 545.9L293.2 549.0L293.4 548.0L293.6 551.1L293.8 552.0L294.0 552.2L294.2 550.0L294.4 544.8L294.7 548.5L294.9 544.9L295.1 546.1L295.3 547.9L295.5 549.7L295.7 542.1L295.9 544.9L296.2 544.6L296.4 540.9L296.6 543.6L296.8 547.2L297.0 546.6L297.2 546.0L297.4 541.0L297.6 550.2L297.9 552.4L298.1 548.4L298.3 546.8L298.5 548.3L298.7 543.8L298.9 544.5L299.1 546.1L299.4 545.5L299.6 540.0L299.8 539.5L300.0 540.0L300.2 545.7L300.4 540.9L300.6 547.4L300.9 549.0L301.1 538.6L301.3 540.6L301.5 540.8L301.7 538.3L301.9 537.3L302.1 540.8L302.4 540.5L302.6 539.1L302.8 538.0L303.0 539.5L303.2 543.4L303.4 532.1L303.6 540.8L303.8 539.9L304.1 536.0L304.3 537.4L304.5 535.2L304.7 529.3L304.9 531.6L305.1 536.5L305.3 533.7L305.6 534.2L305.8 529.9L306.0 535.5L306.2 535.0L306.4 536.5L306.6 529.6L306.8 529.4L307.1 527.8L307.3 526.8L307.5 532.0L307.7 529.0L307.9 530.3L308.1 523.0L308.3 523.4L308.6 529.3L308.8 522.9L309.0 523.4L309.2 522.6L309.4 520.2L309.6 523.2L309.8 521.6L310.0 521.9L310.3 521.1L310.5 521.4L310.7 514.3L310.9 515.1L311.1 516.7L311.3 519.8L311.5 507.8L311.8 513.4L312.0 512.0L312.2 509.9L312.4 506.0L312.6 510.8L312.8 515.8L313.0 509.1L313.3 507.4L313.5 508.0L313.7 501.3L313.9 505.8L314.1 502.7L314.3 505.0L314.5 499.5L314.8 502.7L315.0 497.4L315.2 498.4L315.4 497.4L315.6 495.9L315.8 500.4L316.0 496.1L316.2 493.2L316.5 493.9L316.7 488.4L316.9 488.2L317.1 491.8L317.3 485.3L317.5 488.2L317.7 485.0L318.0 482.0L318.2 487.6L318.4 485.7L318.6 482.4L318.8 481.9L319.0 484.9L319.2 477.1L319.5 477.4L319.7 476.2L319.9 474.8L320.1 472.5L320.3 475.8L320.5 471.4L320.7 472.4L321.0 471.4L321.2 471.4L321.4 464.3L321.6 473.6L321.8 467.5L322.0 462.3L322.2 464.1L322.4 463.8L322.7 457.8L322.9 462.3L323.1 459.3L323.3 456.1L323.5 457.6L323.7 456.4L323.9 453.6L324.2 449.8L324.4 454.0L324.6 448.7L324.8 449.2L325.0 448.8L325.2 450.4L325.4 440.5L325.7 442.6L325.9 442.2L326.1 442.7L326.3 436.0L326.5 441.2L326.7 441.0L326.9 439.2L327.2 435.9L327.4 433.6L327.6 439.0L327.8 431.3L328.0 430.1L328.2 426.6L328.4 429.4L328.6 423.0L328.9 420.3L329.1 426.3L329.3 424.3L329.5 419.5L329.7 417.7L329.9 419.9L330.1 415.4L330.4 421.9L330.6 413.6L330.8 413.8L331.0 411.3L331.2 411.2L331.4 409.5L331.6 411.5L331.9 405.0L332.1 413.7L332.3 405.8L332.5 407.2L332.7 398.6L332.9 406.2L333.1 401.4L333.4 400.6L333.6 397.1L333.8 398.2L334.0 400.0L334.2 396.2L334.4 391.3L334.6 391.3L334.8 394.3L335.1 394.6L335.3 393.5L335.5 389.0L335.7 388.0L335.9 387.4L336.1 386.7L336.3 383.5L336.6 379.1L336.8 378.9L337.0 381.8L337.2 377.2L337.4 379.0L337.6 373.5L337.8 373.1L338.1 372.2L338.3 367.4L338.5 369.6L338.7 368.9L338.9 366.4L339.1 372.2L339.3 369.0L339.6 368.0L339.8 363.4L340.0 364.7L340.2 367.2L340.4 364.8L340.6 362.1L340.8 361.7L341.1 360.6L341.3 362.4L341.5 356.8L341.7 359.8L341.9 356.2L342.1 355.8L342.3 353.8L342.5 347.8L342.8 352.1L343.0 351.0L343.2 355.9L343.4 350.3L343.6 346.0L343.8 346.6L344.0 342.4L344.3 344.5L344.5 340.4L344.7 340.9L344.9 337.6L345.1 340.5L345.3 336.2L345.5 339.1L345.8 339.0L346.0 332.6L346.2 338.8L346.4 336.5L346.6 328.3L346.8 331.5L347.0 330.0L347.3 329.5L347.5 329.3L347.7 322.7L347.9 327.2L348.1 322.4L348.3 325.6L348.5 326.6L348.7 324.5L349.0 322.7L349.2 315.0L349.4 322.8L349.6 319.0L349.8 323.8L350.0 316.9L350.2 318.1L350.5 315.7L350.7 315.7L350.9 316.5L351.1 314.2L351.3 313.5L351.5 309.8L351.7 312.1L352.0 311.5L352.2 314.0L352.4 307.0L352.6 309.2L352.8 310.6L353.0 303.8L353.2 303.8L353.5 305.8L353.7 304.8L353.9 308.0L354.1 310.2L354.3 302.4L354.5 306.3L354.7 299.5L354.9 301.6L355.2 299.3L355.4 300.8L355.6 297.4L355.8 295.7L356.0 296.9L356.2 294.4L356.4 293.8L356.7 295.7L356.9 299.5L357.1 292.2L357.3 295.1L357.5 295.7L357.7 297.4L357.9 296.6L358.2 287.2L358.4 285.4L358.6 286.0L358.8 283.5L359.0 294.1L359.2 286.0L359.4 291.6L359.7 291.3L359.9 284.8L360.1 283.4L360.3 288.1L360.5 289.7L360.7 289.0L360.9 284.6L361.1 281.1L361.4 277.4L361.6 281.4L361.8 285.1L362.0 284.8L362.2 281.2L362.4 279.1L362.6 286.2L362.9 279.3L363.1 281.5L363.3 276.9L363.5 283.7L363.7 275.8L363.9 274.1L364.1 273.8L364.4 273.1L364.6 276.8L364.8 276.5L365.0 279.7L365.2 276.3L365.4 278.2L365.6 273.9L365.9 273.2L366.1 275.5L366.3 270.3L366.5 278.4L366.7 275.9L366.9 269.2L367.1 274.6L367.3 271.7L367.6 280.5L367.8 269.0L368.0 275.0L368.2 274.8L368.4 269.9L368.6 272.4L368.8 277.4L369.1 268.5L369.3 274.9L369.5 273.1L369.7 273.8L369.9 273.2L370.1 273.0L370.3 272.8L370.6 273.0L370.8 264.5L371.0 270.8L371.2 269.9L371.4 273.3L371.6 266.5L371.8 270.0L372.1 271.3L372.3 273.2L372.5 269.4L372.7 276.6L372.9 273.7L373.1 272.8L373.3 270.9L373.5 271.6L373.8 276.2L374.0 270.5L374.2 273.6L374.4 273.9L374.6 272.2L374.8 273.7L375.0 274.2L375.3 274.2L375.5 271.4L375.7 273.4L375.9 273.1L376.1 275.8L376.3 270.9L376.5 274.1L376.8 276.8L377.0 271.9L377.2 279.1L377.4 277.5L377.6 273.5L377.8 277.4L378.0 277.3L378.3 277.8L378.5 277.1L378.7 276.1L378.9 276.1L379.1 280.1L379.3 280.0L379.5 284.6L379.7 280.8L380.0 278.5L380.2 280.2L380.4 277.4L380.6 282.0L380.8 280.9L381.0 279.7L381.2 285.9L381.5 279.3L381.7 287.5L381.9 284.9L382.1 289.9L382.3 286.1L382.5 288.6L382.7 283.7L383.0 292.7L383.2 286.2L383.4 287.1L383.6 287.2L383.8 286.6L384.0 287.7L384.2 293.2L384.5 289.6L384.7 294.0L384.9 294.5L385.1 294.1L385.3 295.4L385.5 296.4L385.7 292.5L385.9 295.9L386.2 302.2L386.4 299.8L386.6 299.8L386.8 292.7L387.0 299.2L387.2 302.1L387.4 300.2L387.7 308.7L387.9 298.8L388.1 304.8L388.3 307.4L388.5 303.2L388.7 308.6L388.9 310.3L389.2 305.8L389.4 303.4L389.6 310.8L389.8 310.9L390.0 312.0L390.2 311.4L390.4 314.6L390.7 314.0L390.9 317.5L391.1 316.6L391.3 314.8L391.5 322.4L391.7 317.0L391.9 315.2L392.1 322.9L392.4 323.1L392.6 322.7L392.8 324.1L393.0 328.0L393.2 323.7L393.4 325.2L393.6 325.2L393.9 327.1L394.1 331.8L394.3 331.6L394.5 333.9L394.7 326.1L394.9 335.4L395.1 332.9L395.4 332.3L395.6 337.9L395.8 338.0L396.0 338.6L396.2 336.3L396.4 345.3L396.6 342.2L396.9 342.9L397.1 344.0L397.3 348.6L397.5 344.9L397.7 347.3L397.9 352.5L398.1 353.8L398.3 346.5L398.6 354.9L398.8 358.7L399.0 354.3L399.2 359.7L399.4 357.9L399.6 357.6L399.8 362.7L400.1 365.2L400.3 357.3L400.5 367.3L400.7 368.1L400.9 366.1L401.1 366.0L401.3 368.7L401.6 372.1L401.8 368.3L402.0 375.1L402.2 375.5L402.4 372.5L402.6 372.8L402.8 375.5L403.1 375.5L403.3 378.1L403.5 378.2L403.7 383.6L403.9 384.9L404.1 382.5L404.3 382.5L404.6 387.6L404.8 389.8L405.0 389.3L405.2 387.1L405.4 391.6L405.6 393.3L405.8 394.2L406.0 395.8L406.3 394.8L406.5 398.6L406.7 398.3L406.9 400.5L407.1 403.3L407.3 402.2L407.5 402.7L407.8 409.5L408.0 405.3L408.2 406.5L408.4 408.7L408.6 412.5L408.8 412.6L409.0 410.1L409.3 415.7L409.5 411.6L409.7 416.7L409.9 415.8L410.1 425.1L410.3 417.7L410.5 419.9L410.8 426.1L411.0 420.0L411.2 425.3L411.4 428.4L411.6 422.5L411.8 423.7L412.0 425.8L412.2 427.5L412.5 427.9L412.7 437.1L412.9 433.8L413.1 430.7L413.3 434.1L413.5 436.5L413.7 438.7L414.0 440.1L414.2 442.5L414.4 441.8L414.6 449.7L414.8 440.9L415.0 444.9L415.2 453.1L415.5 447.1L415.7 447.7L415.9 449.7L416.1 448.6L416.3 449.5L416.5 451.1L416.7 458.6L417.0 461.0L417.2 458.3L417.4 454.7L417.6 463.5L417.8 460.8L418.0 462.1L418.2 461.9L418.4 467.0L418.7 462.1L418.9 465.5L419.1 463.2L419.3 466.4L419.5 468.0L419.7 466.1L419.9 466.3L420.2 469.5L420.4 474.0L420.6 472.0L420.8 471.1L421.0 472.8L421.2 471.5L421.4 473.8L421.7 479.1L421.9 473.1L422.1 478.0L422.3 479.1L422.5 481.4L422.7 486.4L422.9 489.5L423.2 483.0L423.4 483.0L423.6 482.1L423.8 490.1L424.0 488.9L424.2 491.0L424.4 488.7L424.6 493.5L424.9 494.7L425.1 497.4L425.3 494.7L425.5 492.3L425.7 499.4L425.9 498.1L426.1 493.7L426.4 500.8L426.6 505.3L426.8 503.0L427.0 498.9L427.2 502.0L427.4 505.5L427.6 505.6L427.9 501.1L428.1 509.3L428.3 502.3L428.5 508.2L428.7 506.2L428.9 511.6L429.1 511.9L429.4 503.5L429.6 511.4L429.8 514.5L430.0 511.1L430.2 515.3L430.4 516.8L430.6 517.3L430.8 517.0L431.1 512.5L431.3 521.6L431.5 516.5L431.7 523.0L431.9 517.5L432.1 521.2L432.3 518.7L432.6 521.9L432.8 519.2L433.0 520.6L433.2 522.0L433.4 522.0L433.6 525.8L433.8 526.1L434.1 527.9L434.3 524.8L434.5 525.9L434.7 528.0L434.9 531.4L435.1 529.0L435.3 528.0L435.6 527.7L435.8 532.3L436.0 529.1L436.2 535.0L436.4 533.4L436.6 535.7L436.8 532.6L437.0 536.3L437.3 536.3L437.5 531.9L437.7 532.3L437.9 540.4L438.1 533.2L438.3 534.3L438.5 534.5L438.8 538.9L439.0 534.2L439.2 536.8L439.4 542.7L439.6 545.3L439.8 542.6L440.0 538.8L440.3 533.5L440.5 544.7L440.7 539.8L440.9 541.2L441.1 541.5L441.3 540.5L441.5 539.7L441.8 542.7L442.0 538.3L442.2 541.3L442.4 540.5L442.6 540.7L442.8 547.1L443.0 540.1L443.2 547.5L443.5 544.8L443.7 546.2L443.9 548.2L444.1 546.2L444.3 550.5L444.5 544.7L444.7 546.9L445.0 548.7L445.2 546.5L445.4 546.2L445.6 547.6L445.8 552.7L446.0 546.3L446.2 546.9L446.5 542.2L446.7 541.3L446.9 544.6L447.1 546.5L447.3 546.9L447.5 549.4L447.7 549.3L448.0 550.7L448.2 550.3L448.4 550.8L448.6 544.8L448.8 543.5L449.0 555.4L449.2 548.3L449.4 554.2L449.7 552.3L449.9 548.7L450.1 548.9L450.3 540.9L450.5 547.7L450.7 550.3L450.9 552.0L451.2 546.2L451.4 549.7L451.6 548.4L451.8 551.1L452.0 543.7L452.2 545.5L452.4 543.3L452.7 547.9L452.9 545.9L453.1 547.0L453.3 548.6L453.5 543.8L453.7 550.4L453.9 546.8L454.2 548.3L454.4 544.2L454.6 548.3L454.8 544.3L455.0 545.9L455.2 544.5L455.4 544.0L455.6 536.9L455.9 544.8L456.1 538.1L456.3 542.4L456.5 533.8L456.7 539.8L456.9 537.1L457.1 543.5L457.4 534.9L457.6 538.9L457.8 540.4L458.0 537.6L458.2 532.6L458.4 538.4L458.6 535.6L458.9 532.3L459.1 532.2L459.3 537.4L459.5 538.4L459.7 530.6L459.9 531.4L460.1 530.1L460.4 528.8L460.6 530.9L460.8 528.5L461.0 531.5L461.2 529.9L461.4 528.1L461.6 529.6L461.9 527.8L462.1 521.9L462.3 526.1L462.5 522.8L462.7 523.7L462.9 527.3L463.1 520.9L463.3 527.6L463.6 520.4L463.8 521.1L464.0 522.5L464.2 517.3L464.4 519.7L464.6 512.1L464.8 522.0L465.1 512.0L465.3 512.4L465.5 513.0L465.7 517.0L465.9 516.3L466.1 517.9L466.3 510.3L466.6 510.8L466.8 506.6L467.0 507.6L467.2 505.6L467.4 511.0L467.6 505.1L467.8 503.4L468.1 500.6L468.3 509.8L468.5 498.5L468.7 506.0L468.9 499.6L469.1 498.3L469.3 491.9L469.5 495.3L469.8 495.7L470.0 497.2L470.2 496.5L470.4 496.8L470.6 492.5L470.8 493.2L471.0 486.4L471.3 491.7L471.5 485.4L471.7 487.2L471.9 487.9L472.1 484.1L472.3 488.7L472.5 481.3L472.8 481.3L473.0 481.7L473.2 478.3L473.4 476.4L473.6 474.1L473.8 475.5L474.0 476.1L474.3 472.0L474.5 477.6L474.7 466.6L474.9 471.1L475.1 467.8L475.3 463.5L475.5 468.7L475.7 466.5L476.0 463.7L476.2 465.7L476.4 458.9L476.6 465.8L476.8 460.9L477.0 457.6L477.2 456.7L477.5 457.7L477.7 450.8L477.9 449.8L478.1 452.4L478.3 449.2L478.5 453.8L478.7 446.2L479.0 447.0L479.2 444.3L479.4 443.4L479.6 443.3L479.8 443.1L480.0 445.9L480.2 445.5L480.5 443.0L480.7 435.9L480.9 436.5L481.1 437.6L481.3 436.6L481.5 431.4L481.7 432.4L481.9 426.5L482.2 430.9L482.4 431.5L482.6 433.3L482.8 428.4L483.0 423.8L483.2 427.9L483.4 420.6L483.7 419.4L483.9 423.6L484.1 417.7L484.3 421.6L484.5 416.1L484.7 416.6L484.9 412.2L485.2 415.8L485.4 412.2L485.6 408.9L485.8 410.6L486.0 409.1L486.2 408.9L486.4 402.7L486.7 403.7L486.9 401.0L487.1 399.5L487.3 399.4L487.5 398.4L487.7 400.1L487.9 397.2L488.1 394.3L488.4 398.3L488.6 396.4L488.8 390.3L489.0 386.3L489.2 388.5L489.4 388.7L489.6 383.5L489.9 383.7L490.1 381.3L490.3 381.8L490.5 382.3L490.7 379.5L490.9 376.4L491.1 376.4L491.4 382.8L491.6 372.4L491.8 377.3L492.0 378.3L492.2 377.3L492.4 371.8L492.6 378.1L492.9 374.0L493.1 369.0L493.3 366.4L493.5 362.7L493.7 366.0L493.9 367.0L494.1 366.1L494.3 360.7L494.6 361.4L494.8 359.8L495.0 361.6L495.2 360.9L495.4 359.3L495.6 355.7L495.8 354.3L496.1 350.0L496.3 351.2L496.5 351.7L496.7 347.5L496.9 354.1L497.1 351.1L497.3 346.2L497.6 344.3L497.8 345.6L498.0 349.0L498.2 347.8L498.4 342.1L498.6 340.4L498.8 346.4L499.1 341.1L499.3 339.0L499.5 334.9L499.7 333.8L499.9 337.2L500.1 337.7L500.3 334.6L500.5 334.9L500.8 334.3L501.0 329.4L501.2 330.2L501.4 336.4L501.6 328.6L501.8 326.2L502.0 330.4L502.3 321.5L502.5 323.7L502.7 323.9L502.9 324.6L503.1 319.3L503.3 318.3L503.5 322.6L503.8 326.3L504.0 315.3L504.2 318.4L504.4 322.9L504.6 313.1L504.8 322.3L505.0 316.4L505.3 318.1L505.5 317.1L505.7 312.1L505.9 304.8L506.1 313.0L506.3 306.2L506.5 311.3L506.7 311.0L507.0 307.1L507.2 312.0L507.4 301.4L507.6 307.6L507.8 308.7L508.0 304.2L508.2 304.0L508.5 304.6L508.7 300.6L508.9 296.5L509.1 300.9L509.3 301.6L509.5 296.1L509.7 295.2L510.0 299.5L510.2 297.4L510.4 298.6L510.6 299.7L510.8 292.5L511.0 292.7L511.2 289.4L511.5 287.8L511.7 299.3L511.9 295.5L512.1 291.7L512.3 285.4L512.5 290.1L512.7 286.9L512.9 291.3L513.2 284.6L513.4 283.7L513.6 283.4L513.8 284.1L514.0 287.4L514.2 280.6L514.4 287.2L514.7 287.2L514.9 286.4L515.1 283.3L515.3 279.5L515.5 282.7L515.7 280.8L515.9 282.1L516.2 279.6L516.4 280.6L516.6 284.0L516.8 273.0L517.0 277.3L517.2 276.8L517.4 277.4L517.7 280.4L517.9 278.7L518.1 275.9L518.3 273.9L518.5 275.9L518.7 278.6L518.9 277.2L519.2 279.3L519.4 277.1L519.6 276.3L519.8 277.3L520.0 274.2L520.2 269.0L520.4 276.4L520.6 278.7L520.9 276.1L521.1 270.7L521.3 276.7L521.5 270.5L521.7 270.0L521.9 273.9L522.1 277.1L522.4 271.5L522.6 275.3L522.8 272.3L523.0 267.1L523.2 271.4L523.4 277.5L523.6 272.3L523.9 275.1L524.1 266.9L524.3 271.0L524.5 273.6L524.7 271.4L524.9 272.4L525.1 274.5L525.4 275.4L525.6 271.9L525.8 273.8L526.0 272.6L526.2 270.1L526.4 268.5L526.6 273.9L526.8 271.0L527.1 275.0L527.3 278.0L527.5 269.1L527.7 267.7L527.9 274.0L528.1 275.7L528.3 277.2L528.6 273.6L528.8 270.5L529.0 271.9L529.2 277.2L529.4 272.8L529.6 277.9L529.8 274.8L530.1 273.0L530.3 273.3L530.5 280.0L530.7 277.0L530.9 275.4L531.1 274.1L531.3 277.0L531.6 274.4L531.8 272.6L532.0 281.1L532.2 276.1L532.4 270.5L532.6 276.8L532.8 278.4L533.0 274.9L533.3 275.8L533.5 278.5L533.7 286.2L533.9 280.1L534.1 279.7L534.3 279.3L534.5 276.9L534.8 286.4L535.0 285.5L535.2 282.5L535.4 280.8L535.6 285.7L535.8 287.0L536.0 283.7L536.3 285.1L536.5 283.5L536.7 287.0L536.9 286.1L537.1 292.3L537.3 287.0L537.5 287.7L537.8 290.4L538.0 293.7L538.2 286.3L538.4 288.8L538.6 292.6L538.8 290.2L539.0 288.4L539.2 295.1L539.5 290.6L539.7 293.4L539.9 297.0L540.1 297.8L540.3 294.0L540.5 295.4L540.7 297.3L541.0 302.5L541.2 302.0L541.4 301.6L541.6 306.4L541.8 307.6L542.0 306.3L542.2 303.5L542.5 304.1L542.7 306.7L542.9 305.4L543.1 303.6L543.3 312.2L543.5 307.5L543.7 312.4L544.0 307.6L544.2 317.8L544.4 312.7L544.6 319.7L544.8 315.4L545.0 316.6L545.2 318.1L545.4 316.1L545.7 322.6L545.9 320.7L546.1 319.1L546.3 323.0L546.5 321.3L546.7 324.2L546.9 324.4L547.2 328.4L547.4 330.6L547.6 329.5L547.8 325.5L548.0 328.9L548.2 332.3L548.4 334.0L548.7 330.0L548.9 332.1L549.1 335.5L549.3 334.7L549.5 337.3L549.7 334.9L549.9 342.4L550.2 340.2L550.4 340.4L550.6 341.6L550.8 346.3L551.0 347.1L551.2 344.2L551.4 342.7L551.6 351.1L551.9 350.5L552.1 347.4L552.3 352.6L552.5 351.3L552.7 351.7L552.9 356.0L553.1 351.2L553.4 357.6L553.6 360.1L553.8 357.4L554.0 358.1L554.2 364.9L554.4 363.7L554.6 366.4L554.9 365.9L555.1 370.8L555.3 367.7L555.5 366.0L555.7 372.3L555.9 372.7L556.1 373.6L556.4 378.0L556.6 375.7L556.8 378.1L557.0 380.1L557.2 375.0L557.4 382.0L557.6 383.0L557.8 389.9L558.1 382.6L558.3 385.7L558.5 383.7L558.7 389.8L558.9 389.4L559.1 390.5L559.3 386.7L559.6 390.5L559.8 399.2L560.0 388.9L560.2 392.9L560.4 398.6L560.6 401.9L560.8 401.9L561.1 406.1L561.3 403.6L561.5 401.0L561.7 405.0L561.9 408.4L562.1 405.7L562.3 406.9L562.6 408.8L562.8 408.8L563.0 407.7L563.2 411.6L563.4 410.9L563.6 412.7L563.8 417.2L564.0 415.9L564.3 419.2L564.5 421.4L564.7 420.4L564.9 421.1L565.1 421.6L565.3 424.5L565.5 430.4L565.8 427.4L566.0 427.7L566.2 427.6L566.4 429.9L566.6 432.3L566.8 433.4L567.0 431.2L567.3 433.1L567.5 436.8L567.7 437.2L567.9 438.8L568.1 441.4L568.3 441.5L568.5 443.6L568.8 441.7L569.0 447.4L569.2 447.1L569.4 445.5L569.6 447.0L569.8 452.1L570.0 452.9L570.2 452.5L570.5 451.7L570.7 451.7L570.9 455.2L571.1 451.4L571.3 455.0L571.5 462.6L571.7 460.1L572.0 457.9L572.2 458.5L572.4 463.7L572.6 464.4L572.8 465.1L573.0 465.2L573.2 469.8L573.5 467.2L573.7 465.7L573.9 469.1L574.1 468.4L574.3 474.0L574.5 470.7L574.7 475.0L575.0 473.6L575.2 474.3L575.4 480.1L575.6 480.9L575.8 476.3L576.0 478.1L576.2 479.6L576.5 484.0L576.7 480.4L576.9 481.9L577.1 487.2L577.3 489.1L577.5 484.7L577.7 487.4L577.9 491.2L578.2 490.8L578.4 493.0L578.6 490.4L578.8 492.3L579.0 490.6L579.2 493.3L579.4 494.5L579.7 492.4L579.9 497.2L580.1 500.9L580.3 499.0L580.5 501.9L580.7 498.4L580.9 496.3L581.2 503.9L581.4 503.6L581.6 507.5L581.8 500.0L582.0 500.3L582.2 504.1L582.4 502.7L582.7 504.0L582.9 510.1L583.1 509.8L583.3 510.7L583.5 508.2L583.7 515.8L583.9 515.6L584.1 512.2L584.4 515.7L584.6 519.1L584.8 517.9L585.0 514.4L585.2 512.2L585.4 517.5L585.6 514.6L585.9 522.6L586.1 519.8L586.3 519.6L586.5 522.4L586.7 522.3L586.9 515.4L587.1 527.4L587.4 528.3L587.6 524.2L587.8 522.7L588.0 530.0L588.2 528.8L588.4 528.1L588.6 527.7L588.9 532.8L589.1 527.1L589.3 528.5L589.5 530.8L589.7 535.4L589.9 527.2L590.1 532.0L590.3 536.1L590.6 531.1L590.8 530.4L591.0 536.7L591.2 532.6L591.4 536.0L591.6 535.2L591.8 534.6L592.1 539.1L592.3 535.3L592.5 533.5L592.7 538.3L592.9 536.7L593.1 539.0L593.3 539.2L593.6 536.1L593.8 541.6L594.0 540.8L594.2 533.9L594.4 541.4L594.6 541.5L594.8 541.8L595.1 543.0L595.3 543.0L595.5 539.1L595.7 546.8L595.9 549.3L596.1 542.9L596.3 545.6L596.5 545.5L596.8 544.9L597.0 545.7L597.2 547.9L597.4 545.9L597.6 546.4L597.8 548.8L598.0 545.9L598.3 542.2L598.5 545.3L598.7 542.0L598.9 547.4L599.1 545.7L599.3 547.4L599.5 549.7L599.8 550.3L600.0 552.4L600.2 546.2L600.4 548.8L600.6 547.3L600.8 551.7L601.0 552.2L601.3 550.9L601.5 545.3L601.7 543.6L601.9 542.0L602.1 547.8L602.3 548.4L602.5 552.4L602.7 553.4L603.0 549.5L603.2 548.4L603.4 548.7L603.6 551.5L603.8 548.7L604.0 547.3L604.2 547.1L604.5 542.8L604.7 551.3L604.9 547.1L605.1 549.3L605.3 549.6L605.5 547.0L605.7 551.7L606.0 542.9L606.2 546.3L606.4 543.3L606.6 545.8L606.8 541.4L607.0 548.4L607.2 547.9L607.5 539.3L607.7 543.2L607.9 541.0L608.1 544.6L608.3 545.2L608.5 544.3L608.7 540.3L608.9 541.7L609.2 543.2L609.4 548.6L609.6 541.0L609.8 539.5L610.0 536.9L610.2 541.5L610.4 545.9L610.7 542.6L610.9 536.8L611.1 538.2L611.3 537.3L611.5 538.2L611.7 539.5L611.9 538.9L612.2 537.6L612.4 535.3L612.6 540.0L612.8 531.5L613.0 531.1L613.2 537.0L613.4 537.4L613.7 528.8L613.9 530.5L614.1 533.2L614.3 534.4L614.5 526.8L614.7 528.3L614.9 529.0L615.1 524.3L615.4 531.0L615.6 529.3L615.8 529.5L616.0 525.9L616.2 531.8L616.4 525.5L616.6 527.1L616.9 524.9L617.1 525.8L617.3 529.4L617.5 520.1L617.7 517.5L617.9 517.3L618.1 521.6L618.4 518.3L618.6 515.8L618.8 517.9L619.0 519.6L619.2 514.0L619.4 513.7L619.6 514.8L619.9 509.3L620.1 514.0L620.3 510.1L620.5 509.9L620.7 505.4L620.9 507.6L621.1 510.0L621.3 510.7L621.6 504.4L621.8 507.8L622.0 500.0L622.2 500.5L622.4 501.7L622.6 502.0L622.8 500.5L623.1 495.1L623.3 496.9L623.5 500.7L623.7 497.4L623.9 493.4L624.1 495.9L624.3 488.2L624.6 494.9L624.8 488.5L625.0 490.5L625.2 484.2L625.4 485.7L625.6 486.3L625.8 484.6L626.1 485.2L626.3 487.7L626.5 483.0L626.7 482.4L626.9 480.6L627.1 481.1L627.3 482.2L627.5 476.8L627.8 477.3L628.0 472.5L628.2 471.4L628.4 476.0L628.6 470.8L628.8 470.9L629.0 468.7L629.3 469.6L629.5 468.5L629.7 461.8L629.9 463.4L630.1 467.1L630.3 465.6L630.5 461.0L630.8 461.3L631.0 459.7L631.2 459.4L631.4 454.0L631.6 452.6L631.8 451.9L632.0 452.8L632.3 451.8L632.5 453.8L632.7 443.5L632.9 446.6L633.1 447.5L633.3 440.1L633.5 447.7L633.7 444.4L634.0 443.3L634.2 442.2L634.4 439.1L634.6 439.4L634.8 437.4L635.0 437.0L635.2 433.6L635.5 434.5L635.7 434.5L635.9 427.8L636.1 434.0L636.3 425.9L636.5 423.4L636.7 426.3L637.0 427.1L637.2 423.2L637.4 423.3L637.6 423.0L637.8 416.0L638.0 416.4L638.2 424.0L638.5 420.6L638.7 416.8L638.9 407.6L639.1 414.8L639.3 412.9L639.5 407.5L639.7 408.6L640.0 411.3L640.2 401.2L640.4 402.4L640.6 405.5L640.8 401.9L641.0 402.2L641.2 400.0L641.4 398.1L641.7 399.0L641.9 390.0L642.1 395.8L642.3 396.1L642.5 389.8L642.7 394.0L642.9 389.2L643.2 385.8L643.4 390.9L643.6 390.3L643.8 381.9L644.0 384.5L644.2 389.8L644.4 385.6L644.7 380.4L644.9 378.1L645.1 381.3L645.3 380.9L645.5 374.2L645.7 377.2L645.9 378.2L646.2 366.7L646.4 368.7L646.6 370.0L646.8 367.0L647.0 369.7L647.2 367.4L647.4 366.8L647.6 363.1L647.9 363.6L648.1 363.4L648.3 365.5L648.5 361.9L648.7 358.2L648.9 358.6L649.1 357.5L649.4 351.7L649.6 351.0L649.8 357.8L650.0 351.5L650.2 355.0L650.4 351.3L650.6 347.0L650.9 348.8L651.1 342.5L651.3 347.1L651.5 343.1L651.7 346.8L651.9 345.6L652.1 344.1L652.4 346.0L652.6 342.9L652.8 344.1L653.0 339.5L653.2 340.1L653.4 337.0L653.6 332.6L653.8 333.5L654.1 333.3L654.3 334.3L654.5 334.5L654.7 335.7L654.9 328.6L655.1 329.5L655.3 326.9L655.6 333.9L655.8 328.0L656.0 332.0L656.2 326.3L656.4 326.1L656.6 323.6L656.8 320.5L657.1 323.9L657.3 318.7L657.5 317.6L657.7 319.6L657.9 318.5L658.1 318.2L658.3 315.5L658.6 318.1L658.8 313.7L659.0 313.6L659.2 313.9L659.4 313.0L659.6 311.3L659.8 313.1L660.0 308.6L660.3 310.4L660.5 307.2L660.7 310.1L660.9 302.3L661.1 303.7L661.3 307.8L661.5 306.9L661.8 305.3L662.0 303.0L662.2 303.0L662.4 305.6L662.6 301.5L662.8 307.2L663.0 300.4L663.3 300.5L663.5 299.4L663.7 295.0L663.9 294.9L664.1 293.9L664.3 295.7L664.5 294.8L664.8 297.8L665.0 290.9L665.2 293.6L665.4 293.5L665.6 291.2L665.8 294.4L666.0 290.1L666.2 291.2L666.5 293.6L666.7 287.1L666.9 291.1L667.1 289.4L667.3 287.0L667.5 287.2L667.7 289.1L668.0 290.1L668.2 284.6L668.4 286.8L668.6 285.1L668.8 284.9L669.0 285.0L669.2 276.0L669.5 287.8L669.7 279.0L669.9 282.1L670.1 283.6L670.3 278.0L670.5 280.3L670.7 282.1L671.0 281.3L671.2 281.3L671.4 279.7L671.6 277.8L671.8 278.6L672.0 280.4L672.2 280.7L672.4 278.4L672.7 273.7L672.9 279.9L673.1 276.6L673.3 282.5L673.5 274.7L673.7 276.6L673.9 271.1L674.2 279.1L674.4 273.6L674.6 272.1L674.8 273.5L675.0 279.7L675.2 269.1L675.4 271.5L675.7 271.1L675.9 275.3L676.1 272.6L676.3 270.6L676.5 272.1L676.7 266.9L676.9 272.2L677.2 274.3L677.4 272.2L677.6 277.2L677.8 272.3L678.0 265.7L678.2 272.5L678.4 272.3L678.6 273.7L678.9 270.0L679.1 270.2L679.3 267.7L679.5 277.7L679.7 268.4L679.9 275.0L680.1 270.4L680.4 271.3L680.6 271.8L680.8 274.0L681.0 266.1L681.2 274.9L681.4 276.4L681.6 267.4L681.9 270.1L682.1 272.4L682.3 269.9L682.5 274.7L682.7 269.9L682.9 270.5L683.1 276.5L683.4 273.9L683.6 275.3L683.8 274.5L684.0 276.5L684.2 272.2L684.4 277.7L684.6 273.3L684.8 272.4L685.1 277.3L685.3 279.0L685.5 275.4L685.7 274.2L685.9 276.5L686.1 278.0L686.3 282.0L686.6 278.1L686.8 277.6L687.0 277.6L687.2 273.4L687.4 280.1L687.6 280.4L687.8 284.4L688.1 279.1L688.3 283.7L688.5 275.1L688.7 285.3L688.9 283.4L689.1 287.0L689.3 281.4L689.6 283.0L689.8 288.8L690.0 286.2L690.2 279.3L690.4 284.5L690.6 285.6L690.8 287.3L691.0 288.3L691.3 292.5L691.5 289.8L691.7 285.8L691.9 288.7L692.1 287.9L692.3 288.8L692.5 293.6L692.8 295.1L693.0 293.1L693.2 295.3L693.4 297.7L693.6 298.0L693.8 293.8L694.0 301.4L694.3 302.2L694.5 298.9L694.7 297.3L694.9 299.7L695.1 298.4L695.3 302.8L695.5 302.5L695.8 301.7L696.0 301.0L696.2 301.8L696.4 305.3L696.6 304.5L696.8 308.6L697.0 311.7L697.3 311.1L697.5 312.2L697.7 317.5L697.9 313.4L698.1 312.6L698.3 313.5L698.5 315.9L698.7 316.1L699.0 315.8L699.2 316.6L699.4 315.8L699.6 323.7L699.8 323.6L700.0 314.7L700.2 318.8L700.5 323.9L700.7 321.8L700.9 322.6L701.1 325.5L701.3 324.3L701.5 328.0L701.7 329.7L702.0 333.5L702.2 330.6L702.4 325.1L702.6 330.2L702.8 336.8L703.0 335.7L703.2 333.6L703.5 333.3L703.7 336.5L703.9 342.6L704.1 344.0L704.3 343.6L704.5 345.7L704.7 346.8L704.9 345.2L705.2 346.6L705.4 346.4L705.6 351.6L705.8 351.8L706.0 348.3L706.2 353.5L706.4 352.1L706.7 354.4L706.9 358.8L707.1 356.3L707.3 362.7L707.5 362.0L707.7 364.0L707.9 362.9L708.2 357.9L708.4 370.0L708.6 361.0L708.8 362.4L709.0 370.7L709.2 365.6L709.4 369.2L709.7 372.0L709.9 366.3L710.1 371.2L710.3 379.6L710.5 376.6L710.7 374.4L710.9 375.5L711.1 380.4L711.4 380.9L711.6 383.0L711.8 384.6L712.0 385.2L712.2 386.4L712.4 387.8L712.6 391.1L712.9 389.2L713.1 394.2L713.3 391.3L713.5 392.8L713.7 391.4L713.9 393.4L714.1 399.0L714.4 395.6L714.6 400.7L714.8 401.5L715.0 401.7L715.2 400.0L715.4 405.1L715.6 401.8L715.9 404.3L716.1 408.1L716.3 407.1L716.5 413.7L716.7 414.2L716.9 410.2L717.1 416.1L717.3 419.1L717.6 412.2L717.8 415.5L718.0 420.2L718.2 418.4L718.4 418.8L718.6 423.2L718.8 425.3L719.1 428.1L719.3 424.4L719.5 427.7L719.7 429.1L719.9 429.9L720.1 429.8L720.3 431.5L720.6 437.2L720.8 430.3L721.0 432.3L721.2 435.2L721.4 437.9L721.6 439.7L721.8 436.9L722.1 440.9L722.3 444.4L722.5 442.4L722.7 444.9L722.9 445.6L723.1 449.3L723.3 448.6L723.5 446.9L723.8 448.0L724.0 447.4L724.2 450.7L724.4 452.5L724.6 450.4L724.8 457.9L725.0 458.4L725.3 456.8L725.5 454.6L725.7 461.4L725.9 463.4L726.1 461.2L726.3 462.5L726.5 464.6L726.8 461.0L727.0 466.4L727.2 462.1L727.4 464.4L727.6 471.9L727.8 466.6L728.0 469.0L728.3 468.9L728.5 478.3L728.7 470.6L728.9 473.6L729.1 475.9L729.3 473.7L729.5 482.8L729.7 475.8L730.0 478.6L730.2 479.9L730.4 483.0L730.6 488.0L730.8 485.7L731.0 477.8L731.2 488.9L731.5 490.3L731.7 483.4L731.9 487.5L732.1 490.7L732.3 490.9L732.5 490.3L732.7 490.5L733.0 490.9L733.2 494.3L733.4 497.1L733.6 497.0L733.8 499.7L734.0 496.2L734.2 497.7L734.5 499.4L734.7 502.0L734.9 501.8L735.1 502.6L735.3 502.6L735.5 505.9L735.7 505.0L735.9 508.3L736.2 510.0L736.4 501.4L736.6 509.3L736.8 511.7L737.0 512.1L737.2 506.9L737.4 511.5L737.7 514.4L737.9 512.4L738.1 513.8L738.3 513.1L738.5 514.5L738.7 519.4L738.9 514.2L739.2 517.2L739.4 517.7L739.6 516.1L739.8 519.8L740.0 518.3L740.2 522.1L740.4 523.5L740.7 519.5L740.9 521.5L741.1 524.1L741.3 524.2L741.5 528.7L741.7 529.4L741.9 529.8L742.1 528.8L742.4 526.1L742.6 527.3L742.8 527.9L743.0 533.8L743.2 528.4L743.4 528.1L743.6 530.5L743.9 526.9L744.1 531.4L744.3 526.4L744.5 532.5L744.7 535.7L744.9 538.8L745.1 536.1L745.4 534.8L745.6 533.4L745.8 542.9L746.0 541.6L746.2 535.1L746.4 534.4L746.6 535.8L746.9 537.9L747.1 535.9L747.3 545.1L747.5 539.6L747.7 537.4L747.9 536.9L748.1 538.2L748.3 545.2L748.6 538.7L748.8 542.8L749.0 538.9L749.2 542.1L749.4 543.9L749.6 542.9L749.8 538.0L750.1 538.0L750.3 547.5L750.5 542.9L750.7 545.8L750.9 545.0L751.1 542.6L751.3 542.4L751.6 543.3L751.8 546.6L752.0 545.0L752.2 546.3L752.4 548.6L752.6 548.8L752.8 544.6L753.1 549.9L753.3 552.1L753.5 544.7L753.7 548.4L753.9 544.9L754.1 551.9L754.3 550.2L754.6 549.6L754.8 545.2L755.0 547.6L755.2 545.9L755.4 548.4L755.6 543.0L755.8 549.1L756.0 546.8L756.3 554.5L756.5 554.0L756.7 548.7L756.9 552.5L757.1 550.7L757.3 547.2L757.5 547.7L757.8 548.3L758.0 549.5L758.2 548.6L758.4 547.3L758.6 543.0L758.8 550.4L759.0 540.8L759.3 549.3L759.5 550.0L759.7 547.2L759.9 547.6L760.1 543.7L760.3 548.6L760.5 542.3L760.8 546.1L761.0 539.5L761.2 547.1L761.4 545.7L761.6 545.9L761.8 543.3L762.0 548.4L762.2 547.0L762.5 546.6L762.7 539.4L762.9 540.9L763.1 540.3L763.3 540.5L763.5 541.7L763.7 545.0L764.0 544.7L764.2 546.0L764.4 539.5L764.6 543.6L764.8 538.0L765.0 536.3L765.2 536.2L765.5 541.5L765.7 535.7L765.9 539.7L766.1 537.1L766.3 535.2L766.5 539.7L766.7 536.4L767.0 535.0L767.2 530.3L767.4 531.7L767.6 535.5L767.8 532.2L768.0 531.9L768.2 532.6L768.4 532.5L768.7 529.2L768.9 527.2L769.1 530.0L769.3 529.0L769.5 529.1L769.7 528.4L769.9 526.3L770.2 530.5L770.4 527.5L770.6 526.7L770.8 526.4L771.0 522.7L771.2 526.0L771.4 517.6L771.7 519.4L771.9 519.9L772.1 523.2L772.3 525.5L772.5 520.1L772.7 519.2L772.9 511.4L773.2 518.3L773.4 514.8L773.6 514.5L773.8 512.0L774.0 513.3L774.2 514.3L774.4 509.0L774.6 515.9L774.9 505.2L775.1 507.5L775.3 506.8L775.5 504.4L775.7 504.9L775.9 507.5L776.1 502.5L776.4 508.9L776.6 500.8L776.8 498.2L777.0 497.6L777.2 496.9L777.4 495.4L777.6 497.1L777.9 496.3L778.1 490.6L778.3 488.9L778.5 491.3L778.7 491.1L778.9 490.0L779.1 486.1L779.4 485.5L779.6 483.8L779.8 487.1L780.0 483.7L780.2 482.2L780.4 481.2L780.6 479.7L780.8 475.8L781.1 477.8L781.3 478.2L781.5 480.6L781.7 472.3L781.9 472.4L782.1 475.5L782.3 470.7L782.6 472.7L782.8 472.5L783.0 468.0L783.2 467.7L783.4 460.6L783.6 466.6L783.8 466.0L784.1 468.4L784.3 463.5L784.5 462.9L784.7 462.4L784.9 459.8L785.1 456.4L785.3 454.9L785.6 452.6L785.8 456.1L786.0 453.6L786.2 453.4L786.4 450.3L786.6 447.9L786.8 454.2L787.0 445.2L787.3 442.3L787.5 446.5L787.7 441.4L787.9 444.6L788.1 441.4L788.3 443.2L788.5 439.8L788.8 436.9L789.0 438.1L789.2 435.2L789.4 431.3L789.6 436.8L789.8 431.2L790.0 432.5L790.3 428.3L790.5 426.8L790.7 425.1L790.9 423.2L791.1 423.7L791.3 422.4L791.5 420.3L791.8 419.6L792.0 422.9L792.2 417.1L792.4 415.6L792.6 420.8L792.8 410.6L793.0 412.1L793.2 414.8L793.5 410.3L793.7 407.6L793.9 406.8L794.1 405.6L794.3 409.1L794.5 404.4L794.7 399.7L795.0 400.3L795.2 403.7L795.4 398.4L795.6 395.6L795.8 392.2L796.0 398.8L796.2 397.4L796.5 395.8L796.7 388.7L796.9 387.6L797.1 389.6L797.3 383.9L797.5 392.7L797.7 387.0L798.0 387.3L798.2 381.9L798.4 382.6L798.6 377.8L798.8 383.8L799.0 380.9L799.2 376.2L799.4 371.1L799.7 375.8L799.9 372.6L800.1 370.9L800.3 370.8L800.5 367.1L800.7 368.4L800.9 365.2L801.2 364.1L801.4 369.7L801.6 367.7L801.8 361.5L802.0 368.4L802.2 361.7L802.4 358.8L802.7 359.6L802.9 358.5L803.1 354.4L803.3 360.5L803.5 358.5L803.7 349.5L803.9 357.7L804.2 354.5L804.4 347.5L804.6 354.6L804.8 345.4L805.0 348.7L805.2 345.5L805.4 346.4L805.6 342.6L805.9 340.4L806.1 338.8L806.3 338.3L806.5 340.7L806.7 340.3L806.9 339.3L807.1 341.5L807.4 340.3L807.6 334.8L807.8 334.0L808.0 336.6L808.2 332.8L808.4 336.9L808.6 337.5L808.9 330.1L809.1 327.7L809.3 332.3L809.5 324.6L809.7 322.1L809.9 325.5L810.1 318.6L810.4 330.2L810.6 325.9L810.8 325.5L811.0 325.7L811.2 319.8L811.4 323.5L811.6 324.4L811.8 316.1L812.1 310.7L812.3 315.1L812.5 317.6L812.7 311.8L812.9 313.7L813.1 313.6L813.3 312.5L813.6 311.4L813.8 311.5L814.0 310.9L814.2 310.9L814.4 312.2L814.6 309.6L814.8 307.5L815.1 303.6L815.3 304.5L815.5 302.0L815.7 302.9L815.9 301.9L816.1 306.8L816.3 296.7L816.6 298.0L816.8 302.1L817.0 299.9L817.2 294.1L817.4 298.8L817.6 296.4L817.8 299.7L818.1 295.8L818.3 296.5L818.5 295.2L818.7 297.9L818.9 292.1L819.1 297.2L819.3 291.1L819.5 295.7L819.8 288.9L820.0 283.9L820.2 288.5L820.4 285.0L820.6 295.2L820.8 286.9L821.0 291.7L821.3 286.9L821.5 284.3L821.7 290.5L821.9 285.5L822.1 289.0L822.3 286.1L822.5 287.4L822.8 282.1L823.0 284.4L823.2 284.6L823.4 282.0L823.6 281.8L823.8 281.0L824.0 282.4L824.3 280.1L824.5 281.4L824.7 279.9L824.9 279.1L825.1 279.7L825.3 278.8L825.5 277.5L825.7 280.5L826.0 279.8L826.2 277.0L826.4 277.9L826.6 279.0L826.8 274.3L827.0 279.1L827.2 276.2L827.5 270.9L827.7 277.0L827.9 274.4L828.1 275.7L828.3 272.9L828.5 270.4L828.7 270.5L829.0 271.1L829.2 274.6L829.4 268.8L829.6 274.4L829.8 270.0L830.0 273.6L830.2 272.5L830.5 276.2L830.7 270.3L830.9 266.1L831.1 266.2L831.3 269.2L831.5 268.5L831.7 273.1L831.9 274.4L832.2 272.5L832.4 270.4L832.6 270.0L832.8 268.1L833.0 273.4L833.2 270.5L833.4 271.5L833.7 272.1L833.9 272.2L834.1 270.9L834.3 271.2L834.5 271.1L834.7 275.7L834.9 272.4L835.2 274.9L835.4 268.5L835.6 270.1L835.8 274.9L836.0 274.4L836.2 267.8L836.4 266.6L836.7 268.8L836.9 272.1L837.1 276.7L837.3 273.4L837.5 272.6L837.7 271.4L837.9 277.4L838.1 276.1L838.4 276.5L838.6 274.3L838.8 278.8L839.0 278.1L839.2 277.6L839.4 276.1L839.6 278.6L839.9 271.3L840.1 275.7L840.3 275.0L840.5 276.7L840.7 272.5L840.9 281.1L841.1 281.0L841.4 277.0L841.6 278.6L841.8 278.6L842.0 278.4L842.2 285.2L842.4 278.2L842.6 285.2L842.9 282.5L843.1 280.9L843.3 287.9L843.5 282.7L843.7 285.3L843.9 284.3L844.1 279.8L844.3 287.7L844.6 290.0L844.8 291.1L845.0 286.6L845.2 286.2L845.4 293.1L845.6 288.3L845.8 289.4L846.1 287.4L846.3 296.7L846.5 293.9L846.7 291.2L846.9 291.4L847.1 295.1L847.3 293.8L847.6 295.1L847.8 297.8L848.0 299.1L848.2 299.7L848.4 298.4L848.6 297.1L848.8 293.8L849.1 297.0L849.3 301.2L849.5 304.4L849.7 300.9L849.9 305.1L850.1 306.2L850.3 302.0L850.5 302.3L850.8 306.3L851.0 312.3L851.2 304.6L851.4 304.6L851.6 309.7L851.8 313.0L852.0 309.3L852.3 312.7L852.5 313.9L852.7 309.9L852.9 317.5L853.1 317.3L853.3 318.1L853.5 320.3L853.8 318.7L854.0 314.8L854.2 323.3L854.4 323.0L854.6 317.9L854.8 325.7L855.0 327.7L855.3 332.6L855.5 326.9L855.7 326.4L855.9 328.6L856.1 330.4L856.3 335.1L856.5 334.5L856.7 332.1L857.0 333.7L857.2 336.4L857.4 340.3L857.6 342.6L857.8 341.2L858.0 340.6L858.2 342.7L858.5 342.2L858.7 341.1L858.9 344.8L859.1 345.2L859.3 348.3L859.5 346.8L859.7 356.8L860.0 356.1L860.2 352.1L860.4 354.3L860.6 355.1L860.8 361.2L861.0 355.9L861.2 360.3L861.5 358.8L861.7 358.3L861.9 357.7L862.1 357.2L862.3 366.8L862.5 365.9L862.7 365.9L862.9 370.3L863.2 365.1L863.4 370.3L863.6 371.5L863.8 377.4L864.0 372.0L864.2 372.5L864.4 369.8L864.7 375.5L864.9 382.5L865.1 376.6L865.3 382.1L865.5 379.2L865.7 378.2L865.9 384.9L866.2 384.6L866.4 386.0L866.6 389.0L866.8 381.8L867.0 392.9L867.2 391.7L867.4 390.2L867.7 390.5L867.9 396.1L868.1 396.3L868.3 399.3L868.5 400.3L868.7 401.4L868.9 402.7L869.1 404.1L869.4 404.0L869.6 401.9L869.8 408.8L870.0 405.9L870.2 413.5L870.4 408.2L870.6 406.6L870.9 411.1L871.1 414.1L871.3 412.9L871.5 414.1L871.7 415.5L871.9 416.0L872.1 424.4L872.4 422.9L872.6 427.4L872.8 424.1L873.0 427.1L873.2 422.4L873.4 430.5L873.6 421.7L873.9 428.2L874.1 432.9L874.3 428.7L874.5 434.1L874.7 437.2L874.9 436.7L875.1 435.9L875.4 433.7L875.6 436.9L875.8 442.6L876.0 439.0L876.2 444.9L876.4 440.6L876.6 443.0L876.8 447.1L877.1 445.8L877.3 444.7L877.5 452.2L877.7 448.5L877.9 450.0L878.1 452.3L878.3 453.0L878.6 458.0L878.8 448.5L879.0 461.9L879.2 451.0L879.4 451.2L879.6 461.5L879.8 459.8L880.1 463.1L880.3 461.1L880.5 463.7L880.7 466.7L880.9 465.1L881.1 466.3L881.3 463.8L881.6 473.6L881.8 470.5L882.0 471.2L882.2 472.7L882.4 471.9L882.6 473.7L882.8 476.6L883.0 477.4L883.3 472.3L883.5 479.7L883.7 478.1L883.9 476.3L884.1 486.8L884.3 485.2L884.5 480.8L884.8 481.7L885.0 483.4L885.2 482.1L885.4 485.0L885.6 484.3L885.8 491.0L886.0 489.9L886.3 491.0L886.5 492.7L886.7 494.8L886.9 496.6L887.1 491.2L887.3 494.0L887.5 490.3L887.8 495.0L888.0 494.0L888.2 501.0L888.4 501.7L888.6 501.3L888.8 500.6L889.0 504.9L889.2 502.7L889.5 503.5L889.7 504.1L889.9 508.4L890.1 504.0L890.3 510.1L890.5 503.1L890.7 512.9L891.0 511.0L891.2 512.0L891.4 513.3L891.6 511.9L891.8 515.0L892.0 512.8L892.2 511.6L892.5 515.5L892.7 516.8L892.9 513.0L893.1 513.6L893.3 519.9L893.5 518.1L893.7 515.0L894.0 524.2L894.2 518.4L894.4 518.9L894.6 520.9L894.8 527.6L895.0 521.2L895.2 522.3L895.4 525.3L895.7 525.1L895.9 524.0L896.1 527.7L896.3 528.3L896.5 525.7L896.7 530.2L896.9 525.0L897.2 528.4L897.4 533.3L897.6 529.7L897.8 524.0L898.0 531.3L898.2 528.5L898.4 530.3L898.7 535.8L898.9 538.1L899.1 532.0L899.3 534.3L899.5 536.3L899.7 535.2L899.9 533.6L900.2 534.7L900.4 537.6L900.6 541.2L900.8 534.4L901.0 539.1L901.2 539.6L901.4 534.6L901.6 537.1L901.9 539.5L902.1 539.4L902.3 540.5L902.5 540.3L902.7 541.7L902.9 543.3L903.1 538.9L903.4 544.8L903.6 541.9L903.8 545.5L904.0 543.1L904.2 544.4L904.4 545.0L904.6 544.8L904.9 540.1L905.1 545.6L905.3 549.9L905.5 548.0L905.7 548.5L905.9 548.8L906.1 547.0L906.4 544.9L906.6 548.6L906.8 548.1L907.0 545.6L907.2 545.7L907.4 545.5L907.6 543.1L907.8 545.8L908.1 549.8L908.3 545.4L908.5 546.2L908.7 543.8L908.9 547.7L909.1 549.3L909.3 541.5L909.6 551.0L909.8 541.5L910.0 549.5L910.2 546.7L910.4 551.1L910.6 545.5L910.8 548.9L911.1 547.7L911.3 546.8L911.5 546.6L911.7 550.5L911.9 542.2L912.1 550.2L912.3 551.5L912.6 549.2L912.8 547.3L913.0 551.0L913.2 548.0L913.4 546.5L913.6 548.3L913.8 546.5L914.0 550.8L914.3 548.7L914.5 543.5L914.7 546.6L914.9 551.1L915.1 540.5L915.3 547.9L915.5 547.4L915.8 545.5L916.0 545.0L916.2 541.3L916.4 544.2L916.6 546.0L916.8 539.7L917.0 541.9L917.3 542.6L917.5 544.2L917.7 541.8L917.9 544.0L918.1 539.6L918.3 537.8L918.5 540.6L918.8 541.9L919.0 541.4L919.2 534.1L919.4 541.1L919.6 539.5L919.8 535.2L920.0 539.7L920.2 531.1L920.5 532.5L920.7 535.8L920.9 537.4L921.1 535.0L921.3 531.3L921.5 528.9L921.7 534.8L922.0 530.1L922.2 526.7L922.4 529.9L922.6 532.2L922.8 530.7L923.0 527.6L923.2 529.2L923.5 529.5L923.7 525.5L923.9 528.3L924.1 528.4L924.3 524.8L924.5 524.1L924.7 530.9L925.0 526.3L925.2 518.2L925.4 514.8L925.6 522.5L925.8 516.7L926.0 513.4L926.2 519.2L926.4 518.6L926.7 516.7L926.9 513.2L927.1 510.9L927.3 514.3L927.5 512.7L927.7 510.2L927.9 509.4L928.2 507.6L928.4 514.1L928.6 507.9L928.8 509.3L929.0 504.5L929.2 506.1L929.4 508.5L929.7 508.1L929.9 504.6L930.1 500.8L930.3 499.3L930.5 504.6L930.7 499.6L930.9 501.4L931.2 497.0L931.4 497.9L931.6 502.9L931.8 495.2L932.0 492.9L932.2 495.6L932.4 492.6L932.7 486.9L932.9 492.4L933.1 487.8L933.3 489.1L933.5 486.4L933.7 485.9L933.9 485.2L934.1 483.4L934.4 482.3L934.6 480.6L934.8 482.0L935.0 485.4L935.2 479.0L935.4 473.5L935.6 473.1L935.9 474.0L936.1 473.4L936.3 474.6L936.5 470.0L936.7 469.6L936.9 466.7L937.1 468.8L937.4 466.8L937.6 463.4L937.8 466.9L938.0 459.9L938.2 460.6L938.4 460.7L938.6 460.9L938.9 461.1L939.1 457.3L939.3 460.0L939.5 459.0L939.7 452.6L939.9 452.5L940.1 452.5L940.3 448.4L940.6 454.1L940.8 448.8L941.0 449.1L941.2 446.6L941.4 447.1L941.6 442.1L941.8 439.4L942.1 440.3L942.3 438.8L942.5 435.7L942.7 435.9L942.9 438.8L943.1 433.4L943.3 431.0L943.6 429.3L943.8 429.0L944.0 430.8L944.2 435.0L944.4 429.0L944.6 425.4L944.8 421.8L945.1 420.4L945.3 422.2L945.5 416.3L945.7 423.3L945.9 421.8L946.1 413.2L946.3 411.7L946.5 415.3L946.8 413.5L947.0 409.1L947.2 412.2L947.4 409.5L947.6 403.9L947.8 410.9L948.0 413.7L948.3 405.0L948.5 401.4L948.7 401.0L948.9 398.6L949.1 395.8L949.3 397.8L949.5 395.2L949.8 398.0L950.0 400.1L950.2 389.5L950.4 394.4L950.6 397.6L950.8 387.0L951.0 389.9L951.3 390.3L951.5 387.6L951.7 383.9L951.9 384.2L952.1 385.3L952.3 382.7L952.5 383.5L952.7 373.5L953.0 381.7L953.2 376.1L953.4 379.1L953.6 379.4L953.8 376.2L954.0 373.6L954.2 370.0L954.5 369.6L954.7 367.7L954.9 370.8L955.1 367.8L955.3 362.8L955.5 362.2L955.7 360.7L956.0 366.9L956.2 365.0L956.4 362.2L956.6 360.8L956.8 358.4L957.0 361.3L957.2 359.7L957.5 359.2L957.7 351.2L957.9 353.7L958.1 357.4L958.3 349.9L958.5 349.5L958.7 347.8L958.9 351.9L959.2 351.6L959.4 348.0L959.6 348.4L959.8 349.8L960.0 342.3L960.2 343.6L960.4 345.2L960.7 338.2L960.9 339.3L961.1 336.9L961.3 335.3"/>
<path stroke="#4ea6ff" d="M191.6 304.9L191.8 309.9L192.0 300.9L192.2 302.9L192.5 299.5L192.7 304.0L192.9 301.3L193.1 302.7L193.3 303.5L193.5 301.0L193.7 304.2L194.0 301.6L194.2 298.6L194.4 300.0L194.6 300.9L194.8 293.9L195.0 299.1L195.2 300.5L195.4 298.4L195.7 299.9L195.9 299.3L196.1 298.9L196.3 292.6L196.5 297.6L196.7 297.0L196.9 295.5L197.2 291.8L197.4 297.4L197.6 298.3L197.8 290.1L198.0 300.1L198.2 297.1L198.4 294.3L198.7 290.1L198.9 298.3L199.1 301.9L199.3 293.9L199.5 296.8L199.7 296.4L199.9 294.2L200.2 294.7L200.4 294.5L200.6 296.3L200.8 291.8L201.0 291.2L201.2 295.0L201.4 296.2L201.6 293.1L201.9 293.8L202.1 297.7L202.3 296.2L202.5 292.4L202.7 295.4L202.9 296.0L203.1 294.7L203.4 295.4L203.6 295.4L203.8 300.4L204.0 291.1L204.2 295.2L204.4 298.0L204.6 293.4L204.9 295.2L205.1 296.1L205.3 293.6L205.5 290.7L205.7 295.2L205.9 292.8L206.1 291.5L206.4 299.8L206.6 298.8L206.8 295.6L207.0 302.2L207.2 298.8L207.4 295.0L207.6 295.9L207.8 297.4L208.1 304.0L208.3 293.4L208.5 298.3L208.7 298.0L208.9 299.0L209.1 305.0L209.3 304.7L209.6 304.4L209.8 296.7L210.0 304.1L210.2 303.0L210.4 303.4L210.6 301.7L210.8 302.2L211.1 303.2L211.3 307.6L211.5 311.2L211.7 304.8L211.9 305.0L212.1 302.9L212.3 306.8L212.6 308.6L212.8 306.4L213.0 312.0L213.2 311.2L213.4 311.6L213.6 308.8L213.8 304.6L214.0 308.6L214.3 308.2L214.5 311.0L214.7 311.5L214.9 313.9L215.1 314.1L215.3 320.2L215.5 317.6L215.8 318.4L216.0 313.6L216.2 314.6L216.4 314.0L216.6 313.6L216.8 319.0L217.0 316.2L217.3 314.5L217.5 320.2L217.7 318.1L217.9 322.0L218.1 326.4L218.3 322.6L218.5 325.8L218.8 324.1L219.0 326.3L219.2 325.0L219.4 332.0L219.6 321.9L219.8 324.5L220.0 329.7L220.2 331.9L220.5 330.3L220.7 329.4L220.9 330.8L221.1 331.6L221.3 338.5L221.5 337.2L221.7 331.6L222.0 335.3L222.2 340.6L222.4 339.8L222.6 342.1L222.8 341.8L223.0 337.0L223.2 341.5L223.5 338.9L223.7 342.2L223.9 347.4L224.1 346.1L224.3 339.3L224.5 348.2L224.7 349.8L225.0 344.7L225.2 348.6L225.4 349.8L225.6 346.8L225.8 356.2L226.0 351.4L226.2 356.2L226.5 358.0L226.7 357.4L226.9 353.2L227.1 357.6L227.3 362.9L227.5 362.0L227.7 356.0L227.9 358.3L228.2 364.8L228.4 356.6L228.6 364.9L228.8 368.0L229.0 366.2L229.2 364.4L229.4 363.6L229.7 366.1L229.9 370.9L230.1 372.2L230.3 375.6L230.5 372.9L230.7 375.3L230.9 374.1L231.2 379.1L231.4 378.1L231.6 380.1L231.8 381.9L232.0 382.9L232.2 383.5L232.4 384.9L232.7 381.3L232.9 383.6L233.1 388.3L233.3 384.5L233.5 386.2L233.7 384.1L233.9 389.5L234.1 390.5L234.4 392.8L234.6 391.7L234.8 391.8L235.0 393.6L235.2 395.8L235.4 394.7L235.6 396.9L235.9 397.5L236.1 401.7L236.3 399.7L236.5 403.9L236.7 404.5L236.9 402.9L237.1 398.8L237.4 402.8L237.6 406.4L237.8 407.9L238.0 405.9L238.2 405.9L238.4 407.3L238.6 412.0L238.9 412.1L239.1 414.4L239.3 415.3L239.5 417.9L239.7 417.3L239.9 423.3L240.1 421.8L240.3 418.5L240.6 423.1L240.8 420.3L241.0 426.1L241.2 424.7L241.4 423.7L241.6 428.4L241.8 428.6L242.1 421.3L242.3 430.5L242.5 431.5L242.7 432.2L242.9 431.6L243.1 432.7L243.3 431.0L243.6 432.5L243.8 436.6L244.0 437.5L244.2 441.2L244.4 442.4L244.6 441.4L244.8 438.5L245.1 441.1L245.3 440.2L245.5 440.8L245.7 444.7L245.9 439.7L246.1 447.5L246.3 448.7L246.5 449.1L246.8 446.0L247.0 450.2L247.2 452.8L247.4 450.6L247.6 449.7L247.8 453.9L248.0 455.1L248.3 452.5L248.5 453.7L248.7 454.7L248.9 460.1L249.1 458.3L249.3 458.9L249.5 465.5L249.8 458.5L250.0 462.3L250.2 464.3L250.4 458.3L250.6 464.8L250.8 467.9L251.0 467.0L251.3 466.2L251.5 466.4L251.7 469.6L251.9 472.5L252.1 472.9L252.3 474.1L252.5 475.5L252.7 473.6L253.0 475.7L253.2 475.0L253.4 478.2L253.6 479.1L253.8 478.1L254.0 479.3L254.2 476.2L254.5 482.3L254.7 480.2L254.9 481.6L255.1 485.7L255.3 481.1L255.5 483.4L255.7 490.1L256.0 483.7L256.2 483.6L256.4 488.9L256.6 483.1L256.8 487.8L257.0 492.0L257.2 488.2L257.5 491.4L257.7 494.6L257.9 497.4L258.1 491.9L258.3 495.1L258.5 492.2L258.7 493.6L258.9 496.6L259.2 497.3L259.4 492.0L259.6 492.8L259.8 495.9L260.0 499.5L260.2 501.8L260.4 500.8L260.7 496.1L260.9 499.9L261.1 502.5L261.3 505.5L261.5 502.5L261.7 505.8L261.9 504.1L262.2 502.8L262.4 502.5L262.6 505.5L262.8 507.3L263.0 506.4L263.2 502.8L263.4 507.1L263.7 512.3L263.9 505.1L264.1 509.1L264.3 503.8L264.5 512.0L264.7 511.5L264.9 512.6L265.1 511.3L265.4 514.3L265.6 517.1L265.8 518.8L266.0 514.5L266.2 516.0L266.4 516.7L266.6 510.1L266.9 514.0L267.1 513.6L267.3 518.2L267.5 516.6L267.7 518.3L267.9 518.7L268.1 516.6L268.4 517.4L268.6 518.6L268.8 519.4L269.0 523.9L269.2 522.4L269.4 519.9L269.6 522.2L269.9 523.6L270.1 521.0L270.3 524.6L270.5 524.3L270.7 520.6L270.9 524.1L271.1 519.8L271.3 522.4L271.6 522.0L271.8 521.4L272.0 530.2L272.2 525.1L272.4 528.5L272.6 526.6L272.8 525.9L273.1 522.6L273.3 526.2L273.5 522.0L273.7 527.9L273.9 526.8L274.1 526.6L274.3 524.6L274.6 527.4L274.8 529.0L275.0 528.4L275.2 531.3L275.4 524.5L275.6 526.0L275.8 527.0L276.1 527.5L276.3 529.9L276.5 529.4L276.7 526.4L276.9 530.6L277.1 530.7L277.3 524.6L277.5 524.7L277.8 528.0L278.0 527.4L278.2 528.3L278.4 525.1L278.6 530.0L278.8 528.6L279.0 527.6L279.3 525.1L279.5 529.4L279.7 528.1L279.9 530.0L280.1 530.3L280.3 530.3L280.5 528.3L280.8 526.1L281.0 530.1L281.2 529.8L281.4 529.2L281.6 527.1L281.8 526.0L282.0 531.0L282.3 526.6L282.5 530.0L282.7 525.4L282.9 529.6L283.1 529.7L283.3 528.5L283.5 526.6L283.8 528.8L284.0 525.5L284.2 525.4L284.4 525.3L284.6 524.6L284.8 522.8L285.0 526.6L285.2 524.5L285.5 524.3L285.7 529.2L285.9 522.6L286.1 525.2L286.3 524.8L286.5 523.7L286.7 522.0L287.0 521.0L287.2 520.3L287.4 522.9L287.6 519.0L287.8 519.3L288.0 521.0L288.2 519.6L288.5 517.0L288.7 517.6L288.9 516.4L289.1 517.5L289.3 514.4L289.5 511.1L289.7 515.2L290.0 520.0L290.2 511.0L290.4 516.4L290.6 517.9L290.8 520.0L291.0 512.2L291.2 510.0L291.4 509.7L291.7 512.7L291.9 507.4L292.1 510.8L292.3 511.5L292.5 509.2L292.7 508.2L292.9 508.0L293.2 506.5L293.4 512.6L293.6 502.3L293.8 507.1L294.0 503.3L294.2 506.4L294.4 503.3L294.7 503.5L294.9 506.4L295.1 500.7L295.3 499.3L295.5 503.1L295.7 504.9L295.9 500.5L296.2 500.2L296.4 497.1L296.6 496.7L296.8 491.7L297.0 493.4L297.2 495.0L297.4 493.2L297.6 499.2L297.9 494.3L298.1 493.6L298.3 490.7L298.5 488.8L298.7 488.3L298.9 485.6L299.1 488.9L299.4 485.6L299.6 485.8L299.8 484.6L300.0 483.0L300.2 483.7L300.4 481.6L300.6 481.3L300.9 477.7L301.1 479.8L301.3 477.8L301.5 471.3L301.7 475.2L301.9 474.6L302.1 472.3L302.4 476.7L302.6 471.4L302.8 470.4L303.0 470.3L303.2 468.0L303.4 467.5L303.6 465.5L303.8 469.3L304.1 465.6L304.3 467.2L304.5 461.6L304.7 463.5L304.9 466.2L305.1 461.7L305.3 463.5L305.6 457.5L305.8 459.9L306.0 463.7L306.2 458.1L306.4 453.5L306.6 454.3L306.8 455.7L307.1 451.5L307.3 450.7L307.5 447.4L307.7 447.8L307.9 448.2L308.1 450.1L308.3 446.4L308.6 445.3L308.8 445.1L309.0 443.0L309.2 446.1L309.4 440.6L309.6 441.0L309.8 439.1L310.0 439.3L310.3 438.8L310.5 436.3L310.7 434.0L310.9 435.8L311.1 433.1L311.3 434.8L311.5 430.8L311.8 430.8L312.0 433.1L312.2 425.8L312.4 430.0L312.6 426.5L312.8 429.0L313.0 429.1L313.3 422.0L313.5 426.2L313.7 426.9L313.9 421.1L314.1 423.5L314.3 419.0L314.5 412.8L314.8 417.5L315.0 414.5L315.2 413.0L315.4 412.7L315.6 412.7L315.8 407.5L316.0 410.5L316.2 408.4L316.5 408.0L316.7 410.5L316.9 405.4L317.1 405.1L317.3 402.6L317.5 401.5L317.7 398.2L318.0 406.0L318.2 401.6L318.4 400.4L318.6 400.4L318.8 396.1L319.0 396.4L319.2 394.8L319.5 398.4L319.7 395.7L319.9 392.4L320.1 392.4L320.3 391.8L320.5 389.6L320.7 389.0L321.0 390.0L321.2 382.1L321.4 387.1L321.6 382.8L321.8 381.9L322.0 380.0L322.2 383.0L322.4 383.1L322.7 378.5L322.9 378.0L323.1 383.7L323.3 383.2L323.5 377.3L323.7 375.9L323.9 374.7L324.2 372.0L324.4 374.6L324.6 364.8L324.8 368.0L325.0 366.1L325.2 367.8L325.4 372.9L325.7 366.1L325.9 367.2L326.1 363.8L326.3 364.3L326.5 361.4L326.7 364.5L326.9 362.3L327.2 360.5L327.4 361.5L327.6 359.9L327.8 356.3L328.0 352.1L328.2 356.7L328.4 353.2L328.6 357.4L328.9 354.8L329.1 352.0L329.3 350.5L329.5 353.8L329.7 348.8L329.9 349.1L330.1 345.4L330.4 345.5L330.6 345.7L330.8 347.3L331.0 344.8L331.2 346.9L331.4 346.0L331.6 347.8L331.9 345.7L332.1 344.8L332.3 341.1L332.5 339.8L332.7 342.7L332.9 338.8L333.1 336.8L333.4 334.8L333.6 336.6L333.8 335.1L334.0 335.9L334.2 331.9L334.4 337.4L334.6 332.2L334.8 337.9L335.1 327.0L335.3 328.3L335.5 335.3L335.7 330.7L335.9 332.2L336.1 332.4L336.3 328.4L336.6 328.9L336.8 323.4L337.0 326.7L337.2 327.5L337.4 324.3L337.6 322.4L337.8 320.8L338.1 320.9L338.3 325.4L338.5 323.1L338.7 320.9L338.9 321.9L339.1 317.3L339.3 319.5L339.6 318.2L339.8 318.4L340.0 316.8L340.2 320.2L340.4 310.5L340.6 316.7L340.8 316.6L341.1 318.7L341.3 313.9L341.5 316.6L341.7 311.8L341.9 309.1L342.1 310.1L342.3 312.3L342.5 307.4L342.8 310.6L343.0 309.8L343.2 309.1L343.4 310.0L343.6 307.3L343.8 311.0L344.0 311.9L344.3 304.0L344.5 308.4L344.7 307.1L344.9 304.9L345.1 306.5L345.3 307.9L345.5 305.1L345.8 306.6L346.0 302.4L346.2 304.5L346.4 303.7L346.6 300.8L346.8 306.3L347.0 305.8L347.3 299.8L347.5 298.2L347.7 300.8L347.9 302.5L348.1 297.3L348.3 298.8L348.5 297.3L348.7 304.2L349.0 299.6L349.2 301.7L349.4 301.6L349.6 297.1L349.8 296.5L350.0 299.3L350.2 298.5L350.5 294.2L350.7 295.8L350.9 297.6L351.1 295.8L351.3 296.6L351.5 299.9L351.7 297.8L352.0 295.7L352.2 294.7L352.4 299.1L352.6 298.0L352.8 297.3L353.0 299.6L353.2 292.9L353.5 294.4L353.7 292.1L353.9 300.9L354.1 297.4L354.3 290.7L354.5 298.7L354.7 299.8L354.9 294.6L355.2 291.1L355.4 293.5L355.6 297.5L355.8 293.7L356.0 294.0L356.2 294.4L356.4 294.2L356.7 293.1L356.9 292.3L357.1 291.8L357.3 292.7L357.5 295.8L357.7 300.2L357.9 294.2L358.2 299.5L358.4 290.1L358.6 298.9L358.8 300.7L359.0 300.9L359.2 295.4L359.4 295.8L359.7 295.0L359.9 296.1L360.1 299.0L360.3 295.2L360.5 299.2L360.7 301.5L360.9 295.6L361.1 296.8L361.4 300.7L361.6 299.3L361.8 296.3L362.0 296.8L362.2 302.2L362.4 296.9L362.6 306.4L362.9 300.1L363.1 299.7L363.3 301.3L363.5 301.1L363.7 305.7L363.9 302.4L364.1 301.1L364.4 305.1L364.6 302.8L364.8 304.0L365.0 309.7L365.2 305.9L365.4 303.3L365.6 309.2L365.9 305.6L366.1 305.3L366.3 309.8L366.5 307.7L366.7 305.3L366.9 306.2L367.1 311.0L367.3 306.4L367.6 308.7L367.8 309.7L368.0 306.8L368.2 309.3L368.4 310.7L368.6 309.8L368.8 311.1L369.1 310.1L369.3 314.2L369.5 319.0L369.7 311.2L369.9 313.7L370.1 315.0L370.3 316.9L370.6 317.8L370.8 318.0L371.0 321.3L371.2 317.6L371.4 320.0L371.6 323.3L371.8 320.9L372.1 323.1L372.3 323.0L372.5 322.3L372.7 317.9L372.9 327.8L373.1 324.8L373.3 324.8L373.5 326.2L373.8 324.3L374.0 329.9L374.2 330.4L374.4 330.4L374.6 334.6L374.8 329.1L375.0 335.8L375.3 332.1L375.5 331.2L375.7 337.2L375.9 336.4L376.1 337.2L376.3 333.2L376.5 337.7L376.8 343.7L377.0 337.4L377.2 338.3L377.4 346.9L377.6 349.1L377.8 337.1L378.0 344.2L378.3 350.7L378.5 343.5L378.7 343.5L378.9 354.0L379.1 345.6L379.3 348.0L379.5 350.7L379.7 353.4L380.0 351.5L380.2 355.5L380.4 354.0L380.6 356.0L380.8 357.4L381.0 355.8L381.2 355.6L381.5 356.8L381.7 358.9L381.9 356.7L382.1 365.2L382.3 362.8L382.5 363.4L382.7 361.8L383.0 371.6L383.2 367.9L383.4 368.6L383.6 368.3L383.8 364.0L384.0 370.2L384.2 372.0L384.5 371.7L384.7 371.3L384.9 375.2L385.1 371.5L385.3 379.9L385.5 374.6L385.7 377.0L385.9 377.3L386.2 376.9L386.4 382.4L386.6 381.8L386.8 383.2L387.0 386.4L387.2 387.8L387.4 388.9L387.7 385.8L387.9 394.8L388.1 393.3L388.3 390.8L388.5 388.7L388.7 393.3L388.9 390.9L389.2 395.3L389.4 397.5L389.6 401.2L389.8 397.7L390.0 394.8L390.2 400.0L390.4 403.9L390.7 400.8L390.9 406.8L391.1 407.3L391.3 402.5L391.5 405.4L391.7 405.0L391.9 407.9L392.1 409.8L392.4 410.1L392.6 412.4L392.8 409.9L393.0 416.9L393.2 419.4L393.4 417.8L393.6 414.3L393.9 419.0L394.1 424.5L394.3 413.2L394.5 423.1L394.7 422.2L394.9 421.2L395.1 422.8L395.4 425.1L395.6 429.7L395.8 425.4L396.0 430.2L396.2 429.1L396.4 427.8L396.6 431.7L396.9 436.2L397.1 434.2L397.3 432.1L397.5 432.8L397.7 438.9L397.9 436.4L398.1 436.8L398.3 435.8L398.6 438.4L398.8 440.0L399.0 442.2L399.2 441.1L399.4 441.3L399.6 444.7L399.8 445.9L400.1 441.7L400.3 447.2L400.5 450.0L400.7 447.2L400.9 453.0L401.1 453.6L401.3 449.4L401.6 452.6L401.8 451.6L402.0 452.5L402.2 457.3L402.4 455.0L402.6 458.2L402.8 457.6L403.1 458.4L403.3 460.1L403.5 464.1L403.7 460.9L403.9 462.5L404.1 462.1L404.3 467.0L404.6 464.6L404.8 466.5L405.0 467.9L405.2 468.4L405.4 469.2L405.6 472.9L405.8 471.6L406.0 472.3L406.3 470.7L406.5 473.1L406.7 470.0L406.9 472.8L407.1 474.4L407.3 475.5L407.5 480.4L407.8 476.7L408.0 475.2L408.2 481.7L408.4 476.6L408.6 479.2L408.8 480.8L409.0 483.4L409.3 483.0L409.5 485.8L409.7 484.6L409.9 485.2L410.1 485.9L410.3 489.9L410.5 485.2L410.8 489.9L411.0 488.0L411.2 488.2L411.4 490.9L411.6 484.9L411.8 491.5L412.0 491.5L412.2 493.8L412.5 493.1L412.7 497.8L412.9 493.6L413.1 496.9L413.3 497.9L413.5 495.3L413.7 495.6L414.0 499.6L414.2 501.8L414.4 504.9L414.6 503.0L414.8 499.8L415.0 500.1L415.2 505.5L415.5 502.8L415.7 500.9L415.9 506.0L416.1 506.1L416.3 507.6L416.5 504.8L416.7 511.2L417.0 507.3L417.2 506.4L417.4 508.2L417.6 506.2L417.8 507.6L418.0 511.0L418.2 512.8L418.4 513.4L418.7 510.0L418.9 512.1L419.1 512.0L419.3 515.1L419.5 510.4L419.7 511.6L419.9 512.3L420.2 517.5L420.4 508.7L420.6 513.5L420.8 518.8L421.0 514.1L421.2 517.2L421.4 519.3L421.7 519.7L421.9 516.9L422.1 517.8L422.3 518.5L422.5 519.9L422.7 522.3L422.9 519.5L423.2 521.2L423.4 521.4L423.6 519.7L423.8 517.3L424.0 523.5L424.2 519.8L424.4 524.4L424.6 520.8L424.9 521.6L425.1 523.4L425.3 523.2L425.5 526.0L425.7 525.2L425.9 522.2L426.1 522.9L426.4 519.5L426.6 527.9L426.8 526.8L427.0 525.6L427.2 525.9L427.4 527.5L427.6 527.5L427.9 526.9L428.1 523.7L428.3 527.3L428.5 529.1L428.7 526.6L428.9 534.0L429.1 529.9L429.4 529.4L429.6 527.2L429.8 533.8L430.0 528.7L430.2 531.0L430.4 525.9L430.6 526.5L430.8 529.7L431.1 527.4L431.3 531.6L431.5 528.2L431.7 528.1L431.9 526.1L432.1 529.9L432.3 534.2L432.6 526.9L432.8 531.6L433.0 530.2L433.2 529.7L433.4 524.6L433.6 528.9L433.8 525.8L434.1 528.5L434.3 532.1L434.5 527.4L434.7 527.1L434.9 529.7L435.1 532.1L435.3 521.7L435.6 522.6L435.8 526.8L436.0 526.6L436.2 525.2L436.4 525.9L436.6 530.9L436.8 530.5L437.0 524.8L437.3 523.3L437.5 523.8L437.7 524.2L437.9 526.1L438.1 523.4L438.3 521.7L438.5 524.0L438.8 521.9L439.0 521.7L439.2 526.3L439.4 521.2L439.6 525.8L439.8 525.9L440.0 519.2L440.3 527.0L440.5 523.0L440.7 520.0L440.9 520.9L441.1 522.5L441.3 523.5L441.5 519.5L441.8 519.0L442.0 520.2L442.2 522.0L442.4 522.7L442.6 518.7L442.8 518.4L443.0 515.7L443.2 518.1L443.5 514.6L443.7 519.4L443.9 520.2L444.1 513.1L444.3 516.0L444.5 516.5L444.7 514.2L445.0 516.4L445.2 513.6L445.4 515.7L445.6 511.3L445.8 512.6L446.0 510.7L446.2 510.0L446.5 508.3L446.7 513.1L446.9 507.8L447.1 508.2L447.3 509.8L447.5 506.9L447.7 504.4L448.0 503.8L448.2 499.4L448.4 504.5L448.6 502.7L448.8 497.5L449.0 503.1L449.2 503.0L449.4 501.4L449.7 501.0L449.9 498.9L450.1 497.7L450.3 499.2L450.5 499.4L450.7 496.0L450.9 498.1L451.2 496.4L451.4 492.7L451.6 493.0L451.8 494.5L452.0 494.8L452.2 492.9L452.4 493.3L452.7 487.5L452.9 486.1L453.1 486.4L453.3 485.6L453.5 486.7L453.7 484.3L453.9 483.7L454.2 482.8L454.4 483.3L454.6 483.9L454.8 479.7L455.0 478.5L455.2 481.4L455.4 478.3L455.6 476.9L455.9 474.7L456.1 479.2L456.3 477.6L456.5 476.6L456.7 475.4L456.9 474.1L457.1 468.3L457.4 472.4L457.6 463.3L457.8 467.0L458.0 465.0L458.2 465.9L458.4 462.7L458.6 462.9L458.9 460.9L459.1 460.5L459.3 459.4L459.5 459.0L459.7 456.3L459.9 458.0L460.1 458.4L460.4 452.1L460.6 456.3L460.8 453.1L461.0 447.9L461.2 453.7L461.4 451.8L461.6 451.8L461.9 451.4L462.1 446.5L462.3 447.6L462.5 445.8L462.7 449.3L462.9 442.9L463.1 444.9L463.3 446.8L463.6 442.8L463.8 444.0L464.0 435.1L464.2 442.2L464.4 436.3L464.6 438.5L464.8 437.0L465.1 437.1L465.3 429.9L465.5 434.6L465.7 432.4L465.9 429.2L466.1 429.7L466.3 426.0L466.6 428.5L466.8 429.7L467.0 423.5L467.2 420.7L467.4 421.3L467.6 423.6L467.8 417.7L468.1 417.6L468.3 419.4L468.5 416.4L468.7 416.5L468.9 415.1L469.1 412.8L469.3 411.2L469.5 412.1L469.8 411.2L470.0 416.5L470.2 411.3L470.4 407.1L470.6 409.2L470.8 405.3L471.0 405.7L471.3 404.0L471.5 403.0L471.7 399.0L471.9 399.9L472.1 400.1L472.3 402.1L472.5 397.3L472.8 399.8L473.0 393.1L473.2 396.9L473.4 395.7L473.6 393.6L473.8 394.7L474.0 390.0L474.3 389.4L474.5 390.9L474.7 389.6L474.9 382.8L475.1 383.5L475.3 384.0L475.5 383.7L475.7 379.7L476.0 383.4L476.2 382.2L476.4 380.9L476.6 382.2L476.8 380.9L477.0 373.2L477.2 376.4L477.5 378.0L477.7 375.5L477.9 375.2L478.1 374.1L478.3 372.3L478.5 374.9L478.7 374.7L479.0 369.9L479.2 369.1L479.4 370.5L479.6 366.9L479.8 367.2L480.0 364.4L480.2 364.5L480.5 360.4L480.7 358.8L480.9 359.7L481.1 360.4L481.3 357.5L481.5 356.9L481.7 356.7L481.9 355.1L482.2 357.1L482.4 353.4L482.6 353.1L482.8 352.6L483.0 353.2L483.2 352.9L483.4 349.7L483.7 351.5L483.9 352.1L484.1 344.5L484.3 344.9L484.5 348.9L484.7 342.8L484.9 350.5L485.2 343.2L485.4 342.2L485.6 342.5L485.8 342.8L486.0 339.6L486.2 339.5L486.4 342.8L486.7 341.1L486.9 336.1L487.1 335.9L487.3 339.8L487.5 339.9L487.7 334.5L487.9 336.9L488.1 335.9L488.4 334.7L488.6 332.2L488.8 337.0L489.0 329.4L489.2 331.5L489.4 327.7L489.6 332.0L489.9 330.7L490.1 326.7L490.3 324.8L490.5 326.7L490.7 326.7L490.9 322.0L491.1 322.0L491.4 323.3L491.6 324.0L491.8 319.7L492.0 320.4L492.2 322.4L492.4 317.3L492.6 317.6L492.9 319.2L493.1 318.0L493.3 316.6L493.5 319.1L493.7 320.3L493.9 313.9L494.1 320.3L494.3 319.4L494.6 318.6L494.8 313.4L495.0 311.6L495.2 315.2L495.4 309.9L495.6 308.5L495.8 308.7L496.1 314.7L496.3 307.8L496.5 304.9L496.7 312.3L496.9 313.6L497.1 306.0L497.3 307.4L497.6 308.3L497.8 307.9L498.0 311.5L498.2 309.0L498.4 306.0L498.6 304.9L498.8 303.4L499.1 302.9L499.3 306.0L499.5 304.6L499.7 300.6L499.9 307.0L500.1 302.0L500.3 305.0L500.5 302.1L500.8 297.7L501.0 300.9L501.2 302.7L501.4 302.9L501.6 304.4L501.8 300.7L502.0 305.9L502.3 300.2L502.5 299.4L502.7 301.7L502.9 301.1L503.1 296.0L503.3 295.6L503.5 293.4L503.8 295.4L504.0 297.2L504.2 298.3L504.4 294.5L504.6 295.7L504.8 296.7L505.0 292.5L505.3 297.2L505.5 296.2L505.7 293.7L505.9 295.1L506.1 295.9L506.3 293.4L506.5 289.5L506.7 296.5L507.0 293.9L507.2 294.5L507.4 295.0L507.6 291.2L507.8 295.5L508.0 291.0L508.2 297.5L508.5 294.8L508.7 297.0L508.9 294.1L509.1 293.3L509.3 293.6L509.5 294.4L509.7 295.6L510.0 298.0L510.2 292.9L510.4 295.0L510.6 292.2L510.8 299.2L511.0 295.8L511.2 299.4L511.5 292.6L511.7 297.2L511.9 298.1L512.1 293.4L512.3 295.9L512.5 295.2L512.7 296.2L512.9 293.3L513.2 295.6L513.4 295.8L513.6 296.6L513.8 294.4L514.0 294.2L514.2 298.0L514.4 295.2L514.7 301.3L514.9 299.8L515.1 299.3L515.3 300.1L515.5 297.2L515.7 302.2L515.9 302.9L516.2 298.9L516.4 301.8L516.6 299.8L516.8 300.0L517.0 302.2L517.2 301.9L517.4 299.1L517.7 301.6L517.9 301.8L518.1 300.7L518.3 304.5L518.5 306.1L518.7 304.4L518.9 299.9L519.2 302.8L519.4 299.2L519.6 302.7L519.8 303.3L520.0 307.3L520.2 310.6L520.4 312.2L520.6 307.1L520.9 310.7L521.1 311.3L521.3 307.5L521.5 308.7L521.7 313.2L521.9 309.9L522.1 307.6L522.4 309.3L522.6 313.9L522.8 310.4L523.0 318.2L523.2 314.6L523.4 315.6L523.6 312.0L523.9 318.7L524.1 318.6L524.3 317.7L524.5 315.7L524.7 321.7L524.9 318.2L525.1 320.4L525.4 321.3L525.6 324.0L525.8 320.5L526.0 321.8L526.2 321.8L526.4 323.2L526.6 324.6L526.8 327.2L527.1 325.8L527.3 324.5L527.5 326.9L527.7 326.7L527.9 326.6L528.1 328.7L528.3 330.9L528.6 333.5L528.8 328.7L529.0 333.0L529.2 333.8L529.4 334.0L529.6 333.0L529.8 333.7L530.1 338.4L530.3 337.7L530.5 335.4L530.7 340.7L530.9 339.9L531.1 343.0L531.3 345.3L531.6 345.8L531.8 343.1L532.0 343.6L532.2 351.6L532.4 346.7L532.6 347.6L532.8 351.7L533.0 349.0L533.3 351.7L533.5 347.3L533.7 354.0L533.9 349.9L534.1 356.3L534.3 356.9L534.5 351.7L534.8 358.1L535.0 358.2L535.2 362.0L535.4 358.6L535.6 356.5L535.8 361.7L536.0 362.6L536.3 362.9L536.5 365.7L536.7 368.0L536.9 365.7L537.1 367.6L537.3 372.1L537.5 374.7L537.8 368.6L538.0 373.9L538.2 370.6L538.4 370.5L538.6 373.9L538.8 376.2L539.0 382.0L539.2 372.9L539.5 375.5L539.7 380.6L539.9 382.4L540.1 379.5L540.3 386.8L540.5 381.0L540.7 381.5L541.0 387.8L541.2 388.5L541.4 382.4L541.6 389.1L541.8 388.5L542.0 390.8L542.2 396.1L542.5 389.5L542.7 389.0L542.9 395.5L543.1 397.3L543.3 392.3L543.5 400.9L543.7 398.9L544.0 402.6L544.2 404.2L544.4 402.8L544.6 408.7L544.8 406.3L545.0 404.2L545.2 407.2L545.4 409.2L545.7 401.2L545.9 406.5L546.1 410.8L546.3 407.8L546.5 409.9L546.7 412.1L546.9 411.7L547.2 415.5L547.4 417.0L547.6 412.1L547.8 417.4L548.0 414.8L548.2 424.6L548.4 423.0L548.7 424.0L548.9 422.4L549.1 423.8L549.3 422.3L549.5 424.4L549.7 426.7L549.9 426.4L550.2 426.9L550.4 429.0L550.6 436.8L550.8 432.8L551.0 431.1L551.2 434.6L551.4 431.1L551.6 436.9L551.9 436.4L552.1 439.5L552.3 438.8L552.5 436.7L552.7 436.9L552.9 439.2L553.1 440.6L553.4 443.0L553.6 447.4L553.8 443.6L554.0 447.7L554.2 446.4L554.4 448.3L554.6 446.8L554.9 451.5L555.1 448.8L555.3 451.7L555.5 448.6L555.7 453.9L555.9 454.9L556.1 460.1L556.4 454.1L556.6 457.1L556.8 463.6L557.0 457.8L557.2 458.7L557.4 461.6L557.6 458.4L557.8 462.8L558.1 463.8L558.3 463.3L558.5 467.9L558.7 464.6L558.9 469.0L559.1 467.1L559.3 465.8L559.6 470.3L559.8 471.8L560.0 466.9L560.2 471.8L560.4 470.0L560.6 472.1L560.8 473.2L561.1 471.6L561.3 476.1L561.5 480.6L561.7 478.2L561.9 479.9L562.1 481.9L562.3 480.9L562.6 479.7L562.8 480.2L563.0 482.0L563.2 483.4L563.4 483.6L563.6 485.6L563.8 487.4L564.0 485.8L564.3 484.6L564.5 489.3L564.7 488.2L564.9 487.2L565.1 492.1L565.3 489.4L565.5 490.7L565.8 489.2L566.0 494.7L566.2 494.3L566.4 490.0L566.6 489.4L566.8 493.7L567.0 492.4L567.3 498.1L567.5 494.7L567.7 497.1L567.9 496.8L568.1 502.1L568.3 499.3L568.5 498.6L568.8 498.2L569.0 500.5L569.2 501.1L569.4 500.4L569.6 499.1L569.8 507.5L570.0 509.2L570.2 505.1L570.5 501.7L570.7 501.8L570.9 505.0L571.1 509.8L571.3 506.5L571.5 510.1L571.7 506.9L572.0 510.0L572.2 505.9L572.4 513.0L572.6 507.5L572.8 513.4L573.0 510.4L573.2 511.9L573.5 516.4L573.7 518.4L573.9 514.5L574.1 515.3L574.3 516.5L574.5 513.7L574.7 515.2L575.0 514.9L575.2 519.4L575.4 517.6L575.6 518.1L575.8 515.5L576.0 515.3L576.2 520.1L576.5 519.3L576.7 525.7L576.9 514.9L577.1 519.5L577.3 519.5L577.5 520.3L577.7 521.9L577.9 526.2L578.2 524.4L578.4 524.5L578.6 523.3L578.8 525.9L579.0 522.9L579.2 522.1L579.4 523.5L579.7 523.9L579.9 518.6L580.1 526.7L580.3 526.7L580.5 523.2L580.7 526.4L580.9 521.4L581.2 527.6L581.4 526.2L581.6 522.1L581.8 530.6L582.0 524.1L582.2 526.2L582.4 526.6L582.7 523.8L582.9 528.9L583.1 526.0L583.3 529.0L583.5 524.6L583.7 531.0L583.9 528.2L584.1 529.5L584.4 531.0L584.6 525.9L584.8 529.5L585.0 527.1L585.2 534.4L585.4 531.2L585.6 531.1L585.9 527.8L586.1 532.8L586.3 527.9L586.5 526.4L586.7 528.6L586.9 528.4L587.1 529.7L587.4 530.9L587.6 528.8L587.8 528.1L588.0 524.9L588.2 528.0L588.4 530.2L588.6 526.3L588.9 530.8L589.1 533.2L589.3 528.7L589.5 529.7L589.7 526.2L589.9 527.8L590.1 530.8L590.3 529.2L590.6 528.5L590.8 521.8L591.0 530.0L591.2 529.3L591.4 523.3L591.6 522.5L591.8 526.9L592.1 522.3L592.3 525.7L592.5 527.6L592.7 525.2L592.9 522.5L593.1 520.8L593.3 524.7L593.6 527.1L593.8 523.0L594.0 524.4L594.2 524.6L594.4 521.5L594.6 521.7L594.8 524.9L595.1 523.2L595.3 517.6L595.5 521.2L595.7 515.8L595.9 526.0L596.1 522.2L596.3 519.1L596.5 521.1L596.8 517.8L597.0 517.6L597.2 520.7L597.4 512.3L597.6 511.9L597.8 520.1L598.0 516.1L598.3 518.2L598.5 515.4L598.7 515.0L598.9 513.9L599.1 510.0L599.3 509.2L599.5 512.5L599.8 510.0L600.0 508.9L600.2 513.9L600.4 509.2L600.6 511.3L600.8 505.2L601.0 504.4L601.3 506.1L601.5 502.6L601.7 506.3L601.9 506.9L602.1 500.9L602.3 503.6L602.5 502.2L602.7 505.6L603.0 499.8L603.2 501.1L603.4 500.6L603.6 502.3L603.8 500.7L604.0 499.1L604.2 497.0L604.5 493.4L604.7 500.3L604.9 498.6L605.1 496.7L605.3 495.4L605.5 494.9L605.7 494.9L606.0 492.9L606.2 489.3L606.4 490.7L606.6 491.1L606.8 486.5L607.0 486.8L607.2 488.8L607.5 482.5L607.7 486.3L607.9 486.3L608.1 482.0L608.3 484.2L608.5 483.8L608.7 476.9L608.9 480.7L609.2 481.1L609.4 477.3L609.6 477.2L609.8 480.9L610.0 476.2L610.2 472.9L610.4 474.4L610.7 471.2L610.9 474.3L611.1 468.3L611.3 470.4L611.5 470.5L611.7 470.8L611.9 464.4L612.2 465.9L612.4 465.8L612.6 463.0L612.8 463.3L613.0 462.8L613.2 460.1L613.4 461.2L613.7 456.7L613.9 452.2L614.1 461.4L614.3 456.0L614.5 456.2L614.7 452.5L614.9 458.1L615.1 446.7L615.4 449.1L615.6 444.9L615.8 446.3L616.0 450.7L616.2 447.5L616.4 442.0L616.6 442.3L616.9 446.0L617.1 442.4L617.3 438.6L617.5 437.8L617.7 441.0L617.9 438.0L618.1 436.6L618.4 437.5L618.6 436.5L618.8 432.4L619.0 433.9L619.2 433.0L619.4 428.9L619.6 427.9L619.9 428.3L620.1 429.8L620.3 429.8L620.5 429.5L620.7 427.2L620.9 423.8L621.1 426.9L621.3 424.7L621.6 424.1L621.8 420.0L622.0 420.6L622.2 414.6L622.4 414.1L622.6 416.3L622.8 415.7L623.1 411.6L623.3 415.6L623.5 409.9L623.7 414.5L623.9 411.2L624.1 408.4L624.3 407.9L624.6 411.3L624.8 408.3L625.0 404.9L625.2 408.2L625.4 398.7L625.6 403.9L625.8 400.8L626.1 393.8L626.3 399.8L626.5 397.4L626.7 395.7L626.9 396.5L627.1 397.7L627.3 398.1L627.5 392.6L627.8 392.7L628.0 387.8L628.2 389.7L628.4 387.5L628.6 390.9L628.8 388.1L629.0 385.2L629.3 386.3L629.5 382.7L629.7 384.5L629.9 383.2L630.1 380.5L630.3 383.5L630.5 373.2L630.8 381.9L631.0 374.0L631.2 372.9L631.4 376.5L631.6 373.8L631.8 371.5L632.0 372.1L632.3 370.5L632.5 372.0L632.7 369.0L632.9 370.7L633.1 371.3L633.3 368.1L633.5 364.8L633.7 365.0L634.0 363.9L634.2 364.9L634.4 362.7L634.6 364.2L634.8 361.6L635.0 360.2L635.2 361.6L635.5 354.9L635.7 362.8L635.9 355.4L636.1 357.0L636.3 352.7L636.5 355.7L636.7 351.5L637.0 354.7L637.2 353.9L637.4 351.7L637.6 350.2L637.8 352.0L638.0 345.7L638.2 350.6L638.5 347.7L638.7 346.0L638.9 345.8L639.1 342.1L639.3 346.3L639.5 340.7L639.7 339.5L640.0 341.5L640.2 335.9L640.4 344.1L640.6 340.8L640.8 342.2L641.0 344.3L641.2 343.0L641.4 335.6L641.7 338.4L641.9 341.0L642.1 334.0L642.3 336.8L642.5 333.9L642.7 333.4L642.9 327.8L643.2 336.8L643.4 329.5L643.6 322.9L643.8 328.7L644.0 327.2L644.2 327.5L644.4 324.5L644.7 325.0L644.9 323.8L645.1 327.6L645.3 324.1L645.5 322.3L645.7 322.8L645.9 320.9L646.2 318.9L646.4 317.6L646.6 319.8L646.8 318.3L647.0 320.2L647.2 319.5L647.4 316.2L647.6 320.7L647.9 313.9L648.1 319.2L648.3 316.0L648.5 317.3L648.7 316.9L648.9 313.0L649.1 318.1L649.4 309.6L649.6 316.8L649.8 310.3L650.0 312.3L650.2 311.9L650.4 309.8L650.6 306.9L650.9 309.2L651.1 311.0L651.3 308.7L651.5 305.8L651.7 310.4L651.9 306.7L652.1 303.8L652.4 308.1L652.6 306.5L652.8 303.4L653.0 306.8L653.2 305.0L653.4 305.2L653.6 303.5L653.8 306.6L654.1 307.7L654.3 300.2L654.5 304.7L654.7 304.8L654.9 299.8L655.1 303.2L655.3 301.9L655.6 303.9L655.8 301.5L656.0 299.5L656.2 297.5L656.4 297.9L656.6 302.7L656.8 300.2L657.1 297.3L657.3 301.0L657.5 300.9L657.7 299.1L657.9 295.3L658.1 300.8L658.3 295.6L658.6 295.6L658.8 298.9L659.0 300.2L659.2 297.6L659.4 297.6L659.6 298.2L659.8 296.2L660.0 290.4L660.3 293.7L660.5 292.9L660.7 296.0L660.9 292.7L661.1 297.4L661.3 294.9L661.5 292.5L661.8 289.6L662.0 293.9L662.2 294.9L662.4 295.3L662.6 297.6L662.8 293.6L663.0 290.9L663.3 293.3L663.5 295.2L663.7 295.7L663.9 297.5L664.1 291.6L664.3 295.1L664.5 292.1L664.8 297.5L665.0 293.4L665.2 293.3L665.4 295.8L665.6 296.9L665.8 289.1L666.0 291.5L666.2 292.5L666.5 297.6L666.7 292.4L666.9 294.6L667.1 291.8L667.3 296.8L667.5 297.2L667.7 299.5L668.0 301.0L668.2 301.5L668.4 298.4L668.6 297.6L668.8 294.0L669.0 293.1L669.2 299.9L669.5 304.4L669.7 298.1L669.9 298.2L670.1 300.5L670.3 302.2L670.5 301.8L670.7 299.9L671.0 300.3L671.2 305.4L671.4 301.7L671.6 304.3L671.8 304.6L672.0 302.2L672.2 305.0L672.4 302.6L672.7 310.0L672.9 302.7L673.1 303.9L673.3 306.1L673.5 307.5L673.7 309.8L673.9 309.1L674.2 302.1L674.4 306.1L674.6 307.9L674.8 309.8L675.0 310.3L675.2 312.1L675.4 308.8L675.7 307.7L675.9 313.3L676.1 309.6L676.3 312.9L676.5 311.4L676.7 315.2L676.9 311.4L677.2 309.7L677.4 316.1L677.6 316.0L677.8 313.4L678.0 318.2L678.2 320.4L678.4 324.0L678.6 319.7L678.9 316.0L679.1 321.6L679.3 320.8L679.5 327.3L679.7 323.0L679.9 322.9L680.1 324.8L680.4 325.1L680.6 327.6L680.8 327.7L681.0 323.0L681.2 329.7L681.4 324.1L681.6 331.7L681.9 325.7L682.1 330.0L682.3 328.8L682.5 331.7L682.7 330.7L682.9 326.7L683.1 339.5L683.4 335.9L683.6 334.1L683.8 332.2L684.0 340.1L684.2 337.5L684.4 336.2L684.6 340.6L684.8 340.0L685.1 340.3L685.3 339.3L685.5 341.6L685.7 342.5L685.9 346.1L686.1 346.6L686.3 340.5L686.6 350.4L686.8 348.9L687.0 350.7L687.2 349.6L687.4 353.0L687.6 349.7L687.8 354.5L688.1 355.0L688.3 358.4L688.5 356.6L688.7 360.3L688.9 358.0L689.1 356.9L689.3 363.5L689.6 355.3L689.8 359.0L690.0 361.5L690.2 363.9L690.4 361.3L690.6 363.8L690.8 367.0L691.0 366.4L691.3 367.5L691.5 371.0L691.7 366.3L691.9 374.3L692.1 370.7L692.3 375.2L692.5 373.9L692.8 375.4L693.0 375.3L693.2 372.8L693.4 379.0L693.6 377.4L693.8 378.8L694.0 380.2L694.3 384.8L694.5 382.9L694.7 388.1L694.9 382.0L695.1 382.1L695.3 386.5L695.5 386.6L695.8 389.0L696.0 394.7L696.2 391.8L696.4 389.6L696.6 393.3L696.8 396.2L697.0 401.5L697.3 393.4L697.5 392.9L697.7 393.7L697.9 392.8L698.1 405.9L698.3 401.2L698.5 400.6L698.7 404.8L699.0 403.8L699.2 402.4L699.4 407.9L699.6 405.8L699.8 411.0L700.0 415.9L700.2 410.5L700.5 410.2L700.7 411.3L700.9 411.5L701.1 417.3L701.3 413.9L701.5 423.0L701.7 417.2L702.0 422.1L702.2 419.6L702.4 423.8L702.6 421.2L702.8 420.5L703.0 420.9L703.2 426.1L703.5 422.1L703.7 426.0L703.9 424.1L704.1 428.8L704.3 432.5L704.5 430.5L704.7 434.1L704.9 435.2L705.2 439.2L705.4 434.2L705.6 432.2L705.8 439.5L706.0 438.2L706.2 442.5L706.4 438.5L706.7 437.6L706.9 441.6L707.1 440.6L707.3 441.5L707.5 444.8L707.7 443.3L707.9 450.6L708.2 447.6L708.4 447.7L708.6 447.3L708.8 446.6L709.0 451.4L709.2 454.1L709.4 453.9L709.7 454.5L709.9 456.9L710.1 459.1L710.3 455.6L710.5 460.4L710.7 458.2L710.9 459.1L711.1 460.2L711.4 458.2L711.6 460.8L711.8 462.1L712.0 459.6L712.2 465.3L712.4 468.8L712.6 467.5L712.9 464.4L713.1 470.4L713.3 470.9L713.5 468.3L713.7 464.0L713.9 472.3L714.1 469.2L714.4 468.9L714.6 475.0L714.8 476.2L715.0 475.9L715.2 477.9L715.4 476.9L715.6 480.9L715.9 479.1L716.1 479.6L716.3 474.7L716.5 484.4L716.7 481.4L716.9 484.4L717.1 483.3L717.3 485.1L717.6 486.8L717.8 486.0L718.0 488.1L718.2 486.4L718.4 485.0L718.6 487.1L718.8 488.9L719.1 488.1L719.3 491.1L719.5 490.0L719.7 485.4L719.9 491.6L720.1 488.1L720.3 492.0L720.6 495.7L720.8 494.6L721.0 498.7L721.2 495.3L721.4 494.2L721.6 496.8L721.8 496.4L722.1 499.1L722.3 501.0L722.5 505.3L722.7 499.9L722.9 499.3L723.1 500.2L723.3 503.6L723.5 502.1L723.8 502.8L724.0 503.1L724.2 507.0L724.4 508.9L724.6 511.6L724.8 508.2L725.0 508.7L725.3 510.4L725.5 508.4L725.7 512.7L725.9 509.3L726.1 506.4L726.3 511.4L726.5 516.0L726.8 512.0L727.0 514.0L727.2 512.9L727.4 514.2L727.6 515.5L727.8 513.6L728.0 512.2L728.3 515.8L728.5 515.5L728.7 520.2L728.9 511.5L729.1 519.4L729.3 517.5L729.5 521.6L729.7 517.1L730.0 521.2L730.2 519.0L730.4 521.2L730.6 520.8L730.8 521.2L731.0 523.0L731.2 521.5L731.5 523.5L731.7 522.7L731.9 523.2L732.1 525.2L732.3 522.3L732.5 521.5L732.7 523.1L733.0 527.7L733.2 522.7L733.4 522.2L733.6 528.9L733.8 522.3L734.0 531.2L734.2 524.6L734.5 524.0L734.7 522.7L734.9 522.4L735.1 525.2L735.3 524.2L735.5 522.9L735.7 522.4L735.9 526.4L736.2 525.2L736.4 530.5L736.6 529.6L736.8 524.3L737.0 526.9L737.2 531.0L737.4 528.6L737.7 532.6L737.9 528.6L738.1 526.0L738.3 533.0L738.5 528.8L738.7 527.9L738.9 529.2L739.2 528.6L739.4 530.7L739.6 531.0L739.8 528.9L740.0 533.7L740.2 529.3L740.4 532.8L740.7 530.9L740.9 525.3L741.1 530.0L741.3 530.2L741.5 526.8L741.7 530.8L741.9 530.3L742.1 528.9L742.4 527.1L742.6 531.0L742.8 528.6L743.0 533.2L743.2 531.5L743.4 528.4L743.6 529.7L743.9 527.3L744.1 525.8L744.3 532.9L744.5 526.6L744.7 526.9L744.9 527.9L745.1 526.5L745.4 528.6L745.6 525.4L745.8 525.8L746.0 521.4L746.2 530.6L746.4 528.1L746.6 524.2L746.9 522.4L747.1 527.8L747.3 527.1L747.5 525.4L747.7 522.9L747.9 525.8L748.1 520.7L748.3 518.9L748.6 523.0L748.8 519.2L749.0 525.5L749.2 523.9L749.4 519.4L749.6 518.3L749.8 523.5L750.1 520.9L750.3 518.1L750.5 518.9L750.7 520.4L750.9 518.0L751.1 515.4L751.3 518.3L751.6 519.8L751.8 512.7L752.0 516.7L752.2 520.2L752.4 513.8L752.6 511.7L752.8 510.7L753.1 510.5L753.3 512.4L753.5 511.0L753.7 510.1L753.9 506.4L754.1 509.3L754.3 513.4L754.6 506.3L754.8 507.9L755.0 508.1L755.2 507.6L755.4 504.4L755.6 505.7L755.8 504.4L756.0 504.4L756.3 501.3L756.5 506.0L756.7 501.4L756.9 500.4L757.1 501.1L757.3 496.5L757.5 495.4L757.8 499.6L758.0 495.0L758.2 499.2L758.4 491.5L758.6 492.8L758.8 496.4L759.0 492.3L759.3 492.2L759.5 493.7L759.7 495.2L759.9 491.7L760.1 487.9L760.3 487.2L760.5 487.8L760.8 486.8L761.0 489.4L761.2 487.9L761.4 485.2L761.6 485.3L761.8 486.4L762.0 486.3L762.2 479.2L762.5 481.5L762.7 479.4L762.9 482.1L763.1 481.9L763.3 475.5L763.5 476.1L763.7 473.6L764.0 477.0L764.2 475.3L764.4 472.5L764.6 473.1L764.8 468.1L765.0 467.2L765.2 471.4L765.5 466.0L765.7 468.2L765.9 464.6L766.1 464.8L766.3 465.4L766.5 463.2L766.7 458.0L767.0 459.2L767.2 459.9L767.4 460.8L767.6 452.8L767.8 454.5L768.0 456.0L768.2 454.2L768.4 454.8L768.7 452.4L768.9 450.3L769.1 451.6L769.3 451.0L769.5 451.1L769.7 450.5L769.9 448.1L770.2 445.8L770.4 451.5L770.6 442.9L770.8 446.3L771.0 440.5L771.2 438.9L771.4 437.0L771.7 438.2L771.9 440.7L772.1 432.8L772.3 437.9L772.5 431.8L772.7 436.8L772.9 433.9L773.2 435.6L773.4 431.7L773.6 429.0L773.8 427.1L774.0 432.7L774.2 428.6L774.4 428.6L774.6 422.7L774.9 423.7L775.1 420.7L775.3 422.3L775.5 417.1L775.7 419.8L775.9 417.5L776.1 416.5L776.4 416.6L776.6 418.2L776.8 415.9L777.0 410.5L777.2 409.6L777.4 413.0L777.6 409.7L777.9 414.3L778.1 406.4L778.3 408.4L778.5 412.8L778.7 408.5L778.9 405.9L779.1 405.1L779.4 403.2L779.6 404.2L779.8 405.7L780.0 396.0L780.2 401.6L780.4 401.0L780.6 400.9L780.8 397.0L781.1 392.0L781.3 391.1L781.5 388.1L781.7 393.8L781.9 391.4L782.1 386.7L782.3 389.6L782.6 387.1L782.8 382.5L783.0 388.9L783.2 387.9L783.4 382.8L783.6 385.0L783.8 383.1L784.1 378.3L784.3 379.4L784.5 375.8L784.7 380.4L784.9 377.5L785.1 375.7L785.3 374.8L785.6 380.0L785.8 376.6L786.0 371.6L786.2 376.9L786.4 375.4L786.6 372.2L786.8 370.6L787.0 366.3L787.3 366.0L787.5 367.8L787.7 368.2L787.9 367.2L788.1 360.9L788.3 362.1L788.5 360.7L788.8 366.5L789.0 365.3L789.2 356.9L789.4 353.3L789.6 356.6L789.8 359.0L790.0 360.4L790.3 358.6L790.5 353.4L790.7 352.8L790.9 354.4L791.1 350.2L791.3 347.2L791.5 349.0L791.8 350.8L792.0 351.6L792.2 348.8L792.4 348.9L792.6 341.7L792.8 346.4L793.0 340.3L793.2 345.2L793.5 342.4L793.7 341.0L793.9 341.9L794.1 340.3L794.3 339.7L794.5 339.7L794.7 338.1L795.0 334.4L795.2 332.0L795.4 336.5L795.6 331.6L795.8 334.8L796.0 333.8L796.2 332.2L796.5 332.7L796.7 329.4L796.9 332.2L797.1 330.7L797.3 329.2L797.5 330.7L797.7 330.4L798.0 326.8L798.2 324.8L798.4 327.2L798.6 328.3L798.8 326.9L799.0 325.3L799.2 324.8L799.4 323.7L799.7 317.6L799.9 324.9L800.1 324.2L800.3 322.3L800.5 323.8L800.7 317.2L800.9 322.7L801.2 320.5L801.4 320.5L801.6 316.6L801.8 317.2L802.0 317.9L802.2 316.8L802.4 313.6L802.7 313.3L802.9 309.2L803.1 315.2L803.3 309.2L803.5 307.0L803.7 310.3L803.9 315.8L804.2 310.3L804.4 307.9L804.6 308.0L804.8 308.9L805.0 311.2L805.2 306.6L805.4 306.9L805.6 307.3L805.9 311.7L806.1 304.9L806.3 305.6L806.5 304.3L806.7 306.8L806.9 300.9L807.1 302.2L807.4 303.3L807.6 306.7L807.8 305.2L808.0 307.4L808.2 302.2L808.4 304.1L808.6 303.1L808.9 307.8L809.1 300.9L809.3 304.4L809.5 306.6L809.7 296.3L809.9 295.8L810.1 300.3L810.4 305.3L810.6 299.8L810.8 297.1L811.0 301.2L811.2 296.4L811.4 295.9L811.6 296.7L811.8 296.3L812.1 300.6L812.3 298.9L812.5 300.3L812.7 301.0L812.9 294.9L813.1 297.5L813.3 294.5L813.6 297.1L813.8 298.9L814.0 292.7L814.2 293.0L814.4 296.4L814.6 294.4L814.8 300.3L815.1 297.0L815.3 292.2L815.5 294.9L815.7 295.5L815.9 291.6L816.1 291.5L816.3 297.6L816.6 296.2L816.8 294.3L817.0 297.7L817.2 293.5L817.4 293.2L817.6 294.8L817.8 298.7L818.1 295.5L818.3 295.1L818.5 294.1L818.7 295.2L818.9 296.0L819.1 290.8L819.3 291.8L819.5 297.0L819.8 298.7L820.0 292.8L820.2 297.4L820.4 298.8L820.6 295.3L820.8 299.3L821.0 298.3L821.3 297.0L821.5 296.4L821.7 298.0L821.9 294.0L822.1 295.2L822.3 292.4L822.5 296.1L822.8 296.8L823.0 295.4L823.2 298.5L823.4 295.7L823.6 300.1L823.8 300.3L824.0 305.8L824.3 301.6L824.5 298.9L824.7 298.9L824.9 300.2L825.1 299.8L825.3 294.9L825.5 301.2L825.7 301.3L826.0 302.5L826.2 301.1L826.4 306.1L826.6 302.1L826.8 298.8L827.0 301.6L827.2 302.3L827.5 307.1L827.7 309.2L827.9 306.0L828.1 305.1L828.3 308.5L828.5 309.1L828.7 311.3L829.0 311.1L829.2 304.9L829.4 308.7L829.6 307.4L829.8 310.9L830.0 313.1L830.2 312.7L830.5 310.9L830.7 314.0L830.9 310.9L831.1 312.1L831.3 317.6L831.5 314.0L831.7 314.0L831.9 310.7L832.2 319.4L832.4 318.1L832.6 318.2L832.8 319.6L833.0 315.3L833.2 322.5L833.4 321.0L833.7 318.7L833.9 317.8L834.1 321.8L834.3 320.2L834.5 324.9L834.7 322.2L834.9 326.2L835.2 323.2L835.4 330.9L835.6 325.5L835.8 330.1L836.0 330.2L836.2 330.4L836.4 330.0L836.7 332.2L836.9 335.7L837.1 335.2L837.3 333.2L837.5 333.0L837.7 336.0L837.9 336.4L838.1 339.6L838.4 336.9L838.6 340.0L838.8 344.0L839.0 336.0L839.2 343.5L839.4 342.8L839.6 340.0L839.9 346.0L840.1 349.5L840.3 344.7L840.5 345.3L840.7 349.6L840.9 350.3L841.1 347.5L841.4 352.0L841.6 351.8L841.8 353.4L842.0 347.9L842.2 358.5L842.4 353.0L842.6 356.8L842.9 353.5L843.1 364.5L843.3 358.3L843.5 359.4L843.7 364.9L843.9 368.4L844.1 358.1L844.3 363.0L844.6 366.4L844.8 368.3L845.0 364.9L845.2 365.4L845.4 370.5L845.6 369.8L845.8 367.4L846.1 374.2L846.3 370.9L846.5 370.7L846.7 379.7L846.9 379.3L847.1 371.4L847.3 378.4L847.6 376.2L847.8 378.9L848.0 378.4L848.2 378.3L848.4 378.6L848.6 381.5L848.8 387.6L849.1 388.3L849.3 382.0L849.5 389.7L849.7 389.4L849.9 393.6L850.1 394.0L850.3 392.9L850.5 391.4L850.8 393.8L851.0 396.1L851.2 398.6L851.4 401.9L851.6 396.7L851.8 402.4L852.0 397.5L852.3 399.7L852.5 406.9L852.7 403.0L852.9 400.9L853.1 408.7L853.3 405.7L853.5 406.0L853.8 407.6L854.0 409.4L854.2 406.0L854.4 411.0L854.6 415.0L854.8 415.8L855.0 416.3L855.3 417.6L855.5 417.1L855.7 421.2L855.9 413.3L856.1 418.7L856.3 421.5L856.5 417.9L856.7 419.2L857.0 427.1L857.2 423.4L857.4 428.5L857.6 428.8L857.8 426.5L858.0 429.5L858.2 428.4L858.5 432.2L858.7 429.7L858.9 431.7L859.1 438.2L859.3 435.0L859.5 441.5L859.7 439.8L860.0 436.6L860.2 436.2L860.4 442.5L860.6 442.0L860.8 442.4L861.0 445.2L861.2 439.7L861.5 441.6L861.7 444.9L861.9 447.1L862.1 447.0L862.3 448.3L862.5 450.4L862.7 453.2L862.9 451.1L863.2 450.7L863.4 452.8L863.6 450.0L863.8 459.1L864.0 456.4L864.2 454.6L864.4 454.1L864.7 458.4L864.9 458.3L865.1 459.4L865.3 459.6L865.5 461.3L865.7 461.9L865.9 461.0L866.2 464.6L866.4 465.0L866.6 468.7L866.8 468.8L867.0 467.8L867.2 466.9L867.4 470.0L867.7 465.9L867.9 472.2L868.1 471.1L868.3 473.6L868.5 469.8L868.7 474.7L868.9 478.1L869.1 477.6L869.4 482.8L869.6 475.5L869.8 472.1L870.0 479.9L870.2 478.0L870.4 478.3L870.6 482.0L870.9 483.8L871.1 479.7L871.3 486.5L871.5 483.0L871.7 483.8L871.9 488.3L872.1 491.6L872.4 485.5L872.6 488.3L872.8 487.2L873.0 492.6L873.2 491.6L873.4 489.7L873.6 491.3L873.9 492.1L874.1 494.4L874.3 493.3L874.5 493.9L874.7 493.1L874.9 494.8L875.1 495.3L875.4 497.5L875.6 491.5L875.8 501.7L876.0 497.5L876.2 506.1L876.4 502.1L876.6 498.4L876.8 506.9L877.1 499.4L877.3 505.9L877.5 501.9L877.7 505.7L877.9 506.5L878.1 506.7L878.3 504.0L878.6 507.3L878.8 505.1L879.0 507.6L879.2 510.4L879.4 505.1L879.6 510.8L879.8 510.5L880.1 506.6L880.3 507.0L880.5 510.5L880.7 508.8L880.9 510.7L881.1 515.3L881.3 514.8L881.6 513.5L881.8 511.0L882.0 516.1L882.2 516.4L882.4 517.8L882.6 516.6L882.8 518.9L883.0 515.9L883.3 515.2L883.5 517.4L883.7 523.3L883.9 522.3L884.1 519.3L884.3 516.0L884.5 521.2L884.8 518.2L885.0 520.8L885.2 517.9L885.4 524.3L885.6 524.7L885.8 523.4L886.0 522.0L886.3 522.1L886.5 517.6L886.7 522.1L886.9 526.3L887.1 521.7L887.3 529.0L887.5 522.5L887.8 524.8L888.0 527.4L888.2 526.3L888.4 526.7L888.6 524.2L888.8 526.4L889.0 523.4L889.2 528.0L889.5 522.1L889.7 520.8L889.9 525.6L890.1 523.4L890.3 527.3L890.5 526.0L890.7 526.2L891.0 532.9L891.2 524.8L891.4 530.4L891.6 529.0L891.8 529.4L892.0 526.0L892.2 528.4L892.5 528.9L892.7 529.0L892.9 529.9L893.1 525.8L893.3 531.4L893.5 528.3L893.7 529.2L894.0 528.5L894.2 530.3L894.4 530.8L894.6 527.0L894.8 527.2L895.0 530.9L895.2 532.5L895.4 529.9L895.7 528.1L895.9 531.1L896.1 531.1L896.3 534.9L896.5 527.7L896.7 530.4L896.9 525.9L897.2 526.8L897.4 527.7L897.6 527.3L897.8 526.2L898.0 527.0L898.2 526.3L898.4 524.2L898.7 528.7L898.9 530.2L899.1 526.5L899.3 527.5L899.5 521.2L899.7 526.3L899.9 528.5L900.2 525.5L900.4 525.3L900.6 521.0L900.8 523.8L901.0 521.7L901.2 523.6L901.4 526.3L901.6 523.9L901.9 525.0L902.1 517.1L902.3 518.5L902.5 523.5L902.7 528.0L902.9 523.0L903.1 521.7L903.4 522.5L903.6 519.4L903.8 518.8L904.0 517.5L904.2 517.6L904.4 520.1L904.6 519.3L904.9 515.8L905.1 516.2L905.3 522.0L905.5 515.0L905.7 512.2L905.9 518.4L906.1 515.2L906.4 509.6L906.6 514.5L906.8 510.0L907.0 514.6L907.2 512.7L907.4 513.6L907.6 511.6L907.8 510.0L908.1 511.8L908.3 509.1L908.5 510.4L908.7 505.4L908.9 507.4L909.1 504.2L909.3 508.8L909.6 505.7L909.8 502.0L910.0 506.2L910.2 500.4L910.4 503.4L910.6 500.8L910.8 500.9L911.1 501.0L911.3 498.8L911.5 497.8L911.7 500.4L911.9 495.2L912.1 498.8L912.3 496.6L912.6 493.9L912.8 498.6L913.0 493.7L913.2 492.1L913.4 490.5L913.6 490.0L913.8 493.9L914.0 493.5L914.3 489.2L914.5 483.7L914.7 485.6L914.9 488.9L915.1 485.2L915.3 484.4L915.5 484.8L915.8 484.8L916.0 485.9L916.2 485.0L916.4 479.8L916.6 480.2L916.8 479.3L917.0 475.9L917.3 475.0L917.5 480.5L917.7 476.2L917.9 474.8L918.1 475.8L918.3 473.6L918.5 473.8L918.8 465.6L919.0 471.1L919.2 467.0L919.4 471.4L919.6 472.9L919.8 463.5L920.0 464.5L920.2 465.5L920.5 465.0L920.7 461.0L920.9 460.6L921.1 463.1L921.3 456.6L921.5 455.3L921.7 458.8L922.0 463.5L922.2 452.4L922.4 452.6L922.6 455.2L922.8 456.2L923.0 451.6L923.2 448.2L923.5 447.9L923.7 449.8L923.9 451.0L924.1 452.0L924.3 449.0L924.5 447.9L924.7 446.8L925.0 440.0L925.2 444.9L925.4 447.3L925.6 438.4L925.8 438.0L926.0 438.3L926.2 435.4L926.4 436.0L926.7 432.3L926.9 436.4L927.1 432.4L927.3 434.2L927.5 431.2L927.7 428.2L927.9 427.9L928.2 426.9L928.4 424.4L928.6 421.5L928.8 429.6L929.0 424.8L929.2 419.9L929.4 421.8L929.7 418.1L929.9 414.6L930.1 416.2L930.3 415.5L930.5 415.7L930.7 416.5L930.9 414.8L931.2 409.7L931.4 408.1L931.6 408.4L931.8 410.4L932.0 412.6L932.2 408.0L932.4 408.6L932.7 404.4L932.9 407.9L933.1 407.7L933.3 400.1L933.5 402.9L933.7 401.0L933.9 400.4L934.1 399.9L934.4 399.9L934.6 397.9L934.8 398.5L935.0 393.8L935.2 395.4L935.4 396.7L935.6 393.3L935.9 389.8L936.1 390.1L936.3 390.2L936.5 391.9L936.7 389.4L936.9 386.8L937.1 385.8L937.4 381.2L937.6 381.6L937.8 381.7L938.0 385.1L938.2 376.6L938.4 380.0L938.6 384.5L938.9 374.9L939.1 376.7L939.3 374.6L939.5 375.4L939.7 373.6L939.9 376.0L940.1 373.5L940.3 369.9L940.6 367.0L940.8 373.3L941.0 367.7L941.2 366.4L941.4 371.1L941.6 366.3L941.8 366.0L942.1 367.4L942.3 364.8L942.5 361.4L942.7 359.0L942.9 362.5L943.1 359.9L943.3 356.9L943.6 356.8L943.8 360.8L944.0 353.9L944.2 350.4L944.4 354.9L944.6 347.9L944.8 357.4L945.1 355.5L945.3 351.4L945.5 346.3L945.7 348.8L945.9 347.5L946.1 349.9L946.3 348.0L946.5 347.0L946.8 343.0L947.0 345.8L947.2 345.7L947.4 342.7L947.6 338.0L947.8 346.2L948.0 343.5L948.3 338.4L948.5 340.2L948.7 334.7L948.9 341.5L949.1 340.5L949.3 333.3L949.5 335.3L949.8 334.3L950.0 334.3L950.2 335.2L950.4 334.5L950.6 330.4L950.8 329.9L951.0 328.9L951.3 330.4L951.5 334.4L951.7 327.8L951.9 327.5L952.1 327.0L952.3 329.5L952.5 328.2L952.7 320.6L953.0 323.6L953.2 323.7L953.4 326.9L953.6 322.6L953.8 316.4L954.0 319.8L954.2 314.6L954.5 325.7L954.7 321.6L954.9 322.6L955.1 319.6L955.3 315.5L955.5 318.4L955.7 319.5L956.0 310.1L956.2 314.4L956.4 315.3L956.6 312.0L956.8 317.5L957.0 313.2L957.2 311.3L957.5 308.0L957.7 310.4L957.9 307.3L958.1 308.7L958.3 308.5L958.5 316.6L958.7 306.1L958.9 306.2L959.2 307.7L959.4 307.7L959.6 307.0L959.8 308.6L960.0 307.6L960.2 313.0L960.4 308.8L960.7 305.4L960.9 302.4L961.1 307.1L961.3 300.6"/>
</g>
<g stroke="#000" stroke-width="4.2" fill="none">
<rect x="114.63" y="18.30" width="923.64" height="743.49"/>
<path d="M114.63 153.48H128.83"/>
<path d="M114.63 288.66H128.83"/>
<path d="M114.63 423.84H128.83"/>
<path d="M114.63 559.02H128.83"/>
<path d="M114.63 694.20H128.83"/>
<path d="M114.63 85.89H121.63"/>
<path d="M114.63 221.07H121.63"/>
<path d="M114.63 356.25H121.63"/>
<path d="M114.63 491.43H121.63"/>
<path d="M114.63 626.61H121.63"/>
<path d="M191.60 761.79V747.59"/>
<path d="M345.54 761.79V747.59"/>
<path d="M499.48 761.79V747.59"/>
<path d="M653.42 761.79V747.59"/>
<path d="M807.36 761.79V747.59"/>
<path d="M961.30 761.79V747.59"/>
<path d="M268.57 761.79V754.79"/>
<path d="M422.51 761.79V754.79"/>
<path d="M576.45 761.79V754.79"/>
<path d="M730.39 761.79V754.79"/>
<path d="M884.33 761.79V754.79"/>
</g>
<g font-size="31">
<text x="98.3" y="28.3" text-anchor="end">1.5</text>
<text x="98.3" y="163.5" text-anchor="end">1.0</text>
<text x="98.3" y="298.7" text-anchor="end">0.5</text>
<text x="98.3" y="433.8" text-anchor="end">0.0</text>
<text x="98.3" y="569.0" text-anchor="end">-0.5</text>
<text x="98.3" y="704.2" text-anchor="end">-1.0</text>
<text x="191.6" y="800.7" text-anchor="middle">0</text>
<text x="345.5" y="800.7" text-anchor="middle">2</text>
<text x="499.5" y="800.7" text-anchor="middle">4</text>
<text x="653.4" y="800.7" text-anchor="middle">6</text>
<text x="807.4" y="800.7" text-anchor="middle">8</text>
<text x="961.3" y="800.7" text-anchor="middle">10</text>
</g>
<text x="576.3" y="861.4" font-size="38.5" letter-spacing="0.25" text-anchor="middle">Time (s)</text>
<text transform="translate(33.4 389.6) rotate(-90)" font-size="37.7" text-anchor="middle">Amplitude (V)</text>
<text x="979.8" y="846.2" font-size="28.2">×10<tspan font-size="18" dx="-0.3" dy="-11.6">-5</tspan></text>
<rect x="149.2" y="45.7" width="500.3" height="78.2" fill="#fff" stroke="#000" stroke-width="2.4"/>
<g stroke-width="4" stroke-linecap="round" fill="none">
<path d="M149.5 63.4H220.4" stroke="#f83c3c"/>
<path d="M318.0 63.4H388.9" stroke="#ff00ff"/>
<path d="M486.5 63.4H557.4" stroke="#2040ff"/>
<path d="M149.5 102.7H220.4" stroke="#008c00"/>
<path d="M318.0 102.7H388.9" stroke="#4ea6ff"/>
</g>
<g font-size="31.5">
<text x="228.6" y="73.8">0mm</text>
<text x="397.2" y="73.8">5mm</text>
<text x="566.5" y="73.8">10mm</text>
<text x="228.4" y="113.1">20mm</text>
<text x="396.6" y="113.1">40mm</text>
</g>
</svg></body></html>
